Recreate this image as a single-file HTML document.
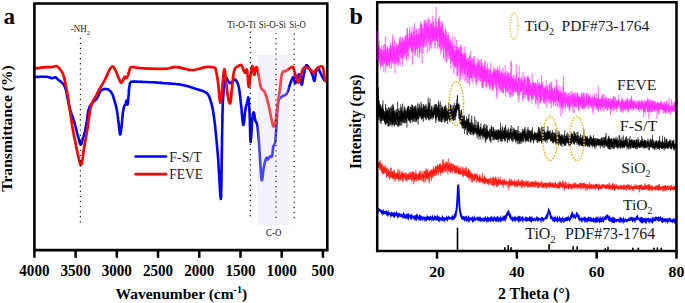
<!DOCTYPE html><html><head><meta charset="utf-8"><style>html,body{margin:0;padding:0;background:#fff;overflow:hidden}svg{display:block}</style></head><body><svg width="685" height="303" viewBox="0 0 685 303">
<rect width="685" height="303" fill="#fff"/>
<path d="M34.5,77.0 L35.9,77.0 37.8,76.9 40.1,76.8 42.5,76.8 44.6,76.7 46.4,76.8 47.7,77.0 48.8,77.2 49.7,77.5 50.5,77.8 51.3,78.1 52.0,78.2 52.7,78.1 53.3,77.9 53.8,77.7 54.3,77.4 54.8,77.3 55.3,77.3 55.8,77.5 56.4,77.9 56.9,78.4 57.5,79.0 58.0,79.5 58.6,80.0 59.2,80.4 59.7,80.9 60.3,81.3 60.9,81.7 61.4,82.2 61.9,82.6 62.3,83.0 62.7,83.4 63.0,83.8 63.4,84.2 63.7,84.6 64.0,85.2 64.3,85.8 64.7,86.5 65.0,87.3 65.3,88.1 65.6,89.0 65.9,90.0 66.2,91.1 66.4,92.4 66.7,93.7 66.9,95.1 67.2,96.5 67.5,98.0 67.8,99.5 68.2,101.2 68.5,102.9 68.9,104.6 69.3,106.1 69.6,107.5 69.9,108.6 70.1,109.5 70.4,110.3 70.6,111.1 70.9,112.0 71.2,113.0 71.6,114.2 72.1,115.5 72.6,116.8 73.1,118.2 73.5,119.6 74.0,121.0 74.4,122.4 74.8,123.9 75.2,125.4 75.6,126.9 75.9,128.4 76.3,129.8 76.7,131.2 77.0,132.6 77.4,134.0 77.8,135.4 78.1,136.7 78.5,138.0 78.9,139.3 79.3,140.8 79.6,142.2 80.0,143.4 80.4,144.2 80.8,144.5 81.2,144.2 81.5,143.4 81.9,142.2 82.3,140.8 82.6,139.3 83.0,138.0 83.4,136.8 83.8,135.5 84.2,134.1 84.6,132.7 85.0,131.3 85.3,129.8 85.6,128.2 85.9,126.6 86.2,124.9 86.5,123.2 86.8,121.5 87.0,120.0 87.2,118.5 87.4,117.1 87.5,115.7 87.7,114.4 87.9,113.2 88.1,112.0 88.3,110.9 88.6,109.9 88.9,109.0 89.2,108.1 89.5,107.2 89.9,106.4 90.3,105.6 90.8,104.9 91.3,104.2 91.8,103.6 92.4,102.9 92.9,102.3 93.5,101.7 94.1,101.3 94.7,100.8 95.3,100.3 95.9,99.7 96.5,99.0 97.1,98.0 97.7,96.9 98.2,95.6 98.8,94.4 99.3,93.3 99.8,92.4 100.2,91.7 100.6,91.2 100.9,90.9 101.3,90.5 101.6,90.3 102.0,90.0 102.4,89.7 102.8,89.5 103.3,89.3 103.7,89.1 104.3,89.0 104.8,89.0 105.4,89.0 106.1,89.0 106.8,89.1 107.5,89.3 108.2,89.5 108.9,89.9 109.5,90.4 110.1,90.9 110.7,91.5 111.2,92.3 111.7,93.1 112.2,94.0 112.7,95.0 113.1,96.2 113.5,97.5 113.9,98.8 114.3,100.1 114.7,101.5 115.1,102.9 115.5,104.3 115.9,105.7 116.2,107.2 116.6,108.7 116.9,110.4 117.2,112.2 117.5,114.0 117.7,116.0 118.0,118.0 118.2,120.0 118.5,122.0 118.8,124.3 119.0,126.9 119.3,129.5 119.6,131.9 119.8,133.6 120.1,134.5 120.4,134.3 120.6,133.4 120.9,131.8 121.1,129.9 121.4,127.9 121.6,126.0 121.8,124.1 122.0,121.9 122.2,119.6 122.4,117.4 122.6,115.3 122.8,113.5 123.0,112.0 123.2,110.8 123.4,109.7 123.6,108.7 123.8,107.8 124.0,107.0 124.2,106.3 124.5,105.8 124.8,105.3 125.0,104.9 125.3,104.5 125.5,104.0 125.7,103.4 125.9,102.6 126.0,101.8 126.2,101.1 126.4,100.7 126.5,100.5 126.6,100.8 126.8,101.5 126.9,102.4 127.0,103.4 127.2,104.1 127.3,104.5 127.4,104.6 127.5,104.5 127.6,104.2 127.7,103.8 127.9,103.0 128.0,102.0 128.2,100.5 128.3,98.5 128.5,96.2 128.7,93.9 128.8,91.8 129.0,90.0 129.1,88.6 129.3,87.4 129.4,86.4 129.5,85.5 129.7,84.7 129.8,84.0 129.9,83.4 130.0,83.0 130.1,82.8 130.3,82.6 130.5,82.4 130.8,82.2 131.1,82.0 131.2,81.9 131.5,81.7 131.9,81.7 132.8,81.6 134.3,81.6 136.6,81.6 139.6,81.7 143.0,81.9 146.5,82.0 149.9,82.2 152.7,82.3 155.1,82.4 157.1,82.6 159.0,82.8 160.8,82.9 162.6,83.1 164.3,83.2 166.0,83.3 167.7,83.4 169.3,83.5 170.8,83.6 172.3,83.8 173.9,83.9 175.4,84.0 176.9,84.2 178.4,84.3 179.9,84.5 181.4,84.8 183.1,85.1 184.9,85.5 186.8,86.1 188.8,86.6 190.8,87.2 192.8,87.8 194.6,88.4 196.3,88.9 198.0,89.4 199.7,89.9 201.2,90.4 202.6,90.9 203.9,91.5 205.0,92.0 205.8,92.5 206.6,93.0 207.2,93.6 207.9,94.4 208.5,95.4 209.2,96.7 209.8,98.3 210.4,100.0 211.0,101.8 211.5,103.8 212.0,105.8 212.5,107.9 212.9,110.1 213.3,112.4 213.6,114.8 214.0,117.3 214.3,119.7 214.6,122.1 214.9,124.4 215.2,126.7 215.4,129.2 215.7,131.9 216.0,135.0 216.3,138.4 216.7,141.9 217.0,145.7 217.4,149.9 217.8,154.4 218.2,159.5 218.6,166.1 219.1,174.5 219.6,183.2 220.0,191.1 220.5,196.8 220.8,199.0 221.1,196.9 221.2,191.3 221.4,183.6 221.5,174.9 221.6,166.4 221.7,159.5 221.8,154.0 221.9,148.8 222.0,143.9 222.0,139.2 222.1,134.5 222.2,129.8 222.3,125.0 222.4,120.1 222.4,115.3 222.6,110.6 222.7,106.1 222.9,101.7 223.2,97.3 223.5,92.7 223.8,88.3 224.2,84.2 224.6,80.9 225.0,78.5 225.4,77.3 225.8,77.0 226.2,77.4 226.6,78.2 227.0,79.1 227.4,79.7 227.8,80.2 228.2,80.8 228.6,81.5 228.9,82.2 229.3,82.8 229.7,83.1 230.1,83.2 230.4,83.1 230.8,82.9 231.1,82.6 231.5,82.3 232.0,82.0 232.5,81.6 233.1,80.9 233.7,80.3 234.3,79.7 234.9,79.5 235.5,79.7 236.1,80.3 236.7,81.3 237.3,82.5 237.9,84.0 238.4,85.8 238.9,87.8 239.3,90.1 239.7,92.8 240.1,95.7 240.4,98.7 240.7,101.9 241.1,105.0 241.5,108.6 241.8,112.8 242.2,117.0 242.6,120.8 242.9,123.7 243.3,125.0 243.6,124.5 244.0,122.4 244.3,119.3 244.6,115.8 245.0,112.5 245.3,110.0 245.7,108.1 246.0,106.4 246.4,104.9 246.8,103.6 247.1,102.4 247.4,101.3 247.6,100.2 247.8,99.1 248.0,98.2 248.1,97.6 248.2,97.5 248.4,98.1 248.6,99.5 248.8,101.5 249.0,104.0 249.2,107.0 249.4,110.3 249.6,113.9 249.8,118.4 249.9,124.2 250.1,130.3 250.2,135.9 250.4,140.1 250.6,142.0 250.8,141.1 251.1,137.9 251.4,133.3 251.7,128.3 251.9,123.6 252.2,120.2 252.5,117.9 252.7,116.0 252.9,114.4 253.2,113.2 253.4,112.5 253.7,112.3 254.0,112.7 254.2,113.8 254.5,115.4 254.7,117.1 255.0,118.8 255.3,120.2 255.6,121.1 256.0,121.8 256.4,122.4 256.8,123.2 257.1,124.5 257.5,126.4 257.8,129.1 258.1,132.2 258.4,135.9 258.8,139.8 259.1,144.1 259.4,148.5 259.7,153.7 260.1,159.9 260.5,166.4 260.9,172.4 261.2,177.2 261.6,180.0 262.0,180.4 262.3,178.9 262.7,176.2 263.0,172.9 263.4,169.7 263.8,167.3 264.2,165.4 264.6,163.5 265.1,161.7 265.5,160.1 265.9,158.8 266.3,157.9 266.6,157.6 266.9,157.8 267.1,158.3 267.4,158.9 267.6,159.4 267.9,159.5 268.2,159.2 268.6,158.7 269.0,158.0 269.4,157.3 269.7,156.7 270.1,156.3 270.4,156.2 270.8,156.4 271.1,156.7 271.4,156.9 271.7,156.8 272.0,156.3 272.2,155.2 272.4,153.7 272.6,151.9 272.8,150.0 273.0,148.3 273.2,146.9 273.5,146.0 273.8,145.4 274.1,145.0 274.5,144.4 274.8,143.6 275.1,142.2 275.4,140.2 275.6,137.9 275.8,135.2 276.0,132.3 276.2,129.3 276.4,126.4 276.6,123.3 276.8,120.0 277.0,116.5 277.2,113.2 277.4,110.1 277.6,107.6 277.8,105.6 278.0,104.0 278.1,102.7 278.3,101.6 278.6,100.6 278.9,99.7 279.3,98.9 279.9,98.2 280.5,97.7 281.0,97.3 281.6,96.9 282.0,96.6 282.3,96.4 282.4,96.2 282.6,96.2 282.7,96.1 282.9,96.0 283.2,95.8 283.7,95.6 284.3,95.4 284.9,95.1 285.6,94.7 286.3,94.2 286.9,93.4 287.4,92.3 288.0,90.9 288.5,89.3 289.0,87.6 289.4,86.1 289.9,84.7 290.3,83.5 290.8,82.3 291.1,81.2 291.5,80.3 291.9,79.4 292.2,78.7 292.5,78.1 292.7,77.6 292.9,77.3 293.2,77.1 293.4,77.1 293.6,77.3 293.8,78.0 294.1,79.1 294.3,80.4 294.5,81.7 294.8,82.7 295.1,83.2 295.4,83.2 295.8,82.7 296.3,82.0 296.7,81.2 297.1,80.3 297.4,79.5 297.7,78.6 297.9,77.6 298.1,76.5 298.4,75.5 298.6,74.7 298.8,74.3 299.0,74.3 299.3,74.5 299.5,75.0 299.8,75.7 300.0,76.5 300.3,77.3 300.6,78.4 300.8,80.0 301.1,81.7 301.3,83.2 301.6,84.3 301.8,84.7 302.0,84.4 302.3,83.4 302.5,82.1 302.7,80.5 303.0,78.9 303.3,77.3 303.6,75.6 304.0,73.7 304.4,71.7 304.8,69.8 305.2,68.2 305.5,66.9 305.8,66.1 306.0,65.6 306.2,65.3 306.5,65.2 306.7,65.3 307.0,65.4 307.3,65.6 307.7,66.0 308.0,66.4 308.4,67.0 308.8,67.7 309.2,68.4 309.7,69.2 310.2,70.1 310.7,71.1 311.2,72.2 311.7,73.2 312.2,74.3 312.6,75.5 313.0,77.0 313.4,78.5 313.7,79.8 314.1,80.7 314.4,81.0 314.7,80.5 314.9,79.3 315.1,77.6 315.4,75.9 315.6,74.2 315.9,72.8 316.2,71.6 316.6,70.5 316.9,69.4 317.3,68.5 317.7,67.8 318.1,67.6 318.5,67.9 318.9,68.6 319.2,69.6 319.6,70.7 320.0,71.9 320.4,72.8 320.8,73.6 321.2,74.4 321.5,75.2 321.9,75.9 322.3,76.7 322.6,77.3 322.9,77.9 323.3,78.5 323.6,79.0 323.9,79.5 324.2,79.9 324.4,80.2 324.6,80.4 324.8,80.5 325.0,80.5 325.1,80.5 325.2,80.5 325.3,80.5" fill="none" stroke="#0000ff" stroke-width="2.6" stroke-linejoin="round" stroke-linecap="round"/>
<path d="M34.5,68.4 L35.7,68.3 37.4,68.1 39.3,67.9 41.4,67.6 43.3,67.4 45.0,67.3 46.4,67.2 47.7,67.2 48.9,67.1 50.1,67.1 51.1,67.1 52.0,67.0 52.8,66.9 53.5,66.7 54.1,66.5 54.6,66.4 55.0,66.3 55.5,66.2 55.9,66.2 56.3,66.2 56.6,66.2 56.8,66.3 57.1,66.5 57.5,66.7 57.9,67.0 58.4,67.4 58.8,67.8 59.3,68.3 59.8,68.8 60.2,69.4 60.6,70.0 61.1,70.6 61.5,71.3 61.9,72.0 62.3,72.7 62.7,73.5 63.0,74.2 63.3,75.0 63.6,75.7 63.9,76.6 64.1,77.5 64.4,78.5 64.7,79.7 64.9,81.0 65.2,82.4 65.5,83.8 65.7,85.3 66.0,86.7 66.3,88.0 66.5,89.3 66.8,90.6 67.1,92.0 67.3,93.4 67.6,95.0 67.9,96.8 68.2,98.9 68.5,101.0 68.8,103.2 69.0,105.2 69.3,107.0 69.5,108.5 69.7,109.7 69.9,110.8 70.1,112.0 70.3,113.3 70.6,115.0 70.9,117.0 71.2,119.2 71.6,121.7 72.0,124.3 72.4,127.0 72.9,129.8 73.5,132.9 74.1,136.4 74.9,140.0 75.6,143.5 76.2,146.7 76.8,149.5 77.3,151.8 77.7,153.7 78.0,155.4 78.4,156.9 78.7,158.2 79.0,159.5 79.3,160.8 79.6,162.1 79.9,163.2 80.2,164.1 80.5,164.8 80.8,165.0 81.1,164.8 81.4,164.1 81.7,163.2 82.0,162.1 82.2,160.8 82.5,159.5 82.7,158.2 82.9,156.9 83.0,155.4 83.2,153.7 83.5,151.8 83.8,149.5 84.3,146.7 84.9,143.2 85.6,139.6 86.2,135.9 86.8,132.6 87.3,129.8 87.6,127.7 87.9,126.1 88.0,124.9 88.2,123.7 88.3,122.5 88.5,121.0 88.7,119.2 89.0,117.3 89.3,115.3 89.6,113.3 89.8,111.5 90.1,110.0 90.3,108.8 90.6,107.8 90.8,107.0 91.0,106.2 91.3,105.5 91.5,104.8 91.8,104.1 92.0,103.4 92.3,102.7 92.6,102.0 92.9,101.4 93.2,100.7 93.6,100.0 93.9,99.4 94.3,98.8 94.8,98.1 95.2,97.3 95.7,96.5 96.2,95.5 96.7,94.5 97.2,93.4 97.8,92.2 98.4,91.0 99.0,89.9 99.7,88.7 100.4,87.5 101.1,86.3 101.8,85.1 102.5,84.0 103.1,83.0 103.6,82.1 104.0,81.3 104.4,80.6 104.8,79.9 105.1,79.3 105.5,78.5 105.9,77.7 106.2,76.9 106.6,76.0 107.0,75.1 107.3,74.3 107.7,73.5 108.1,72.7 108.5,71.9 108.8,71.1 109.2,70.3 109.6,69.6 110.0,69.0 110.4,68.4 110.8,67.9 111.2,67.4 111.6,67.0 112.0,66.7 112.3,66.5 112.6,66.4 112.9,66.5 113.2,66.6 113.4,66.8 113.7,67.1 114.0,67.5 114.3,67.9 114.5,68.4 114.8,68.9 115.1,69.5 115.4,70.3 115.8,71.2 116.3,72.3 116.9,73.7 117.5,75.2 118.1,76.7 118.7,78.1 119.2,79.2 119.6,80.1 119.9,80.9 120.2,81.6 120.4,82.1 120.6,82.5 120.9,82.7 121.2,82.7 121.5,82.6 121.8,82.3 122.1,81.9 122.4,81.4 122.7,80.9 123.0,80.3 123.3,79.5 123.7,78.7 124.0,77.9 124.3,77.3 124.6,76.9 124.9,76.8 125.2,77.0 125.4,77.4 125.7,77.8 125.9,78.0 126.2,78.1 126.5,78.0 126.7,77.7 127.0,77.4 127.3,77.0 127.5,76.4 127.8,75.8 128.1,75.0 128.4,74.0 128.7,72.9 129.0,71.9 129.3,70.8 129.6,70.0 129.8,69.3 129.9,68.6 130.1,68.1 130.3,67.6 130.7,67.2 131.5,67.0 132.5,67.0 133.7,67.1 135.0,67.4 136.7,67.7 138.7,68.0 141.2,68.2 144.4,68.4 148.3,68.6 152.6,68.7 156.9,68.9 160.9,68.9 164.3,68.9 166.9,68.7 168.9,68.3 170.7,67.8 172.3,67.4 174.1,67.1 176.2,67.0 178.7,67.3 181.3,67.9 184.1,68.6 186.9,69.3 189.7,69.8 192.3,70.0 194.8,69.8 197.3,69.3 199.8,68.6 202.1,67.9 204.2,67.4 206.2,67.0 208.0,66.9 209.6,66.9 211.0,67.0 212.3,67.2 213.4,67.4 214.3,67.7 214.9,67.9 215.3,68.1 215.5,68.4 215.6,68.8 215.8,69.4 216.0,70.5 216.3,72.0 216.7,73.7 217.0,75.7 217.4,78.0 217.7,80.5 218.1,83.1 218.5,86.4 218.9,90.6 219.2,95.0 219.6,98.9 220.0,101.7 220.4,102.8 220.8,101.7 221.2,98.9 221.6,95.0 222.0,90.7 222.4,86.5 222.7,83.1 223.0,80.1 223.3,77.0 223.6,74.1 223.8,71.6 224.1,69.9 224.4,69.3 224.7,70.0 225.0,71.8 225.3,74.3 225.6,77.3 225.9,80.3 226.2,83.1 226.6,85.8 226.9,88.8 227.3,91.9 227.7,94.8 228.1,97.4 228.5,99.4 228.8,100.9 229.2,102.2 229.5,103.1 229.8,103.5 230.1,103.4 230.4,102.8 230.7,101.4 230.9,99.3 231.2,96.6 231.4,93.7 231.7,90.7 232.0,87.8 232.3,84.9 232.7,81.7 233.0,78.4 233.4,75.3 233.8,72.5 234.3,70.4 234.8,68.9 235.4,68.0 236.0,67.5 236.6,67.1 237.2,66.8 237.8,66.5 238.4,66.0 239.0,65.6 239.6,65.2 240.2,65.0 240.8,64.9 241.3,65.1 241.8,65.6 242.2,66.5 242.6,67.5 242.9,68.6 243.3,69.6 243.6,70.4 243.9,71.0 244.2,71.6 244.4,72.1 244.7,72.4 244.9,72.6 245.2,72.7 245.5,72.3 245.8,71.4 246.1,70.4 246.4,69.6 246.7,69.4 247.0,70.0 247.3,72.0 247.6,75.2 247.9,78.9 248.2,82.6 248.5,85.5 248.8,87.0 249.1,86.9 249.3,85.8 249.5,83.9 249.8,81.6 250.0,79.3 250.3,77.3 250.6,75.3 250.9,72.9 251.3,70.5 251.6,68.4 252.0,66.8 252.3,66.1 252.6,66.6 253.0,68.1 253.3,70.2 253.7,72.4 254.0,74.1 254.3,74.8 254.6,74.4 254.9,73.2 255.2,71.5 255.4,69.7 255.7,68.2 256.0,67.4 256.3,67.1 256.5,67.0 256.8,67.1 257.0,67.6 257.3,68.5 257.7,69.9 258.1,72.1 258.6,75.0 259.2,78.4 259.7,81.8 260.3,84.9 260.9,87.2 261.5,88.6 262.1,89.5 262.8,90.0 263.4,90.4 264.1,91.0 264.7,92.1 265.3,93.7 265.9,95.5 266.6,97.5 267.2,99.7 267.8,102.1 268.4,104.5 269.0,107.3 269.7,110.4 270.4,113.7 271.0,116.9 271.6,119.8 272.1,122.0 272.5,123.6 272.8,124.9 273.1,125.7 273.3,126.3 273.5,126.5 273.8,126.5 274.1,126.1 274.4,125.4 274.8,124.4 275.1,123.2 275.4,121.7 275.7,120.2 276.0,118.5 276.2,116.6 276.5,114.5 276.7,112.2 277.0,109.9 277.3,107.6 277.6,105.2 278.0,102.8 278.3,100.2 278.7,97.6 279.1,94.9 279.5,92.1 279.9,89.0 280.3,85.6 280.7,82.0 281.1,78.7 281.5,75.8 282.0,73.6 282.6,72.3 283.2,71.6 283.8,71.3 284.5,71.3 285.1,71.3 285.7,71.1 286.2,70.7 286.6,70.4 287.1,70.1 287.5,69.8 288.0,69.4 288.5,69.1 289.2,68.7 290.0,68.1 290.8,67.6 291.6,67.2 292.3,66.9 292.9,66.9 293.3,67.2 293.6,67.8 293.8,68.5 294.0,69.4 294.1,70.3 294.4,71.3 294.7,72.4 295.1,73.7 295.5,75.0 295.8,76.4 296.2,77.6 296.6,78.7 297.0,79.7 297.3,80.6 297.7,81.5 298.1,82.2 298.4,82.5 298.8,82.4 299.2,81.7 299.6,80.5 300.0,79.0 300.3,77.3 300.7,75.7 301.1,74.3 301.5,73.1 301.8,72.0 302.2,70.9 302.5,69.9 302.9,69.1 303.3,68.4 303.7,67.9 304.2,67.7 304.7,67.5 305.2,67.5 305.8,67.5 306.3,67.6 306.9,67.7 307.5,67.8 308.1,68.1 308.7,68.4 309.4,68.7 310.0,69.1 310.6,69.7 311.3,70.4 311.9,71.2 312.6,72.0 313.2,72.5 313.7,72.8 314.1,72.7 314.5,72.3 314.8,71.7 315.1,71.0 315.5,70.4 315.9,69.8 316.4,69.3 317.0,68.7 317.7,68.2 318.4,67.6 319.0,67.2 319.6,66.9 320.2,66.6 320.7,66.4 321.2,66.3 321.7,66.2 322.2,66.4 322.6,66.9 322.9,67.7 323.2,68.8 323.5,70.2 323.7,71.6 323.9,73.0 324.1,74.3 324.3,75.5 324.6,76.8 324.8,78.1 325.0,79.3 325.2,80.3 325.3,81.0" fill="none" stroke="#ff0000" stroke-width="2.7" stroke-linejoin="round" stroke-linecap="round"/>
<rect x="257.7" y="55" width="30.6" height="170.3" fill="#dcd2f0" fill-opacity="0.32"/>
<line x1="80.4" y1="38.3" x2="80.4" y2="222.04" stroke="#111" stroke-width="1.4" stroke-dasharray="0.01 5.09" stroke-linecap="round"/>
<line x1="250.4" y1="32.2" x2="250.4" y2="215.94" stroke="#111" stroke-width="1.4" stroke-dasharray="0.01 5.09" stroke-linecap="round"/>
<line x1="276" y1="33.6" x2="276" y2="217.34" stroke="#111" stroke-width="1.4" stroke-dasharray="0.01 5.09" stroke-linecap="round"/>
<line x1="294.2" y1="33.9" x2="294.2" y2="217.64" stroke="#111" stroke-width="1.4" stroke-dasharray="0.01 5.09" stroke-linecap="round"/>
<path d="M34.4,3.5 H327.3 V250.1 H34.4 Z" fill="none" stroke="#000" stroke-width="2.6"/>
<line x1="34.40" y1="250.1" x2="34.40" y2="257.8" stroke="#000" stroke-width="2.5"/>
<text x="34.40" y="275.6" text-anchor="middle" textLength="30.20" lengthAdjust="spacingAndGlyphs" style="font-family:'Liberation Serif',serif;font-weight:bold;font-size:15.8px">4000</text>
<line x1="75.62" y1="250.1" x2="75.62" y2="257.8" stroke="#000" stroke-width="2.5"/>
<text x="75.62" y="275.6" text-anchor="middle" textLength="30.20" lengthAdjust="spacingAndGlyphs" style="font-family:'Liberation Serif',serif;font-weight:bold;font-size:15.8px">3500</text>
<line x1="116.83" y1="250.1" x2="116.83" y2="257.8" stroke="#000" stroke-width="2.5"/>
<text x="116.83" y="275.6" text-anchor="middle" textLength="30.20" lengthAdjust="spacingAndGlyphs" style="font-family:'Liberation Serif',serif;font-weight:bold;font-size:15.8px">3000</text>
<line x1="158.05" y1="250.1" x2="158.05" y2="257.8" stroke="#000" stroke-width="2.5"/>
<text x="158.05" y="275.6" text-anchor="middle" textLength="30.20" lengthAdjust="spacingAndGlyphs" style="font-family:'Liberation Serif',serif;font-weight:bold;font-size:15.8px">2500</text>
<line x1="199.26" y1="250.1" x2="199.26" y2="257.8" stroke="#000" stroke-width="2.5"/>
<text x="199.26" y="275.6" text-anchor="middle" textLength="30.20" lengthAdjust="spacingAndGlyphs" style="font-family:'Liberation Serif',serif;font-weight:bold;font-size:15.8px">2000</text>
<line x1="240.48" y1="250.1" x2="240.48" y2="257.8" stroke="#000" stroke-width="2.5"/>
<text x="240.48" y="275.6" text-anchor="middle" textLength="30.20" lengthAdjust="spacingAndGlyphs" style="font-family:'Liberation Serif',serif;font-weight:bold;font-size:15.8px">1500</text>
<line x1="281.69" y1="250.1" x2="281.69" y2="257.8" stroke="#000" stroke-width="2.5"/>
<text x="281.69" y="275.6" text-anchor="middle" textLength="30.20" lengthAdjust="spacingAndGlyphs" style="font-family:'Liberation Serif',serif;font-weight:bold;font-size:15.8px">1000</text>
<line x1="322.90" y1="250.1" x2="322.90" y2="257.8" stroke="#000" stroke-width="2.5"/>
<text x="322.90" y="275.6" text-anchor="middle" textLength="22.65" lengthAdjust="spacingAndGlyphs" style="font-family:'Liberation Serif',serif;font-weight:bold;font-size:15.8px">500</text>
<text x="181.3" y="298.5" text-anchor="middle" style="font-family:'Liberation Serif',serif;font-weight:bold;font-size:15.5px">Wavenumber (cm<tspan dy="-6" font-size="10">-1</tspan><tspan dy="6">)</tspan></text>
<text transform="translate(11.6,128.5) rotate(-90)" text-anchor="middle" textLength="126.6" lengthAdjust="spacingAndGlyphs" style="font-family:'Liberation Serif',serif;font-weight:bold;font-size:15.6px">Transmittance (%)</text>
<text x="3.5" y="23.5" style="font-family:'Liberation Serif',serif;font-weight:bold;font-size:23px">a</text>
<text x="70.8" y="32.2" textLength="16" lengthAdjust="spacingAndGlyphs" style="font-family:'Liberation Serif',serif;font-size:10px" fill="#1a1a1a">-NH</text>
<text x="86.9" y="34.6" style="font-family:'Liberation Serif',serif;font-size:6.3px" fill="#1a1a1a">2</text>
<text x="227.3" y="28.1" textLength="28.6" lengthAdjust="spacingAndGlyphs" style="font-family:'Liberation Serif',serif;font-size:10.2px" fill="#1a1a1a">Ti-O-Ti</text>
<text x="258.8" y="28.1" textLength="27.3" lengthAdjust="spacingAndGlyphs" style="font-family:'Liberation Serif',serif;font-size:10.2px" fill="#1a1a1a">Si-O-Si</text>
<text x="289.3" y="28.1" textLength="16.5" lengthAdjust="spacingAndGlyphs" style="font-family:'Liberation Serif',serif;font-size:10.2px" fill="#1a1a1a">Si-O</text>
<text x="266.1" y="236.4" textLength="15.4" lengthAdjust="spacingAndGlyphs" style="font-family:'Liberation Serif',serif;font-size:9.6px" fill="#111">C-O</text>
<line x1="135.6" y1="156.5" x2="166" y2="156.5" stroke="#0000ff" stroke-width="2.7" stroke-linecap="round"/>
<line x1="135.6" y1="174.2" x2="166" y2="174.2" stroke="#ff0000" stroke-width="2.7" stroke-linecap="round"/>
<text x="169.3" y="161.6" textLength="32.4" lengthAdjust="spacingAndGlyphs" style="font-family:'Liberation Serif',serif;font-size:14px" fill="#1a1a1a">F-S/T</text>
<text x="169.3" y="178.9" textLength="33.6" lengthAdjust="spacingAndGlyphs" style="font-family:'Liberation Serif',serif;font-size:14px" fill="#1a1a1a">FEVE</text>
<path transform="translate(377.60,0) scale(0.06,0.1)" d="M0,565l1,19 1,-36 1,-38 1,27 1,-33 1,65 1,80 1,-114 1,-7 1,69 1,-9 1,-15 1,-64 1,56 1,45 1,-127 1,56 1,-90 1,38 1,-34 1,100 1,-64 1,96 1,-7 1,-22 1,-145 1,93 1,61 1,11 1,-103 1,66 1,-31 1,11 1,116 1,-116 1,48 1,58 1,-92 1,24 1,20 1,-3 1,-80 1,81 1,80 1,-181 1,150 1,-46 1,-47 1,165 1,-77 1,-123 1,80 1,32 1,-48 1,54 1,-46 1,46 1,48 1,-132 1,55 1,-42 1,37 1,-82 1,38 1,24 1,69 1,16 1,-155 1,33 1,91 1,-166 1,96 1,23 1,86 1,-36 1,-64 1,-2 1,7 1,112 1,-123 1,8 1,41 1,-36 1,2 1,-58 1,70 1,-27 1,101 1,-32 1,-43 1,44 1,-83 1,107 1,-66 1,37 1,-118 1,103 1,-129 1,-21 1,109 1,-38 1,68 1,132 1,-195 1,13 1,53 1,18 1,-43 1,-1 1,57 1,-11 1,-99 1,61 1,7 1,-69 1,83 1,-71 1,117 1,-50 1,-6 1,-44 1,30 1,-119 1,55 1,95 1,-159 1,190 1,-265 1,259 1,-102 1,103 1,-41 1,-106 1,249 1,-60 1,-96 1,-13 1,-2 1,-43 1,132 1,-105 1,32 1,-48 1,11 1,-42 1,162 1,-91 1,72 1,-61 1,-45 1,23 1,-15 1,36 1,-25 1,5 1,-69 1,36 1,158 1,-149 1,-25 1,89 1,69 1,-184 1,80 1,-28 1,-72 1,160 1,-49 1,6 1,-53 1,77 1,-64 1,25 1,-62 1,-7 1,164 1,-119 1,51 1,-21 1,-26 1,-5 1,73 1,-60 1,10 1,11 1,74 1,-32 1,-20 1,-61 1,-53 1,150 1,1 1,-71 1,43 1,16 1,3 1,5 1,-89 1,127 1,-178 1,136 1,-24 1,24 1,65 1,-26 1,-170 1,-36 1,162 1,-119 1,65 1,55 1,-161 1,-31 1,154 1,-15 1,-19 1,18 1,-58 1,-43 1,87 1,-52 1,-44 1,139 1,-37 1,30 1,-91 1,22 1,-23 1,7 1,70 1,-64 1,74 1,-1 1,109 1,-222 1,148 1,-64 1,4 1,-93 1,64 1,78 1,-54 1,10 1,-24 1,94 1,-77 1,-143 1,98 1,-83 1,-84 1,177 1,121 1,-84 1,-80 1,15 1,135 1,-55 1,-16 1,-7 1,5 1,50 1,-17 1,-22 1,-82 1,101 1,-79 1,116 1,-155 1,66 1,17 1,-87 1,199 1,-17 1,-127 1,81 1,-26 1,-196 1,187 1,-21 1,9 1,-76 1,53 1,5 1,90 1,-57 1,-22 1,100 1,-137 1,11 1,-94 1,315 1,-133 1,-4 1,-16 1,-37 1,6 1,-31 1,3 1,17 1,95 1,-63 1,-41 1,-34 1,-4 1,147 1,-73 1,-29 1,-28 1,-50 1,68 1,62 1,-107 1,34 1,0 1,21 1,-113 1,90 1,-41 1,114 1,-110 1,89 1,62 1,-121 1,-20 1,52 1,-13 1,-66 1,96 1,103 1,-151 1,3 1,-56 1,90 1,-104 1,9 1,158 1,-146 1,132 1,29 1,-85 1,20 1,92 1,-143 1,-27 1,-50 1,92 1,95 1,-35 1,-127 1,6 1,23 1,52 1,-33 1,27 1,6 1,-40 1,16 1,16 1,-19 1,38 1,91 1,-85 1,-36 1,-117 1,138 1,-156 1,35 1,151 1,-10 1,-58 1,-104 1,89 1,-21 1,126 1,69 1,-137 1,-67 1,-97 1,145 1,-8 1,-66 1,84 1,-85 1,151 1,-3 1,1 1,-105 1,66 1,-44 1,-17 1,3 1,-65 1,-10 1,149 1,-66 1,27 1,52 1,-184 1,16 1,112 1,14 1,-52 1,94 1,-56 1,-96 1,19 1,116 1,-23 1,-159 1,218 1,-51 1,50 1,-117 1,6 1,-57 1,247 1,-183 1,118 1,-151 1,54 1,-124 1,87 1,92 1,-152 1,157 1,-50 1,-94 1,36 1,-25 1,55 1,-66 1,13 1,35 1,-49 1,-19 1,84 1,63 1,-164 1,104 1,-45 1,-23 1,124 1,-93 1,136 1,-155 1,79 1,-42 1,-36 1,91 1,-51 1,51 1,-45 1,-70 1,66 1,10 1,61 1,-127 1,59 1,-115 1,161 1,-118 1,-50 1,119 1,79 1,-180 1,30 1,23 1,-27 1,103 1,-82 1,6 1,89 1,-92 1,81 1,-97 1,-16 1,-43 1,252 1,-150 1,39 1,-19 1,12 1,-8 1,127 1,-202 1,-36 1,37 1,-22 1,142 1,5 1,-123 1,-115 1,156 1,120 1,-289 1,229 1,-110 1,145 1,-146 1,54 1,-84 1,36 1,162 1,-39 1,-85 1,-32 1,-71 1,103 1,24 1,-4 1,-6 1,-66 1,73 1,1 1,92 1,39 1,-139 1,-43 1,48 1,-38 1,-10 1,47 1,-68 1,114 1,-50 1,24 1,-30 1,-38 1,-16 1,49 1,-22 1,54 1,-17 1,-179 1,184 1,-99 1,51 1,22 1,-124 1,150 1,4 1,-22 1,-19 1,3 1,-42 1,49 1,-20 1,44 1,-90 1,100 1,2 1,-29 1,-49 1,96 1,-155 1,148 1,-15 1,2 1,31 1,-97 1,27 1,63 1,-15 1,-16 1,-121 1,144 1,44 1,-12 1,-55 1,-126 1,175 1,-76 1,-168 1,204 1,-132 1,13 1,47 1,133 1,-116 1,45 1,104 1,90 1,-221 1,-10 1,-72 1,39 1,79 1,-3 1,-20 1,62 1,-125 1,50 1,55 1,-10 1,34 1,-48 1,-50 1,47 1,-97 1,-46 1,157 1,-45 1,25 1,-142 1,94 1,-17 1,-19 1,-100 1,136 1,88 1,-37 1,-71 1,42 1,54 1,-250 1,187 1,47 1,9 1,73 1,-41 1,-59 1,-1 1,34 1,-95 1,35 1,68 1,74 1,-151 1,7 1,18 1,81 1,-99 1,107 1,-174 1,55 1,-1 1,70 1,18 1,-183 1,-17 1,148 1,-114 1,-20 1,184 1,-40 1,0 1,-70 1,107 1,-91 1,95 1,-203 1,62 1,76 1,-66 1,99 1,-30 1,-86 1,72 1,-31 1,91 1,-112 1,13 1,119 1,74 1,-18 1,-140 1,11 1,94 1,-120 1,-62 1,79 1,53 1,-123 1,-59 1,14 1,152 1,-103 1,35 1,34 1,29 1,-69 1,60 1,-102 1,38 1,-48 1,156 1,-85 1,-52 1,28 1,9 1,67 1,-168 1,40 1,48 1,212 1,-116 1,-78 1,60 1,97 1,-167 1,-10 1,114 1,-52 1,56 1,-130 1,177 1,-16 1,-84 1,8 1,-199 1,195 1,-62 1,46 1,18 1,-76 1,-99 1,150 1,-81 1,29 1,-20 1,19 1,-145 1,258 1,-71 1,62 1,64 1,-144 1,-135 1,66 1,-23 1,51 1,42 1,-153 1,172 1,-137 1,133 1,-31 1,-15 1,17 1,-35 1,-6 1,-79 1,121 1,261 1,-113 1,-49 1,-46 1,-103 1,156 1,-111 1,-2 1,-16 1,27 1,-39 1,25 1,-74 1,52 1,196 1,-174 1,-13 1,56 1,13 1,-136 1,53 1,97 1,-49 1,-11 1,106 1,-166 1,56 1,-45 1,148 1,-256 1,95 1,10 1,88 1,-5 1,59 1,-221 1,172 1,-78 1,-28 1,89 1,-109 1,-87 1,127 1,-84 1,62 1,76 1,-5 1,94 1,-133 1,-100 1,58 1,-13 1,-23 1,123 1,-81 1,-99 1,199 1,-61 1,34 1,-19 1,39 1,-45 1,90 1,-61 1,-3 1,1 1,-140 1,96 1,-7 1,34 1,-117 1,223 1,-115 1,-99 1,-37 1,106 1,14 1,-47 1,60 1,-55 1,126 1,-133 1,48 1,78 1,119 1,-268 1,40 1,-28 1,121 1,-145 1,49 1,34 1,-72 1,1 1,36 1,-122 1,49 1,77 1,41 1,-25 1,-120 1,98 1,94 1,-18 1,-48 1,-61 1,113 1,-91 1,-44 1,-27 1,222 1,-92 1,70 1,-123 1,106 1,-116 1,22 1,209 1,-130 1,-95 1,31 1,30 1,66 1,-127 1,-95 1,110 1,21 1,7 1,91 1,-76 1,37 1,-144 1,148 1,92 1,-100 1,-39 1,-8 1,122 1,-203 1,61 1,42 1,21 1,-88 1,55 1,-44 1,30 1,-19 1,-76 1,84 1,67 1,-138 1,54 1,68 1,-130 1,93 1,-93 1,164 1,89 1,-22 1,-168 1,72 1,-47 1,-1 1,108 1,-215 1,178 1,-83 1,109 1,-91 1,-64 1,71 1,34 1,-52 1,34 1,-76 1,-120 1,227 1,-15 1,-42 1,-5 1,72 1,-112 1,-18 1,39 1,103 1,-193 1,193 1,-137 1,-34 1,177 1,-102 1,-89 1,70 1,97 1,19 1,-120 1,62 1,23 1,-101 1,75 1,-29 1,-37 1,3 1,42 1,-3 1,-44 1,11 1,115 1,-67 1,50 1,24 1,-45 1,125 1,-230 1,122 1,-84 1,162 1,-11 1,-272 1,74 1,122 1,9 1,-3 1,-60 1,39 1,15 1,-54 1,83 1,-337 1,308 1,-123 1,148 1,-88 1,-48 1,94 1,-95 1,0 1,-48 1,114 1,40 1,39 1,-86 1,89 1,-76 1,-8 1,50 1,36 1,-103 1,7 1,7 1,18 1,-72 1,143 1,-105 1,64 1,-95 1,88 1,3 1,-59 1,180 1,-121 1,104 1,-60 1,-119 1,21 1,61 1,-27 1,0 1,-24 1,-112 1,117 1,-146 1,191 1,-80 1,1 1,37 1,37 1,-125 1,-22 1,50 1,-71 1,80 1,188 1,-194 1,126 1,-238 1,214 1,-45 1,20 1,46 1,88 1,-114 1,-4 1,-80 1,153 1,-99 1,80 1,-63 1,131 1,-272 1,124 1,87 1,-89 1,-32 1,39 1,-81 1,111 1,170 1,-94 1,-164 1,18 1,35 1,103 1,-132 1,-35 1,161 1,-1 1,-89 1,-54 1,-30 1,62 1,-110 1,217 1,-99 1,81 1,101 1,-49 1,-168 1,147 1,22 1,-137 1,-15 1,62 1,-107 1,223 1,-279 1,94 1,62 1,4 1,29 1,8 1,-34 1,98 1,-236 1,156 1,-51 1,62 1,7 1,-81 1,21 1,104 1,-31 1,-74 1,197 1,20 1,-271 1,128 1,160 1,-124 1,-39 1,-30 1,-23 1,24 1,-23 1,94 1,-82 1,-2 1,-53 1,83 1,-60 1,52 1,89 1,-48 1,11 1,-10 1,-20 1,-12 1,-12 1,77 1,-131 1,261 1,-179 1,-55 1,20 1,-13 1,61 1,-61 1,133 1,-136 1,-105 1,111 1,-90 1,141 1,79 1,-28 1,-140 1,42 1,182 1,-103 1,-21 1,75 1,101 1,-81 1,-81 1,16 1,20 1,-86 1,-98 1,147 1,-70 1,64 1,12 1,160 1,-225 1,53 1,-2 1,43 1,44 1,-107 1,-22 1,-57 1,51 1,104 1,-33 1,-74 1,46 1,30 1,34 1,-76 1,25 1,-109 1,48 1,195 1,-266 1,131 1,40 1,-41 1,-30 1,54 1,4 1,-4 1,-125 1,122 1,-49 1,23 1,55 1,30 1,18 1,-96 1,100 1,18 1,-2 1,19 1,-107 1,-1 1,71 1,-152 1,110 1,-50 1,12 1,-95 1,60 1,61 1,64 1,8 1,-74 1,-7 1,-44 1,87 1,-45 1,98 1,43 1,-124 1,-100 1,-9 1,13 1,19 1,255 1,-155 1,-121 1,151 1,43 1,-111 1,-21 1,24 1,43 1,26 1,38 1,2 1,-1 1,13 1,-48 1,-150 1,97 1,31 1,-47 1,90 1,-87 1,-38 1,163 1,-53 1,-30 1,50 1,10 1,-49 1,-192 1,123 1,16 1,-36 1,82 1,69 1,-115 1,-44 1,218 1,-169 1,-53 1,101 1,14 1,-77 1,103 1,-87 1,-29 1,76 1,41 1,-96 1,67 1,-28 1,200 1,-241 1,143 1,-97 1,-5 1,59 1,12 1,26 1,-63 1,-63 1,5 1,72 1,5 1,57 1,-66 1,44 1,31 1,-91 1,-203 1,113 1,-17 1,206 1,-165 1,142 1,-43 1,77 1,-48 1,-74 1,-6 1,20 1,6 1,-47 1,34 1,112 1,-224 1,134 1,-78 1,74 1,45 1,-60 1,57 1,-160 1,183 1,-115 1,84 1,-30 1,-186 1,78 1,113 1,90 1,-85 1,-1 1,-112 1,279 1,-61 1,-119 1,-17 1,-93 1,169 1,123 1,-133 1,37 1,-48 1,-102 1,157 1,-173 1,70 1,33 1,41 1,-31 1,-1 1,-77 1,-35 1,92 1,-52 1,-39 1,3 1,53 1,-91 1,34 1,-18 1,122 1,16 1,107 1,-234 1,56 1,107 1,-75 1,-7 1,239 1,-239 1,-54 1,-10 1,111 1,-2 1,-111 1,26 1,102 1,3 1,-81 1,85 1,-3 1,-156 1,99 1,48 1,-99 1,-70 1,125 1,69 1,55 1,-250 1,320 1,-248 1,139 1,19 1,-16 1,-55 1,-87 1,119 1,-88 1,-120 1,356 1,-140 1,74 1,-181 1,158 1,9 1,-2 1,-104 1,-78 1,69 1,-134 1,34 1,119 1,-71 1,55 1,4 1,135 1,-41 1,-88 1,83 1,-131 1,30 1,83 1,-142 1,64 1,-68 1,95 1,100 1,-156 1,64 1,-73 1,-16 1,-5 1,177 1,60 1,-123 1,-78 1,93 1,-67 1,75 1,-33 1,-1 1,22 1,-77 1,12 1,-86 1,84 1,-64 1,84 1,-52 1,69 1,24 1,-122 1,40 1,-8 1,111 1,63 1,-56 1,-78 1,119 1,-194 1,197 1,-140 1,-138 1,354 1,-69 1,-170 1,79 1,-25 1,21 1,-103 1,53 1,75 1,-15 1,64 1,-73 1,148 1,-199 1,64 1,-141 1,44 1,168 1,-147 1,96 1,-38 1,-64 1,25 1,10 1,3 1,80 1,-6 1,-79 1,-21 1,77 1,-24 1,73 1,106 1,-117 1,-56 1,-9 1,-44 1,-2 1,-6 1,39 1,-1 1,76 1,-74 1,14 1,-66 1,185 1,-73 1,83 1,-63 1,45 1,-112 1,63 1,128 1,-252 1,154 1,34 1,-81 1,22 1,34 1,-126 1,71 1,-84 1,13 1,5 1,31 1,19 1,21 1,-123 1,224 1,-54 1,-28 1,-70 1,18 1,42 1,-9 1,-137 1,160 1,143 1,-312 1,186 1,-40 1,-31 1,97 1,-167 1,89 1,85 1,-108 1,-14 1,35 1,-36 1,131 1,-161 1,117 1,-139 1,127 1,-51 1,-162 1,170 1,-70 1,42 1,130 1,-174 1,4 1,165 1,-87 1,94 1,-79 1,-131 1,106 1,85 1,-18 1,-62 1,4 1,-10 1,-30 1,164 1,-125 1,-74 1,43 1,79 1,-5 1,-51 1,-34 1,46 1,-111 1,25 1,137 1,-82 1,56 1,55 1,-37 1,-40 1,137 1,-94 1,-67 1,71 1,-20 1,-82 1,65 1,-19 1,-117 1,117 1,-7 1,-10 1,-78 1,85 1,20 1,10 1,-80 1,115 1,-119 1,64 1,100 1,-129 1,12 1,103 1,-94 1,6 1,34 1,54 1,-211 1,90 1,-11 1,-5 1,15 1,2 1,74 1,-77 1,66 1,18 1,-73 1,56 1,97 1,-84 1,-61 1,37 1,-54 1,76 1,38 1,-107 1,39 1,85 1,-103 1,45 1,-78 1,14 1,20 1,169 1,-162 1,-37 1,28 1,26 1,51 1,-29 1,118 1,-115 1,77 1,-73 1,21 1,-128 1,83 1,4 1,-11 1,-119 1,190 1,-79 1,-3 1,12 1,2 1,40 1,-105 1,22 1,76 1,-9 1,-32 1,-12 1,-16 1,49 1,77 1,-139 1,161 1,-42 1,-81 1,78 1,-140 1,-16 1,27 1,55 1,6 1,-12 1,39 1,-139 1,164 1,-119 1,48 1,15 1,-46 1,-13 1,23 1,62 1,38 1,-1 1,-97 1,13 1,-8 1,85 1,-154 1,204 1,-107 1,-18 1,70 1,43 1,-42 1,44 1,-57 1,68 1,1 1,-83 1,96 1,-79 1,-4 1,-63 1,40 1,66 1,-129 1,122 1,-19 1,-4 1,-153 1,130 1,47 1,-87 1,53 1,-153 1,189 1,-119 1,132 1,-168 1,157 1,-57 1,65 1,-107 1,19 1,177 1,-189 1,8 1,26 1,-45 1,136 1,34 1,-150 1,-63 1,244 1,-69 1,-17 1,21 1,-125 1,44 1,-75 1,-2 1,148 1,-102 1,182 1,-135 1,-44 1,89 1,62 1,-81 1,-104 1,98 1,62 1,-115 1,-17 1,110 1,-54 1,-76 1,45 1,-23 1,65 1,-11 1,64 1,-27 1,-139 1,121 1,30 1,-27 1,36 1,-97 1,-24 1,115 1,-122 1,-67 1,196 1,-107 1,25 1,-66 1,4 1,11 1,49 1,65 1,-183 1,187 1,-119 1,8 1,107 1,-46 1,-89 1,207 1,-165 1,68 1,-3 1,74 1,-114 1,90 1,-107 1,115 1,-116 1,25 1,139 1,-97 1,-12 1,130 1,-115 1,-71 1,95 1,-117 1,141 1,5 1,-108 1,-4 1,50 1,-10 1,-60 1,94 1,-159 1,99 1,2 1,-7 1,50 1,-93 1,111 1,-47 1,-28 1,-44 1,12 1,94 1,-80 1,63 1,61 1,-2 1,33 1,-114 1,-48 1,129 1,-43 1,50 1,-68 1,73 1,-21 1,-8 1,-13 1,-6 1,-10 1,0 1,47 1,-92 1,137 1,-112 1,67 1,-65 1,-10 1,140 1,-143 1,-59 1,35 1,24 1,151 1,-119 1,45 1,-118 1,83 1,20 1,69 1,-152 1,79 1,-18 1,-80 1,61 1,-15 1,-125 1,178 1,-3 1,-60 1,-54 1,171 1,-73 1,46 1,24 1,-117 1,81 1,-64 1,8 1,2 1,5 1,68 1,-60 1,-16 1,-8 1,38 1,-75 1,24 1,28 1,-31 1,27 1,-30 1,159 1,-40 1,-54 1,-30 1,137 1,-114 1,-24 1,24 1,0 1,67 1,-86 1,128 1,-180 1,95 1,-102 1,171 1,-130 1,17 1,110 1,-30 1,-144 1,47 1,-63 1,93 1,-15 1,-14 1,-21 1,19 1,-22 1,78 1,60 1,-209 1,110 1,-18 1,55 1,-87 1,49 1,-54 1,106 1,-36 1,-16 1,32 1,-37 1,-79 1,131 1,-19 1,-26 1,69 1,14 1,-140 1,19 1,142 1,-8 1,-130 1,-27 1,33 1,9 1,-66 1,100 1,-81 1,5 1,128 1,-96 1,37 1,43 1,11 1,-69 1,23 1,-97 1,295 1,-161 1,-106 1,67 1,43 1,-14 1,82 1,-27 1,-115 1,27 1,-72 1,93 1,-6 1,154 1,-157 1,-132 1,86 1,48 1,-83 1,24 1,30 1,43 1,-30 1,-44 1,102 1,-80 1,3 1,-53 1,36 1,87 1,-137 1,93 1,48 1,-66 1,38 1,-82 1,147 1,-13 1,-52 1,-120 1,43 1,122 1,45 1,-85 1,57 1,-111 1,25 1,12 1,25 1,-117 1,149 1,23 1,-148 1,-13 1,103 1,-60 1,-103 1,191 1,-39 1,-38 1,156 1,-118 1,-54 1,52 1,-68 1,16 1,70 1,-57 1,7 1,127 1,-48 1,-3 1,-17 1,-2 1,59 1,-89 1,113 1,-169 1,42 1,-67 1,63 1,52 1,56 1,-127 1,40 1,-21 1,-23 1,-27 1,75 1,-107 1,111 1,-5 1,-41 1,-21 1,-22 1,195 1,-192 1,174 1,-57 1,-58 1,-47 1,132 1,41 1,-159 1,38 1,81 1,-43 1,100 1,-154 1,97 1,-137 1,201 1,-169 1,-89 1,125 1,0 1,123 1,-135 1,20 1,36 1,60 1,-99 1,67 1,-31 1,-49 1,23 1,-3 1,-57 1,128 1,-155 1,153 1,-13 1,-62 1,-40 1,32 1,42 1,16 1,-27 1,43 1,-93 1,48 1,-108 1,140 1,-36 1,-34 1,94 1,-28 1,-209 1,171 1,-89 1,150 1,86 1,-180 1,36 1,-20 1,37 1,17 1,39 1,-136 1,153 1,-149 1,72 1,53 1,-26 1,-99 1,15 1,14 1,25 1,72 1,-146 1,105 1,9 1,-3 1,-5 1,63 1,-61 1,22 1,-17 1,73 1,-220 1,190 1,-92 1,-1 1,-41 1,-53 1,89 1,-18 1,70 1,-117 1,173 1,-68 1,-31 1,-27 1,-5 1,-20 1,35 1,33 1,-11 1,-73 1,68 1,-37 1,63 1,102 1,-74 1,-56 1,-77 1,12 1,-16 1,144 1,-88 1,49 1,-41 1,43 1,78 1,-124 1,21 1,-28 1,101 1,-113 1,-6 1,-15 1,-1 1,111 1,125 1,-211 1,116 1,-42 1,-80 1,49 1,3 1,-27 1,156 1,-228 1,136 1,-3 1,-53 1,43 1,43 1,-42 1,15 1,17 1,-270 1,317 1,47 1,-76 1,2 1,-143 1,76 1,-41 1,14 1,92 1,-105 1,41 1,-207 1,205 1,15 1,-47 1,0 1,154 1,-183 1,10 1,14 1,119 1,54 1,-105 1,-62 1,18 1,88 1,-117 1,140 1,-2 1,-79 1,34 1,6 1,48 1,-153 1,131 1,-91 1,-23 1,51 1,-18 1,-46 1,-35 1,39 1,141 1,30 1,-77 1,32 1,-100 1,26 1,21 1,-80 1,6 1,64 1,-25 1,-43 1,85 1,-38 1,76 1,-60 1,-17 1,25 1,-17 1,-29 1,15 1,68 1,-6 1,38 1,-175 1,77 1,-1 1,34 1,-36 1,-3 1,76 1,-35 1,-79 1,147 1,-20 1,-92 1,83 1,-92 1,109 1,-90 1,-22 1,25 1,-23 1,67 1,-11 1,-8 1,-35 1,-181 1,220 1,-117 1,126 1,52 1,-50 1,-39 1,13 1,3 1,-24 1,-2 1,-20 1,124 1,-70 1,57 1,-71 1,19 1,-14 1,38 1,21 1,-34 1,-53 1,-6 1,142 1,-113 1,0 1,102 1,-21 1,-33 1,-54 1,161 1,-114 1,9 1,-42 1,-72 1,5 1,102 1,-1 1,-37 1,-54 1,-15 1,65 1,-66 1,137 1,15 1,98 1,-113 1,-86 1,-16 1,-149 1,166 1,24 1,67 1,-21 1,-1 1,-21 1,60 1,12 1,-146 1,36 1,-54 1,174 1,-18 1,-32 1,-113 1,80 1,-23 1,18 1,-15 1,68 1,-80 1,73 1,-36 1,-30 1,10 1,-19 1,73 1,-62 1,33 1,-40 1,-63 1,138 1,-113 1,101 1,-15 1,-120 1,41 1,25 1,-17 1,-21 1,111 1,-56 1,36 1,-47 1,43 1,-61 1,42 1,35 1,-30 1,-29 1,-36 1,72 1,11 1,-35 1,-29 1,76 1,111 1,-160 1,37 1,3 1,-169 1,155 1,-48 1,120 1,-94 1,-29 1,32 1,22 1,-41 1,29 1,-75 1,65 1,58 1,69 1,-73 1,-24 1,52 1,-9 1,37 1,-33 1,-69 1,22 1,-4 1,7 1,-6 1,-56 1,-75 1,82 1,-77 1,119 1,-3 1,-96 1,135 1,11 1,-44 1,90 1,12 1,-176 1,128 1,-34 1,-1 1,30 1,-94 1,7 1,-13 1,4 1,38 1,-77 1,23 1,123 1,-67 1,26 1,-129 1,63 1,13 1,34 1,-35 1,86 1,-56 1,5 1,0 1,39 1,-66 1,90 1,-37 1,-10 1,-14 1,28 1,28 1,-4 1,-13 1,10 1,-43 1,64 1,-72 1,-116 1,193 1,-69 1,-132 1,115 1,-38 1,168 1,-90 1,-117 1,120 1,-53 1,131 1,-168 1,-67 1,131 1,-23 1,-4 1,-97 1,145 1,70 1,-201 1,173 1,-98 1,165 1,-108 1,-35 1,73 1,-32 1,-63 1,74 1,-69 1,-71 1,214 1,-133 1,-15 1,54 1,-107 1,12 1,48 1,-1 1,34 1,59 1,-90 1,55 1,6 1,-94 1,73 1,-65 1,112 1,-33 1,-25 1,-75 1,81 1,-49 1,82 1,-46 1,-38 1,97 1,-11 1,-73 1,98 1,-81 1,-1 1,24 1,-48 1,17 1,16 1,94 1,-1 1,-98 1,104 1,-92 1,24 1,28 1,-32 1,118 1,-121 1,-80 1,140 1,-96 1,7 1,-149 1,221 1,-10 1,-1 1,10 1,40 1,-96 1,55 1,-93 1,21 1,79 1,-37 1,-95 1,94 1,-30 1,-35 1,69 1,-46 1,-64 1,25 1,160 1,-182 1,97 1,21 1,2 1,-103 1,50 1,26 1,36 1,-79 1,-28 1,119 1,6 1,-41 1,-53 1,56 1,-16 1,40 1,-115 1,75 1,-15 1,-52 1,73 1,-9 1,-45 1,65 1,-100 1,75 1,27 1,-8 1,44 1,-125 1,-16 1,95 1,12 1,92 1,-82 1,-82 1,92 1,-90 1,-35 1,224 1,-124 1,21 1,-8 1,68 1,-83 1,51 1,-122 1,-20 1,154 1,3 1,-53 1,-4 1,-14 1,-46 1,121 1,-48 1,-8 1,-7 1,37 1,-30 1,14 1,-104 1,91 1,91 1,-146 1,21 1,55 1,4 1,-18 1,-121 1,115 1,-149 1,77 1,75 1,-46 1,60 1,127 1,-128 1,-3 1,-87 1,14 1,-23 1,29 1,-30 1,23 1,25 1,-43 1,-22 1,3 1,120 1,-43 1,52 1,2 1,-75 1,55 1,-114 1,201 1,-59 1,-75 1,-51 1,83 1,-120 1,58 1,82 1,-36 1,-30 1,78 1,-107 1,71 1,-41 1,-19 1,70 1,-77 1,155 1,-133 1,138 1,-165 1,91 1,-96 1,-8 1,81 1,27 1,-104 1,132 1,-144 1,88 1,13 1,12 1,-127 1,182 1,-56 1,-53 1,-31 1,-117 1,99 1,101 1,-46 1,-42 1,32 1,111 1,-100 1,-13 1,102 1,-47 1,-22 1,-34 1,-50 1,21 1,36 1,14 1,31 1,37 1,-44 1,0 1,-65 1,-60 1,87 1,-23 1,16 1,7 1,-38 1,7 1,54 1,11 1,-40 1,61 1,-38 1,-42 1,56 1,97 1,-134 1,97 1,11 1,7 1,-122 1,149 1,-100 1,-19 1,2 1,43 1,-28 1,-12 1,77 1,-105 1,-17 1,96 1,-4 1,20 1,-113 1,113 1,-31 1,67 1,-157 1,77 1,-26 1,-68 1,45 1,150 1,-136 1,-13 1,83 1,6 1,0 1,-92 1,38 1,57 1,-88 1,-4 1,120 1,0 1,-141 1,-75 1,60 1,23 1,46 1,39 1,-40 1,-28 1,44 1,-57 1,47 1,-30 1,172 1,-97 1,-85 1,-8 1,29 1,-62 1,47 1,0 1,84 1,-67 1,-19 1,-28 1,8 1,58 1,-8 1,70 1,-91 1,87 1,-29 1,-25 1,-103 1,37 1,105 1,34 1,-61 1,28 1,-60 1,2 1,-14 1,84 1,-32 1,-30 1,-5 1,46 1,-12 1,-59 1,131 1,-75 1,-12 1,75 1,-23 1,-57 1,32 1,-81 1,22 1,-83 1,178 1,-159 1,132 1,-77 1,-8 1,40 1,24 1,18 1,59 1,-72 1,27 1,-75 1,67 1,-29 1,-31 1,19 1,2 1,13 1,11 1,-46 1,-12 1,76 1,-124 1,55 1,110 1,-215 1,102 1,70 1,-118 1,214 1,-261 1,203 1,6 1,-32 1,-57 1,29 1,-103 1,126 1,-97 1,43 1,64 1,-106 1,38 1,27 1,-76 1,126 1,-41 1,-93 1,74 1,-36 1,6 1,37 1,-40 1,84 1,-83 1,85 1,-52 1,46 1,-70 1,2 1,-32 1,86 1,18 1,59 1,-41 1,-52 1,-22 1,30 1,-21 1,75 1,-26 1,-89 1,8 1,102 1,-52 1,-27 1,71 1,-78 1,5 1,-9 1,-74 1,140 1,-102 1,32 1,-9 1,73 1,-39 1,4 1,-83 1,78 1,-68 1,88 1,3 1,-18 1,101 1,-74 1,3 1,-22 1,-16 1,57 1,7 1,-118 1,116 1,-27 1,22 1,-24 1,-84 1,-48 1,199 1,-77 1,-82 1,87 1,-34 1,-154 1,59 1,34 1,92 1,-15 1,-10 1,26 1,16 1,-132 1,88 1,-25 1,-20 1,34 1,20 1,-18 1,-46 1,47 1,122 1,-149 1,-31 1,96 1,16 1,-7 1,-77 1,104 1,-87 1,-17 1,26 1,20 1,44 1,-4 1,-31 1,47 1,-42 1,40 1,-111 1,-8 1,114 1,-105 1,53 1,10 1,-19 1,2 1,89 1,-189 1,165 1,68 1,-109 1,-2 1,36 1,53 1,-145 1,61 1,-13 1,36 1,-19 1,25 1,-52 1,22 1,-34 1,1 1,25 1,0 1,-49 1,131 1,-81 1,-60 1,119 1,-88 1,60 1,-25 1,13 1,-4 1,-35 1,29 1,183 1,-291 1,110 1,18 1,-71 1,-15 1,168 1,-120 1,117 1,-74 1,-21 1,19 1,7 1,26 1,-35 1,-13 1,1 1,56 1,-25 1,-86 1,17 1,46 1,-45 1,12 1,-27 1,33 1,32 1,27 1,-46 1,98 1,-102 1,155 1,-104 1,-23 1,-47 1,-110 1,126 1,16 1,82 1,-155 1,155 1,-102 1,46 1,-260 1,233 1,-22 1,48 1,-28 1,-57 1,98 1,-12 1,-4 1,19 1,4 1,-52 1,-62 1,-1 1,127 1,-29 1,-29 1,-24 1,21 1,1 1,-17 1,-17 1,133 1,-90 1,-38 1,-33 1,27 1,68 1,1 1,-45 1,13 1,-17 1,-37 1,112 1,-43 1,98 1,-150 1,29 1,47 1,-52 1,-52 1,20 1,49 1,11 1,-20 1,51 1,-1 1,-30 1,-14 1,-13 1,37 1,17 1,-39 1,18 1,-35 1,-50 1,19 1,81 1,-14 1,52 1,-70 1,37 1,21 1,-15 1,-73 1,12 1,22 1,-51 1,67 1,25 1,-68 1,112 1,-103 1,4 1,-2 1,-21 1,51 1,-17 1,74 1,-48 1,-3 1,-34 1,-54 1,60 1,-34 1,81 1,-44 1,77 1,-42 1,5 1,-28 1,-1 1,21 1,12 1,-74 1,55 1,96 1,-122 1,-8 1,-19 1,-34 1,119 1,-51 1,11 1,69 1,30 1,-152 1,87 1,-19 1,-10 1,4 1,-23 1,73 1,-19 1,-37 1,41 1,-16 1,-19 1,-6 1,64 1,-56 1,-26 1,-34 1,23 1,-32 1,52 1,7 1,-103 1,92 1,28 1,-21 1,-50 1,99 1,-87 1,-23 1,6 1,48 1,44 1,8 1,-34 1,-70 1,24 1,-11 1,32 1,-70 1,83 1,24 1,-35 1,27 1,-62 1,-22 1,36 1,79 1,-6 1,-65 1,73 1,-67 1,140 1,-104 1,-41 1,55 1,-69 1,-7 1,-22 1,74 1,-13 1,-1 1,-14 1,80 1,-81 1,-13 1,86 1,8 1,-47 1,-90 1,49 1,53 1,-26 1,127 1,-186 1,88 1,-56 1,84 1,-60 1,48 1,-73 1,-32 1,13 1,21 1,-17 1,95 1,6 1,-35 1,-66 1,39 1,-24 1,92 1,-49 1,8 1,-38 1,-69 1,53 1,-15 1,78 1,-26 1,-38 1,18 1,83 1,-107 1,1 1,30 1,-20 1,12 1,41 1,51 1,-150 1,75 1,3 1,-5 1,-12 1,1 1,57 1,-62 1,14 1,6 1,5 1,-12 1,49 1,-42 1,8 1,-10 1,-40 1,8 1,-49 1,92 1,-38 1,-15 1,55 1,12 1,-96 1,145 1,-69 1,-6 1,49 1,-41 1,-28 1,117 1,-137 1,41 1,39 1,-79 1,40 1,20 1,85 1,-138 1,36 1,29 1,-24 1,-53 1,67 1,-13 1,15 1,28 1,-5 1,-25 1,-4 1,-58 1,40 1,15 1,-26 1,25 1,-42 1,97 1,26 1,-105 1,33 1,-26 1,61 1,-34 1,-14 1,-13 1,15 1,-46 1,69 1,-57 1,51 1,-17 1,40 1,-45 1,42 1,-79 1,62 1,-34 1,18 1,-3 1,33 1,-120 1,95 1,-74 1,110 1,-129 1,39 1,-27 1,135 1,-119 1,57 1,-26 1,-51 1,59 1,41 1,-35 1,46 1,-53 1,15 1,-15 1,29 1,63 1,-62 1,-7 1,-32 1,-6 1,90 1,-104 1,8 1,33 1,-13 1,96 1,-174 1,110 1,14 1,-73 1,19 1,43 1,48 1,-102 1,-26 1,102 1,22 1,-74 1,-75 1,146 1,-66 1,53 1,-46 1,-14 1,-3 1,77 1,-2 1,-141 1,48 1,107 1,-85 1,-39 1,54 1,-4 1,-3 1,-12 1,7 1,-6 1,32 1,-46 1,21 1,6 1,57 1,-37 1,-19 1,26 1,9 1,13 1,-23 1,50 1,-17 1,-54 1,-15 1,51 1,-14 1,-24 1,-54 1,-14 1,85 1,17 1,1 1,-126 1,135 1,-61 1,50 1,-13 1,-47 1,8 1,-57 1,45 1,-34 1,86 1,-14 1,33 1,-22 1,-38 1,38 1,-28 1,38 1,-11 1,-50 1,38 1,2 1,-14 1,47 1,31 1,-80 1,1 1,-73 1,82 1,-12 1,-66 1,94 1,11 1,-50 1,14 1,-23 1,66 1,-87 1,46 1,87 1,-73 1,16 1,-23 1,-39 1,43 1,17 1,-54 1,52 1,34 1,-7 1,-100 1,23 1,-24 1,102 1,-18 1,4 1,-60 1,-11 1,47 1,1 1,-36 1,38 1,19 1,-16 1,-48 1,-40 1,70 1,16 1,-16 1,-6 1,-10 1,53 1,-29 1,7 1,-41 1,13 1,29 1,-43 1,-10 1,35 1,57 1,-31 1,41 1,-59 1,-7 1,-40 1,30 1,75 1,-41 1,15 1,-1 1,-26 1,-8 1,17 1,16 1,-8 1,2 1,-13 1,-34 1,10 1,-16 1,72 1,-115 1,70 1,96 1,-101 1,-29 1,41 1,48 1,-58 1,34 1,-19 1,-18 1,130 1,-113 1,-22 1,-15 1,48 1,1 1,14 1,-23 1,-58 1,72 1,-31 1,1 1,-43 1,33 1,-6 1,26 1,-52 1,55 1,3 1,-46 1,18 1,-8 1,64 1,-125 1,80 1,-48 1,45 1,46 1,-53 1,28 1,-36 1,101 1,-37 1,8 1,-89 1,8 1,79 1,-46 1,-11 1,30 1,-57 1,73 1,-27 1,32 1,-57 1,43 1,-44 1,60 1,6 1,-8 1,-14 1,4 1,-120 1,128 1,-40 1,13 1,-13 1,-40 1,31 1,43 1,27 1,-73 1,-10 1,84 1,-83 1,105 1,-72 1,-33 1,66 1,26 1,-112 1,107 1,-65 1,62 1,-66 1,-42 1,74 1,15 1,41 1,-13 1,-36 1,-34 1,-9 1,8 1,-19 1,19 1,-161 1,178 1,-8 1,92 1,-64 1,-44 1,37 1,-63 1,22 1,-44 1,116 1,-29 1,-63 1,40 1,35 1,-16 1,-4 1,-43 1,8 1,25 1,29 1,-61 1,-10 1,79 1,-72 1,70 1,-29 1,22 1,30 1,-37 1,4 1,-60 1,8 1,47 1,31 1,-5 1,33 1,-70 1,-4 1,28 1,-34 1,-3 1,-35 1,71 1,-71 1,55 1,-67 1,87 1,-74 1,66 1,-85 1,40 1,56 1,-69 1,31 1,-19 1,-63 1,90 1,5 1,-54 1,59 1,-48 1,-7 1,35 1,-24 1,103 1,-133 1,79 1,9 1,-102 1,8 1,80 1,-36 1,29 1,26 1,-51 1,-24 1,-57 1,100 1,-38 1,42 1,-2 1,-56 1,107 1,-22 1,-8 1,-70 1,27 1,-5 1,5 1,-25 1,54 1,-7 1,5 1,-30 1,101 1,-77 1,-100 1,71 1,20 1,35 1,-43 1,2 1,-14 1,45 1,-38 1,-5 1,-5 1,45 1,-37 1,-39 1,78 1,-45 1,36 1,1 1,28 1,-6 1,-55 1,14 1,-38 1,101 1,-42 1,32 1,-58 1,-58 1,121 1,-48 1,1 1,-3 1,20 1,-3 1,-72 1,90 1,-54 1,2 1,74 1,-27 1,-43 1,-51 1,68 1,13 1,-21 1,-39 1,15 1,-15 1,49 1,21 1,7 1,-59 1,32 1,11 1,-36 1,12 1,77 1,-65 1,23 1,-44 1,16 1,-59 1,57 1,41 1,30 1,-30 1,-17 1,-21 1,-22 1,15 1,25 1,-46 1,57 1,-64 1,-26 1,25 1,-21 1,10 1,83 1,-44 1,14 1,31 1,3 1,-58 1,61 1,-32 1,-12 1,14 1,-62 1,22 1,22 1,24 1,-32 1,8 1,36 1,15 1,-22 1,17 1,-55 1,3 1,21 1,-21 1,-7 1,72 1,-61 1,-54 1,77 1,99 1,-113 1,38 1,-55 1,-2 1,-6 1,18 1,65 1,-98 1,92 1,-87 1,25 1,35 1,12 1,-30 1,-63 1,66 1,-46 1,119 1,-92 1,13 1,-43 1,22 1,-27 1,75 1,-41 1,27 1,-41 1,6 1,59 1,-74 1,-27 1,72 1,-51 1,23 1,45 1,-57 1,56 1,-51 1,71 1,-6 1,-58 1,8 1,-20 1,34 1,31 1,-85 1,77 1,-112 1,54 1,-30 1,127 1,-67 1,7 1,-30 1,56 1,-103 1,70 1,71 1,-85 1,13 1,22 1,-48 1,27 1,30 1,-25 1,6 1,-23 1,21 1,-8 1,46 1,-24 1,-32 1,-71 1,103 1,1 1,-54 1,-35 1,28 1,67 1,-65 1,20 1,22 1,33 1,-41 1,-2 1,-15 1,71 1,-18 1,-38 1,-42 1,20 1,44 1,-42 1,52 1,-17 1,-2 1,12 1,-5 1,-44 1,17 1,86 1,-114 1,23 1,50 1,-39 1,-21 1,-17 1,60 1,16 1,12 1,-43 1,32 1,-67 1,39 1,-28 1,28 1,18 1,11 1,-66 1,72 1,-56 1,-17 1,27 1,-41 1,47 1,9 1,-16 1,24 1,-27 1,10 1,-46 1,47 1,-28 1,13 1,11 1,9 1,-59 1,-42 1,86 1,24 1,-3 1,17 1,13 1,-26 1,-16 1,-32 1,2 1,16 1,23 1,-1 1,-7 1,-5 1,25 1,-13 1,2 1,1 1,-27 1,-16 1,49 1,-3 1,-20 1,-6 1,86 1,-97 1,17 1,16 1,-45 1,40 1,54 1,-28 1,-9 1,-2 1,-15 1,27 1,-35 1,-9 1,17 1,26 1,-19 1,11 1,-85 1,102 1,36 1,-31 1,-53 1,-17 1,36 1,-40 1,54 1,-39 1,47 1,13 1,-108 1,74 1,-31 1,-23 1,8 1,30 1,40 1,-81 1,81 1,31 1,-45 1,14 1,-33 1,-37 1,54 1,-5 1,11 1,58 1,-58 1,-9 1,36 1,-92 1,6 1,25 1,-9 1,43 1,-32 1,65 1,-7 1,-24 1,-36 1,31 1,6 1,-59 1,45 1,11 1,-15 1,43 1,-12 1,-64 1,30 1,-30 1,45 1,-46 1,56 1,-16 1,18 1,-35 1,-41 1,101 1,-61 1,49 1,-30 1,8 1,36 1,-46 1,33 1,-91 1,74 1,-35 1,4 1,4 1,11 1,41 1,-110 1,61 1,-25 1,59 1,-50 1,28 1,-27 1,33 1,11 1,-44 1,16 1,-48 1,54 1,18 1,-60 1,68 1,-100 1,7 1,15 1,28 1,16 1,-3 1,0 1,25 1,-37 1,-25 1,1 1,104 1,-139 1,68 1,51 1,-30 1,-41 1,26 1,27 1,10 1,-65 1,51 1,-15 1,26 1,9 1,-54 1,-34 1,57 1,43 1,-34 1,-14 1,68 1,-107 1,60 1,-45 1,19 1,1 1,44 1,-76 1,13 1,-33 1,65 1,-30 1,28 1,-47 1,23 1,43 1,-38 1,25 1,-3 1,-27 1,-37 1,78 1,-25 1,26 1,-93 1,11 1,-15 1,39 1,59 1,-14 1,-19 1,5 1,20 1,-33 1,22 1,-8 1,-72 1,56 1,54 1,-54 1,7 1,-14 1,4 1,50 1,-43 1,-24 1,-64 1,78 1,-42 1,4 1,103 1,-25 1,-81 1,85 1,-12 1,-38 1,47 1,-73 1,13 1,-7 1,10 1,62 1,-68 1,5 1,6 1,36 1,-17 1,37 1,-48 1,-18 1,24 1,17 1,-30 1,37 1,48 1,-74 1,19 1,40 1,-61 1,-6 1,-8 1,46 1,4 1,-21 1,6 1,38 1,-12 1,-70 1,43 1,3 1,19 1,-36 1,-6 1,6 1,-40 1,53 1,-17 1,32 1,-45 1,18 1,-17 1,-2 1,54 1,-36 1,28 1,-48 1,37 1,-54 1,37 1,-1 1,33 1,-12 1,-11 1,31 1,-20 1,24 1,-6 1,-26 1,-6 1,18 1,-22 1,24 1,22 1,-7 1,-38 1,-27 1,37 1,-2 1,37 1,-45 1,6 1,28 1,-37 1,10 1,57 1,-7 1,-26 1,-11 1,-37 1,46 1,-15 1,5 1,-22 1,15 1,-5 1,15 1,34 1,-33 1,-61 1,21 1,-18 1,24 1,40 1,-4 1,-30 1,26 1,-31 1,-20 1,1 1,16 1,69 1,-83 1,77 1,3 1,-45 1,4 1,-17 1,17 1,21 1,-20 1,30 1,6 1,-25 1,-1 1,-11 1,12 1,-44 1,46 1,-6 1,-32 1,90 1,-94 1,4 1,34 1,-66 1,34 1,-22 1,17 1,25 1,13 1,24 1,-9 1,11 1,-17 1,-32 1,47 1,-47 1,-4 1,64 1,-22 1,-17 1,16 1,4 1,-67 1,38 1,-33 1,39 1,-43 1,80 1,-25 1,-40 1,24 1,-35 1,37 1,15 1,-8 1,-66 1,37 1,36 1,-6 1,25 1,-72 1,54 1,-35 1,25 1,6 1,9 1,-38 1,23 1,-40 1,-8 1,59 1,-18 1,-47 1,23 1,26 1,46 1,-15 1,12 1,-96 1,50 1,17 1,-3 1,1 1,-19 1,59 1,-8 1,-47 1,-26 1,143 1,-130 1,51 1,22 1,-85 1,37 1,-19 1,25 1,-5 1,48 1,-26 1,-32 1,34 1,-42 1,-2 1,77 1,-114 1,33 1,16 1,-33 1,-31 1,94 1,-54 1,7 1,5 1,-18 1,-3 1,37 1,66 1,-49 1,0 1,-66 1,43 1,-34 1,58 1,-29 1,7 1,-3 1,-15 1,-27 1,61 1,-57 1,6 1,26 1,-12 1,28 1,22 1,-22 1,2 1,-9 1,25 1,-79 1,65 1,-38 1,-9 1,36 1,-11 1,28 1,15 1,-100 1,66 1,60 1,-32 1,17 1,-40 1,-84 1,48 1,54 1,8 1,-50 1,14 1,15 1,-59 1,41 1,58 1,17 1,-67 1,56 1,-68 1,-9 1,-41 1,93 1,-39 1,139 1,-118 1,-4 1,-58 1,96 1,-54 1,6 1,-60 1,91 1,27 1,-71 1,20 1,9 1,17 1,-25 1,47 1,-57 1,-11 1,-10 1,-46 1,50 1,53 1,-21 1,-32 1,34 1,-69 1,51 1,23 1,5 1,-42 1,49 1,28 1,-67 1,34 1,-67 1,-11 1,74 1,-16 1,4 1,-22 1,8 1,32 1,26 1,-55 1,-42 1,85 1,-20 1,3 1,-15 1,62 1,-65 1,13 1,-68 1,36 1,-3 1,19 1,11 1,-31 1,71 1,-109 1,46 1,20 1,-43 1,53 1,2 1,-27 1,64 1,-53 1,6 1,-36 1,-20 1,30 1,9 1,-4 1,35 1,-91 1,36 1,-20 1,92 1,-55 1,1 1,-16 1,57 1,-38 1,19 1,-65 1,92 1,-22 1,4 1,20 1,-41 1,1 1,25 1,-8 1,-19 1,8 1,-16 1,35 1,7 1,-27 1,54 1,-98 1,37 1,56 1,-61 1,-34 1,86 1,-24 1,-50 1,57 1,-80 1,19 1,34 1,-9 1,-18 1,21 1,-18 1,31 1,-3 1,22 1,-34 1,-25 1,0 1,31 1,51 1,-20 1,-42 1,45 1,-60 1,62 1,-40 1,33 1,-4 1,-26 1,18 1,-40 1,28 1,33 1,86 1,-97 1,-17 1,-31 1,59 1,-78 1,25 1,33 1,-45 1,79 1,-13 1,-47 1,0 1,-22 1,-2 1,53 1,5 1,-8 1,-2 1,-24 1,26 1,-52 1,42 1,42 1,-4 1,-51 1,4 1,83 1,-23 1,-93 1,30 1,19 1,28 1,-58 1,42 1,-27 1,76 1,-55 1,-16 1,-6 1,40 1,-11 1,-50 1,37 1,-44 1,17 1,-16 1,0 1,18 1,-9 1,43 1,8 1,-29 1,-25 1,54 1,-80 1,3 1,75 1,-2 1,9 1,-34 1,-29 1,21 1,31 1,-38 1,2 1,-20 1,7 1,57 1,-11 1,-46 1,2 1,15 1,32 1,-49 1,28 1,-55 1,25 1,47 1,14 1,-58 1,11 1,44 1,-34 1,-4 1,30 1,-9 1,26 1,-9 1,-39 1,13 1,2 1,-36 1,10 1,55 1,-72 1,73 1,-20 1,-12 1,19 1,9 1,10 1,-45 1,5 1,-1 1,60 1,-26 1,-53 1,17 1,-10 1,20 1,5 1,59 1,-116 1,80 1,-16 1,-32 1,11 1,-5 1,15 1,27 1,-71 1,80 1,-47 1,52 1,-30 1,23 1,-19 1,15 1,-29 1,-25 1,42 1,1 1,39 1,-114 1,50 1,35 1,-64 1,28 1,66 1,-20 1,-64 1,65 1,-7 1,-11 1,-11 1,-4 1,-31 1,10 1,35 1,-17 1,48 1,-61 1,-57 1,57 1,17 1,3 1,-9 1,-24 1,64 1,-60 1,38 1,-35 1,-18 1,73 1,-109 1,46 1,36 1,-22 1,31 1,-24 1,-9 1,72 1,-66 1,2 1,-26 1,10 1,38 1,-2 1,-16 1,-19 1,39 1,-66 1,37 1,3 1,-17 1,28 1,-23 1,-24 1,93 1,-30 1,13 1,-31 1,25 1,-5 1,12 1,32 1,-72 1,14 1,-9 1,-95 1,58 1,39 1,17 1,-33 1,47 1,4 1,-47 1,51 1,9 1,-35 1,-40 1,67 1,-44 1,-6 1,13 1,-17 1,44 1,-8 1,12 1,-18 1,-37 1,17 1,29 1,-36 1,92 1,-87 1,-9 1,47 1,-11 1,-21 1,-5 1,18 1,11 1,-2 1,-29 1,20 1,11 1,-2 1,-105 1,60 1,3 1,15 1,11 1,21 1,-9 1,-20 1,5 1,47 1,-65 1,25 1,34 1,-33 1,-65 1,66 1,-21 1,8 1,32 1,-16 1,-20 1,31 1,-12 1,-9 1,5 1,-1 1,-16 1,-3 1,13 1,-27 1,-8 1,70 1,-42 1,6 1,-3 1,4 1,0 1,1 1,-23 1,47 1,-44 1,47 1,-80 1,23 1,56 1,-31 1,-14 1,28 1,-38 1,30 1,-62 1,48 1,-6 1,33 1,9 1,-47 1,67 1,-60 1,-39 1,-9 1,106 1,-44 1,-15 1,-3 1,-9 1,66 1,-39 1,51 1,-54 1,-58 1,87 1,-33 1,3 1,49 1,-49 1,67 1,-60 1,-20 1,34 1,-30 1,49 1,-7 1,-24" fill="none" stroke="#ff2cff" stroke-width="0.42" vector-effect="non-scaling-stroke"/>
<path transform="translate(377.60,0) scale(0.06,0.1)" d="M0,1112l1,-29 1,11 1,95 1,-63 1,-2 1,6 1,1 1,-133 1,124 1,-51 1,53 1,-172 1,250 1,-257 1,-73 1,185 1,73 1,38 1,-118 1,47 1,54 1,-27 1,-7 1,53 1,-7 1,-125 1,66 1,11 1,1 1,22 1,-132 1,118 1,-55 1,73 1,-51 1,114 1,-74 1,-42 1,26 1,50 1,-62 1,-61 1,186 1,-106 1,4 1,-4 1,61 1,-125 1,124 1,-45 1,-38 1,-9 1,-43 1,138 1,-14 1,-76 1,12 1,35 1,99 1,-99 1,5 1,6 1,59 1,-143 1,138 1,-89 1,56 1,-99 1,106 1,0 1,-86 1,98 1,-83 1,59 1,-18 1,-62 1,11 1,72 1,-49 1,-2 1,-12 1,67 1,-130 1,138 1,26 1,-43 1,-21 1,-142 1,190 1,-37 1,27 1,-34 1,16 1,-81 1,110 1,-9 1,-57 1,26 1,-58 1,86 1,-77 1,75 1,14 1,-83 1,32 1,2 1,63 1,-22 1,-42 1,45 1,17 1,-15 1,-29 1,54 1,-103 1,110 1,-50 1,-19 1,36 1,-24 1,74 1,-52 1,-56 1,21 1,26 1,-35 1,38 1,3 1,-61 1,60 1,14 1,-75 1,-85 1,212 1,-158 1,-20 1,127 1,26 1,-14 1,-78 1,71 1,37 1,-1 1,-96 1,25 1,-1 1,15 1,-77 1,78 1,-17 1,-58 1,35 1,87 1,-151 1,130 1,14 1,-76 1,86 1,-34 1,-78 1,26 1,24 1,-70 1,94 1,22 1,-109 1,-16 1,75 1,-20 1,-7 1,40 1,80 1,-119 1,49 1,-31 1,17 1,-65 1,42 1,21 1,88 1,-67 1,-106 1,-23 1,66 1,36 1,17 1,73 1,-44 1,-60 1,40 1,-49 1,6 1,-55 1,13 1,37 1,-8 1,-35 1,36 1,71 1,-38 1,-22 1,-74 1,98 1,87 1,-37 1,-146 1,171 1,-81 1,24 1,-7 1,-114 1,139 1,26 1,-51 1,6 1,-36 1,45 1,10 1,-30 1,7 1,33 1,3 1,-43 1,-45 1,39 1,40 1,-1 1,-3 1,-9 1,-142 1,91 1,45 1,44 1,-126 1,55 1,-82 1,28 1,79 1,-47 1,118 1,-78 1,-4 1,8 1,28 1,-14 1,45 1,-141 1,132 1,-18 1,-179 1,163 1,-95 1,0 1,101 1,-25 1,56 1,-92 1,-79 1,68 1,107 1,-204 1,144 1,-66 1,54 1,7 1,-76 1,-34 1,80 1,-45 1,115 1,-34 1,5 1,23 1,-82 1,64 1,10 1,-31 1,32 1,53 1,-68 1,59 1,-150 1,41 1,8 1,28 1,33 1,-97 1,71 1,-53 1,42 1,-23 1,10 1,63 1,0 1,-52 1,61 1,-34 1,-9 1,-25 1,20 1,-62 1,55 1,64 1,-38 1,41 1,-85 1,-74 1,108 1,-50 1,-44 1,87 1,-63 1,-3 1,16 1,0 1,16 1,92 1,-16 1,-28 1,6 1,-90 1,15 1,34 1,-25 1,41 1,7 1,8 1,-16 1,35 1,-28 1,-78 1,151 1,-66 1,-182 1,128 1,25 1,36 1,-7 1,-114 1,25 1,5 1,7 1,68 1,-23 1,71 1,-44 1,77 1,-67 1,43 1,8 1,-100 1,-58 1,19 1,118 1,17 1,-68 1,-20 1,37 1,-43 1,100 1,-49 1,-48 1,-51 1,54 1,7 1,14 1,-68 1,90 1,-33 1,23 1,-8 1,-8 1,67 1,-108 1,-47 1,-7 1,-12 1,186 1,-74 1,-5 1,-42 1,45 1,-16 1,47 1,-105 1,109 1,-52 1,-123 1,115 1,25 1,-78 1,17 1,52 1,-6 1,-23 1,-68 1,110 1,-49 1,59 1,57 1,-17 1,-92 1,66 1,-35 1,-62 1,95 1,-35 1,4 1,44 1,-56 1,-30 1,96 1,-45 1,-38 1,-13 1,15 1,-114 1,89 1,-5 1,62 1,-44 1,-20 1,41 1,21 1,-84 1,89 1,14 1,-49 1,-14 1,31 1,24 1,-51 1,41 1,2 1,-7 1,52 1,-29 1,14 1,-88 1,9 1,98 1,-28 1,-39 1,-104 1,94 1,17 1,-57 1,41 1,19 1,55 1,-115 1,-33 1,74 1,-15 1,56 1,-76 1,48 1,16 1,-109 1,56 1,-30 1,32 1,75 1,23 1,-38 1,-64 1,40 1,-3 1,-18 1,28 1,3 1,-5 1,-9 1,42 1,-78 1,32 1,-11 1,30 1,-72 1,115 1,-48 1,-70 1,37 1,2 1,56 1,8 1,-61 1,5 1,122 1,-185 1,95 1,-15 1,6 1,2 1,-15 1,-12 1,-78 1,82 1,-24 1,-47 1,70 1,20 1,-92 1,91 1,-12 1,-1 1,-16 1,-67 1,-17 1,56 1,48 1,-102 1,123 1,-39 1,-88 1,79 1,69 1,-64 1,-5 1,-34 1,102 1,-140 1,129 1,-89 1,91 1,-13 1,-50 1,46 1,-24 1,-65 1,67 1,36 1,-99 1,62 1,62 1,-85 1,7 1,44 1,-44 1,6 1,6 1,5 1,56 1,-89 1,15 1,52 1,-64 1,-60 1,127 1,-68 1,104 1,-80 1,-76 1,118 1,3 1,-67 1,5 1,38 1,-54 1,62 1,-62 1,-49 1,125 1,-108 1,-10 1,86 1,-78 1,76 1,-47 1,-69 1,79 1,-3 1,61 1,19 1,-41 1,6 1,-39 1,100 1,-112 1,69 1,-3 1,-127 1,129 1,9 1,-137 1,143 1,-91 1,-2 1,73 1,-78 1,84 1,-23 1,-65 1,5 1,38 1,6 1,70 1,-68 1,-16 1,40 1,21 1,-126 1,64 1,2 1,82 1,-130 1,49 1,28 1,22 1,-46 1,16 1,-38 1,1 1,-25 1,61 1,-83 1,116 1,-42 1,30 1,-2 1,-15 1,-93 1,159 1,-40 1,-13 1,-27 1,75 1,-117 1,13 1,50 1,12 1,11 1,-113 1,9 1,99 1,-129 1,53 1,32 1,7 1,-10 1,-59 1,135 1,-112 1,17 1,23 1,35 1,-38 1,39 1,-20 1,50 1,-58 1,79 1,-80 1,49 1,-38 1,-8 1,-33 1,57 1,18 1,-31 1,-52 1,-2 1,-17 1,6 1,12 1,87 1,-156 1,83 1,42 1,26 1,-44 1,50 1,-38 1,-55 1,21 1,-25 1,150 1,-130 1,-41 1,60 1,-10 1,37 1,-32 1,-24 1,69 1,-38 1,-3 1,27 1,9 1,-135 1,103 1,46 1,-53 1,-11 1,-14 1,-25 1,59 1,-62 1,9 1,15 1,44 1,-97 1,109 1,-8 1,-3 1,-18 1,-47 1,39 1,34 1,-65 1,73 1,-7 1,-30 1,-12 1,36 1,14 1,8 1,-24 1,-6 1,13 1,-12 1,9 1,-30 1,-104 1,127 1,45 1,-85 1,-39 1,84 1,-15 1,-54 1,72 1,-4 1,54 1,-38 1,-78 1,-39 1,-10 1,121 1,21 1,-33 1,14 1,-8 1,-28 1,58 1,-14 1,-55 1,-2 1,1 1,76 1,-64 1,-42 1,61 1,30 1,-22 1,-73 1,7 1,87 1,-8 1,-43 1,-49 1,-8 1,154 1,-78 1,15 1,-29 1,-87 1,81 1,45 1,-116 1,32 1,35 1,-18 1,43 1,-22 1,61 1,-108 1,43 1,42 1,-97 1,6 1,6 1,50 1,-22 1,70 1,-21 1,19 1,-75 1,56 1,-29 1,22 1,-23 1,35 1,2 1,16 1,-47 1,-20 1,79 1,-102 1,-26 1,105 1,-20 1,26 1,-91 1,-38 1,80 1,84 1,-144 1,136 1,-85 1,6 1,20 1,8 1,18 1,-14 1,-62 1,25 1,34 1,20 1,4 1,-21 1,-48 1,6 1,13 1,29 1,6 1,-20 1,-33 1,82 1,-9 1,-50 1,55 1,-92 1,-6 1,66 1,-46 1,69 1,6 1,-52 1,-65 1,24 1,-105 1,8 1,123 1,11 1,48 1,-46 1,16 1,-33 1,74 1,-38 1,52 1,-113 1,117 1,-170 1,46 1,74 1,-29 1,-91 1,179 1,-100 1,-55 1,49 1,12 1,23 1,26 1,-26 1,-6 1,-25 1,7 1,-17 1,35 1,-7 1,-136 1,138 1,25 1,1 1,32 1,-7 1,6 1,-61 1,73 1,-70 1,61 1,-16 1,-37 1,3 1,-33 1,18 1,35 1,-14 1,-41 1,31 1,-42 1,75 1,-2 1,18 1,-88 1,-33 1,92 1,5 1,21 1,-93 1,60 1,-21 1,6 1,60 1,9 1,-133 1,15 1,8 1,53 1,24 1,-33 1,37 1,-49 1,20 1,11 1,-30 1,23 1,28 1,-7 1,-27 1,9 1,-46 1,24 1,-5 1,63 1,-39 1,40 1,-27 1,-45 1,48 1,-10 1,-23 1,25 1,-66 1,70 1,-11 1,-71 1,55 1,13 1,-94 1,76 1,-49 1,34 1,-2 1,-35 1,41 1,37 1,-11 1,-3 1,-56 1,11 1,34 1,8 1,-8 1,-40 1,-39 1,77 1,49 1,10 1,-9 1,-128 1,138 1,-31 1,-21 1,37 1,-37 1,100 1,-115 1,7 1,-34 1,-45 1,162 1,-165 1,48 1,75 1,-83 1,41 1,53 1,-20 1,32 1,-83 1,43 1,-74 1,73 1,3 1,27 1,-123 1,96 1,-70 1,-7 1,48 1,12 1,20 1,-15 1,-23 1,-11 1,-24 1,21 1,35 1,38 1,-6 1,-17 1,-44 1,-12 1,70 1,-8 1,52 1,1 1,-92 1,-110 1,166 1,1 1,8 1,-42 1,60 1,-171 1,119 1,-62 1,95 1,-37 1,-52 1,128 1,-29 1,-66 1,-79 1,92 1,41 1,-37 1,62 1,-100 1,32 1,4 1,36 1,-72 1,111 1,-102 1,59 1,24 1,-23 1,-50 1,-31 1,-77 1,104 1,26 1,4 1,-19 1,38 1,2 1,-38 1,-12 1,98 1,-75 1,17 1,-17 1,-70 1,-26 1,76 1,-39 1,17 1,119 1,-88 1,84 1,11 1,-74 1,7 1,-69 1,66 1,47 1,-46 1,20 1,15 1,-78 1,38 1,-73 1,58 1,-73 1,109 1,-3 1,0 1,-24 1,-63 1,46 1,65 1,-58 1,82 1,-65 1,18 1,-102 1,54 1,-30 1,53 1,-41 1,60 1,-35 1,8 1,0 1,7 1,39 1,-61 1,28 1,17 1,-25 1,-29 1,28 1,11 1,-51 1,96 1,-79 1,46 1,-17 1,-3 1,-84 1,164 1,-112 1,12 1,14 1,28 1,-21 1,-80 1,141 1,-127 1,18 1,19 1,-4 1,-25 1,136 1,-68 1,-26 1,54 1,-50 1,-84 1,99 1,-25 1,71 1,-95 1,22 1,8 1,53 1,-36 1,63 1,-138 1,93 1,5 1,-28 1,-19 1,70 1,8 1,-65 1,-10 1,-43 1,52 1,-20 1,50 1,-8 1,-37 1,6 1,-20 1,103 1,-33 1,-57 1,28 1,62 1,14 1,17 1,-52 1,-4 1,-19 1,-48 1,4 1,73 1,-24 1,-15 1,1 1,-52 1,9 1,-26 1,47 1,-112 1,136 1,2 1,-37 1,-4 1,-19 1,-6 1,93 1,-9 1,-57 1,60 1,-58 1,73 1,-113 1,27 1,37 1,22 1,-24 1,59 1,-25 1,-74 1,56 1,-61 1,39 1,57 1,25 1,-72 1,29 1,-11 1,-124 1,104 1,31 1,-16 1,-24 1,50 1,9 1,-151 1,46 1,47 1,-52 1,88 1,7 1,-7 1,19 1,-6 1,-43 1,0 1,13 1,7 1,-58 1,3 1,14 1,-31 1,38 1,19 1,-22 1,-19 1,-55 1,102 1,-5 1,43 1,-20 1,23 1,-34 1,-3 1,-52 1,45 1,15 1,10 1,14 1,-108 1,26 1,81 1,-41 1,34 1,-46 1,-18 1,39 1,50 1,-24 1,-4 1,-128 1,31 1,40 1,53 1,-5 1,3 1,-61 1,94 1,-100 1,86 1,-94 1,22 1,21 1,-1 1,16 1,-129 1,128 1,-14 1,-8 1,23 1,-76 1,90 1,-4 1,29 1,-73 1,29 1,-21 1,-30 1,60 1,5 1,-10 1,-100 1,146 1,-22 1,-98 1,20 1,-26 1,37 1,11 1,42 1,-42 1,-2 1,34 1,-92 1,-14 1,110 1,-85 1,4 1,-24 1,47 1,-6 1,-66 1,93 1,-75 1,76 1,-72 1,27 1,-30 1,49 1,-34 1,-21 1,-52 1,43 1,23 1,13 1,-88 1,-9 1,-4 1,-20 1,47 1,-34 1,15 1,12 1,105 1,-55 1,67 1,-45 1,-34 1,66 1,-37 1,12 1,17 1,-32 1,44 1,2 1,-53 1,30 1,2 1,-9 1,10 1,-42 1,55 1,91 1,-51 1,-19 1,-22 1,22 1,18 1,-46 1,-39 1,32 1,75 1,-25 1,-1 1,32 1,-38 1,62 1,-39 1,-12 1,20 1,39 1,8 1,-101 1,117 1,-42 1,13 1,48 1,-44 1,-50 1,82 1,-5 1,-48 1,1 1,15 1,33 1,3 1,10 1,-53 1,-6 1,35 1,38 1,-38 1,-11 1,-23 1,34 1,43 1,-15 1,-141 1,77 1,-54 1,73 1,60 1,-2 1,-40 1,12 1,3 1,-28 1,85 1,-117 1,71 1,-56 1,57 1,-53 1,-39 1,123 1,-32 1,-30 1,-51 1,12 1,83 1,-19 1,-6 1,-66 1,131 1,-54 1,4 1,-37 1,-17 1,10 1,6 1,-6 1,89 1,-31 1,-41 1,-1 1,69 1,-10 1,-59 1,57 1,-67 1,-49 1,84 1,-17 1,9 1,-32 1,-36 1,63 1,117 1,-89 1,28 1,-28 1,13 1,-56 1,-6 1,59 1,-14 1,-29 1,53 1,-48 1,14 1,-21 1,85 1,-69 1,54 1,-46 1,17 1,-19 1,5 1,-34 1,45 1,-56 1,75 1,-32 1,5 1,11 1,7 1,-27 1,17 1,-30 1,39 1,-98 1,18 1,92 1,-43 1,53 1,-77 1,51 1,-9 1,-11 1,104 1,-100 1,-53 1,161 1,-106 1,32 1,-68 1,97 1,-42 1,34 1,-22 1,35 1,-50 1,19 1,-87 1,64 1,22 1,22 1,-7 1,-19 1,-37 1,-58 1,90 1,-35 1,90 1,-138 1,77 1,60 1,-8 1,-32 1,-57 1,-86 1,130 1,30 1,-47 1,-2 1,59 1,-43 1,-3 1,18 1,-59 1,62 1,16 1,-3 1,30 1,4 1,8 1,-33 1,-41 1,-41 1,86 1,-6 1,-24 1,-20 1,-29 1,37 1,37 1,-64 1,100 1,-104 1,-14 1,64 1,22 1,-4 1,19 1,-70 1,25 1,70 1,-37 1,-36 1,-85 1,67 1,-8 1,5 1,3 1,53 1,-61 1,42 1,-138 1,172 1,-62 1,35 1,1 1,-13 1,-5 1,-35 1,48 1,7 1,-80 1,44 1,63 1,4 1,-31 1,-26 1,-20 1,18 1,6 1,21 1,-39 1,82 1,-49 1,-7 1,43 1,-67 1,13 1,76 1,-120 1,105 1,-11 1,-52 1,72 1,-54 1,26 1,-24 1,18 1,-24 1,50 1,-24 1,-69 1,22 1,37 1,6 1,12 1,-26 1,-24 1,-9 1,-9 1,-93 1,136 1,-14 1,45 1,-44 1,49 1,-84 1,3 1,51 1,-24 1,19 1,14 1,0 1,-20 1,21 1,-27 1,-39 1,51 1,20 1,-23 1,17 1,-24 1,-90 1,106 1,-5 1,11 1,26 1,-55 1,-5 1,46 1,-48 1,44 1,-26 1,55 1,-21 1,-11 1,-37 1,22 1,8 1,-2 1,-7 1,79 1,-56 1,-7 1,-65 1,55 1,-3 1,-22 1,69 1,-78 1,-55 1,123 1,-36 1,41 1,-62 1,2 1,23 1,-8 1,-11 1,34 1,-77 1,80 1,-18 1,-92 1,92 1,-38 1,-24 1,23 1,-4 1,130 1,-34 1,-69 1,3 1,37 1,-28 1,55 1,-47 1,17 1,21 1,12 1,-23 1,-43 1,56 1,-68 1,77 1,-50 1,4 1,46 1,-8 1,-57 1,-15 1,-15 1,22 1,54 1,8 1,-82 1,40 1,-31 1,60 1,-31 1,23 1,64 1,-106 1,54 1,-108 1,83 1,-3 1,-26 1,39 1,10 1,21 1,-25 1,-1 1,-41 1,49 1,-10 1,-13 1,22 1,-30 1,42 1,-39 1,2 1,8 1,13 1,-15 1,-8 1,24 1,-1 1,-47 1,38 1,-43 1,28 1,30 1,-35 1,46 1,17 1,4 1,-48 1,33 1,36 1,-71 1,21 1,-72 1,72 1,-62 1,78 1,-54 1,28 1,-84 1,99 1,-58 1,38 1,21 1,-8 1,25 1,-43 1,23 1,16 1,-88 1,88 1,-14 1,-16 1,-96 1,127 1,7 1,-85 1,63 1,17 1,-43 1,37 1,-8 1,-6 1,30 1,-29 1,24 1,-56 1,40 1,20 1,35 1,-130 1,21 1,15 1,21 1,89 1,-109 1,49 1,-49 1,72 1,-32 1,-116 1,34 1,104 1,0 1,-43 1,-14 1,-29 1,-1 1,-28 1,-5 1,140 1,-69 1,13 1,31 1,-75 1,34 1,-39 1,35 1,8 1,54 1,-136 1,47 1,41 1,-20 1,44 1,-71 1,4 1,79 1,-14 1,-20 1,29 1,9 1,-54 1,31 1,6 1,-15 1,16 1,-13 1,-44 1,1 1,28 1,8 1,-10 1,-3 1,-8 1,6 1,23 1,-9 1,7 1,-47 1,29 1,-21 1,54 1,-30 1,-4 1,51 1,-40 1,-29 1,-24 1,61 1,5 1,27 1,19 1,3 1,-75 1,24 1,1 1,-27 1,-17 1,-18 1,11 1,35 1,76 1,-71 1,55 1,-28 1,-2 1,-28 1,-6 1,-44 1,54 1,-1 1,8 1,71 1,-45 1,-109 1,39 1,17 1,15 1,-54 1,44 1,-80 1,93 1,-18 1,36 1,-95 1,59 1,24 1,10 1,-2 1,-17 1,21 1,-22 1,24 1,-47 1,19 1,8 1,-35 1,36 1,10 1,-13 1,21 1,-57 1,71 1,23 1,-47 1,-37 1,45 1,-43 1,-48 1,97 1,-8 1,-91 1,116 1,10 1,-48 1,-50 1,57 1,2 1,-11 1,-22 1,55 1,-27 1,14 1,-10 1,5 1,34 1,-56 1,64 1,-25 1,-25 1,-30 1,40 1,-32 1,-21 1,46 1,-25 1,-41 1,46 1,6 1,20 1,-41 1,18 1,25 1,-2 1,-55 1,32 1,-22 1,22 1,43 1,-41 1,-6 1,51 1,-21 1,26 1,-40 1,48 1,-8 1,-68 1,27 1,-6 1,34 1,-30 1,-32 1,12 1,-26 1,94 1,-90 1,57 1,-12 1,47 1,-87 1,43 1,-57 1,90 1,-63 1,42 1,-5 1,-21 1,42 1,-21 1,-43 1,39 1,-8 1,42 1,-45 1,50 1,-5 1,-92 1,63 1,7 1,3 1,50 1,-46 1,-72 1,88 1,-10 1,-38 1,32 1,-84 1,68 1,-2 1,7 1,18 1,-46 1,-7 1,-16 1,83 1,-67 1,49 1,-41 1,-36 1,82 1,-13 1,-11 1,-39 1,-2 1,60 1,-50 1,-20 1,15 1,12 1,25 1,2 1,-21 1,-19 1,-16 1,46 1,62 1,-102 1,-33 1,111 1,-163 1,110 1,22 1,-8 1,26 1,-3 1,-34 1,6 1,32 1,28 1,-81 1,-15 1,82 1,-58 1,-4 1,45 1,-38 1,66 1,17 1,-127 1,42 1,30 1,-37 1,49 1,-11 1,24 1,-50 1,-30 1,-50 1,100 1,24 1,-62 1,43 1,-38 1,25 1,-4 1,65 1,-78 1,-30 1,-33 1,58 1,-14 1,3 1,27 1,15 1,24 1,-43 1,42 1,-11 1,-50 1,-17 1,19 1,52 1,-8 1,-38 1,-11 1,-12 1,50 1,29 1,-89 1,31 1,43 1,-16 1,-24 1,63 1,-117 1,123 1,-2 1,-81 1,-1 1,74 1,-38 1,-17 1,79 1,-54 1,-92 1,63 1,-13 1,25 1,45 1,-52 1,70 1,-143 1,104 1,-120 1,129 1,-10 1,13 1,-28 1,1 1,-26 1,46 1,-31 1,16 1,-44 1,40 1,6 1,-38 1,35 1,-11 1,3 1,34 1,-22 1,9 1,-77 1,32 1,41 1,-7 1,-9 1,32 1,-42 1,28 1,-42 1,104 1,-94 1,2 1,13 1,57 1,-43 1,-68 1,22 1,26 1,45 1,-27 1,15 1,-38 1,-28 1,65 1,-25 1,-77 1,19 1,104 1,-14 1,-33 1,5 1,29 1,11 1,-19 1,-27 1,-19 1,65 1,-47 1,21 1,10 1,-59 1,51 1,-15 1,47 1,7 1,-79 1,18 1,28 1,-55 1,47 1,-8 1,23 1,-16 1,-78 1,90 1,-1 1,-4 1,7 1,-41 1,14 1,33 1,-10 1,-48 1,46 1,-94 1,79 1,-61 1,-15 1,30 1,38 1,2 1,29 1,-48 1,-61 1,-24 1,69 1,17 1,30 1,-31 1,-22 1,72 1,22 1,-18 1,-68 1,-3 1,75 1,-16 1,-1 1,15 1,-25 1,-35 1,17 1,20 1,51 1,-25 1,-85 1,55 1,4 1,-28 1,4 1,48 1,3 1,-124 1,24 1,7 1,-9 1,22 1,1 1,39 1,-16 1,-25 1,27 1,25 1,-37 1,17 1,13 1,52 1,-75 1,-56 1,39 1,26 1,-23 1,68 1,-40 1,-26 1,21 1,-56 1,41 1,51 1,-73 1,55 1,-43 1,-26 1,88 1,4 1,-76 1,24 1,52 1,-42 1,32 1,-80 1,59 1,-47 1,40 1,59 1,14 1,-76 1,-4 1,19 1,-58 1,74 1,-21 1,16 1,-2 1,-54 1,85 1,8 1,-68 1,52 1,-29 1,-63 1,-4 1,85 1,-39 1,35 1,19 1,-16 1,-20 1,43 1,-45 1,-1 1,45 1,-12 1,49 1,-123 1,4 1,42 1,-65 1,87 1,12 1,8 1,4 1,-50 1,-12 1,15 1,-4 1,-14 1,73 1,-84 1,-49 1,-26 1,66 1,-2 1,63 1,-45 1,-8 1,69 1,-50 1,-8 1,16 1,32 1,-7 1,-13 1,70 1,-66 1,-66 1,49 1,-28 1,101 1,-81 1,26 1,-17 1,37 1,-14 1,-3 1,-46 1,4 1,7 1,37 1,55 1,-62 1,-31 1,8 1,-7 1,26 1,-39 1,29 1,35 1,-69 1,70 1,-15 1,37 1,-99 1,46 1,-36 1,10 1,71 1,0 1,-55 1,30 1,52 1,-73 1,40 1,-56 1,-8 1,10 1,-8 1,23 1,-23 1,49 1,18 1,-75 1,40 1,-31 1,43 1,-30 1,-35 1,56 1,-91 1,85 1,-21 1,-3 1,40 1,20 1,-10 1,-21 1,-44 1,91 1,-69 1,26 1,-70 1,62 1,2 1,-80 1,104 1,-23 1,-40 1,34 1,-16 1,-23 1,13 1,75 1,-112 1,19 1,54 1,-54 1,-16 1,24 1,34 1,-26 1,-24 1,16 1,30 1,-20 1,-8 1,37 1,-25 1,-57 1,-5 1,44 1,-44 1,40 1,73 1,-66 1,-65 1,38 1,88 1,2 1,29 1,-43 1,-25 1,22 1,-24 1,-39 1,19 1,9 1,38 1,21 1,-57 1,29 1,-36 1,45 1,-44 1,21 1,11 1,42 1,-24 1,-2 1,4 1,-48 1,16 1,-31 1,48 1,20 1,-4 1,-37 1,46 1,6 1,-104 1,70 1,-18 1,45 1,-113 1,34 1,-4 1,54 1,22 1,-2 1,-15 1,-1 1,40 1,-21 1,-65 1,19 1,-78 1,129 1,-41 1,33 1,-17 1,6 1,-64 1,-21 1,68 1,1 1,6 1,4 1,46 1,-55 1,-46 1,31 1,-32 1,66 1,-26 1,15 1,-1 1,1 1,-73 1,10 1,51 1,-24 1,17 1,14 1,-66 1,64 1,2 1,4 1,-8 1,6 1,-40 1,2 1,72 1,9 1,-61 1,44 1,-26 1,22 1,-84 1,59 1,51 1,-54 1,-7 1,70 1,-52 1,-48 1,24 1,-43 1,13 1,59 1,-27 1,-60 1,71 1,-9 1,-5 1,49 1,-23 1,-14 1,23 1,-13 1,-36 1,31 1,20 1,-38 1,16 1,-61 1,48 1,32 1,11 1,-46 1,-79 1,133 1,-34 1,25 1,-61 1,31 1,0 1,15 1,-26 1,9 1,-14 1,33 1,17 1,-10 1,-43 1,39 1,1 1,-40 1,86 1,-33 1,-16 1,37 1,-85 1,58 1,-34 1,-14 1,28 1,30 1,-28 1,12 1,-1 1,3 1,-54 1,-14 1,22 1,41 1,-67 1,74 1,-29 1,6 1,-47 1,38 1,23 1,-34 1,4 1,-22 1,23 1,16 1,19 1,-53 1,46 1,11 1,-47 1,44 1,-48 1,63 1,-32 1,-27 1,4 1,-12 1,46 1,-42 1,-7 1,47 1,-56 1,37 1,-7 1,43 1,-1 1,-21 1,17 1,-47 1,34 1,-35 1,17 1,13 1,-20 1,68 1,-83 1,46 1,-44 1,73 1,-53 1,-28 1,17 1,76 1,-52 1,-50 1,-4 1,50 1,9 1,-47 1,10 1,66 1,-40 1,-73 1,75 1,1 1,-10 1,-46 1,31 1,55 1,-32 1,-27 1,-71 1,126 1,-72 1,42 1,44 1,-141 1,117 1,34 1,-75 1,38 1,-15 1,-33 1,-5 1,-36 1,113 1,-18 1,-30 1,-34 1,75 1,-75 1,-15 1,35 1,-66 1,126 1,-56 1,16 1,-59 1,81 1,-15 1,35 1,-1 1,-28 1,-62 1,16 1,47 1,-7 1,-11 1,28 1,-3 1,-12 1,30 1,1 1,-32 1,22 1,-34 1,22 1,49 1,-30 1,-14 1,-12 1,-114 1,105 1,11 1,44 1,-68 1,3 1,60 1,-34 1,-15 1,-1 1,-3 1,-13 1,31 1,24 1,-45 1,10 1,-75 1,105 1,-49 1,45 1,-130 1,134 1,-11 1,-29 1,5 1,-9 1,44 1,-43 1,-83 1,119 1,-7 1,-13 1,-53 1,12 1,78 1,-24 1,-18 1,38 1,-1 1,-135 1,111 1,-62 1,-2 1,57 1,-24 1,35 1,0 1,-82 1,17 1,77 1,-63 1,57 1,0 1,0 1,-33 1,-29 1,63 1,-77 1,26 1,44 1,-26 1,60 1,-56 1,19 1,24 1,-64 1,38 1,6 1,-16 1,30 1,-5 1,-34 1,-46 1,17 1,35 1,-14 1,17 1,-6 1,32 1,-27 1,-46 1,3 1,42 1,-31 1,35 1,-26 1,56 1,-77 1,32 1,66 1,-40 1,-82 1,45 1,13 1,-47 1,36 1,14 1,4 1,-23 1,45 1,-49 1,-34 1,-46 1,128 1,-63 1,35 1,-13 1,-35 1,43 1,-52 1,77 1,-47 1,62 1,-10 1,-35 1,-8 1,10 1,-41 1,22 1,39 1,-26 1,16 1,-48 1,16 1,55 1,-54 1,-17 1,47 1,-29 1,50 1,-68 1,61 1,-17 1,-45 1,68 1,-32 1,-19 1,27 1,34 1,-46 1,-45 1,16 1,54 1,-44 1,43 1,2 1,-11 1,-12 1,64 1,-17 1,-18 1,25 1,-27 1,-6 1,-7 1,-20 1,34 1,27 1,5 1,-17 1,14 1,-35 1,27 1,-11 1,-8 1,-48 1,35 1,-7 1,15 1,5 1,-22 1,-30 1,22 1,26 1,-18 1,-41 1,13 1,86 1,-115 1,84 1,-3 1,41 1,-71 1,78 1,-60 1,-22 1,-6 1,60 1,-10 1,-7 1,3 1,20 1,-39 1,14 1,-56 1,48 1,18 1,22 1,19 1,-35 1,-1 1,15 1,-14 1,-29 1,32 1,-8 1,28 1,-101 1,58 1,28 1,-44 1,18 1,14 1,-22 1,-21 1,25 1,-34 1,44 1,9 1,-67 1,62 1,-29 1,28 1,22 1,-7 1,1 1,-71 1,85 1,-25 1,-4 1,26 1,-35 1,6 1,26 1,6 1,-43 1,58 1,-142 1,58 1,77 1,-14 1,16 1,20 1,-106 1,55 1,2 1,-11 1,20 1,-41 1,44 1,-13 1,4 1,7 1,-24 1,-7 1,52 1,-100 1,18 1,81 1,-87 1,69 1,-15 1,-20 1,22 1,-36 1,28 1,29 1,11 1,-9 1,-52 1,-14 1,11 1,-8 1,-55 1,67 1,-16 1,78 1,-28 1,-62 1,78 1,-22 1,54 1,-103 1,1 1,2 1,51 1,-7 1,-5 1,7 1,22 1,-17 1,-26 1,-65 1,101 1,10 1,-72 1,26 1,53 1,-52 1,42 1,2 1,-16 1,-70 1,39 1,21 1,18 1,31 1,-3 1,-14 1,-14 1,-56 1,61 1,0 1,-16 1,51 1,-100 1,43 1,18 1,17 1,7 1,-1 1,-75 1,11 1,-16 1,47 1,-50 1,17 1,39 1,-44 1,-28 1,107 1,-43 1,-46 1,29 1,-22 1,32 1,-10 1,3 1,-11 1,90 1,-53 1,-24 1,45 1,-58 1,32 1,-68 1,3 1,78 1,-25 1,23 1,3 1,-47 1,2 1,-15 1,55 1,-18 1,-27 1,6 1,55 1,-8 1,-45 1,-32 1,70 1,-5 1,14 1,-42 1,49 1,-21 1,5 1,-39 1,53 1,-46 1,25 1,11 1,-10 1,43 1,-50 1,-63 1,74 1,-52 1,44 1,16 1,-24 1,23 1,-123 1,154 1,-41 1,-31 1,44 1,-23 1,42 1,-11 1,-45 1,0 1,13 1,14 1,9 1,-71 1,78 1,22 1,-42 1,-35 1,27 1,37 1,-86 1,62 1,9 1,-18 1,-10 1,-24 1,44 1,-14 1,-7 1,-64 1,76 1,-27 1,43 1,-45 1,-25 1,18 1,35 1,-16 1,17 1,12 1,-44 1,-27 1,54 1,8 1,-36 1,52 1,-45 1,23 1,-12 1,-77 1,14 1,89 1,1 1,-40 1,40 1,-32 1,10 1,-26 1,45 1,-3 1,-39 1,-7 1,55 1,22 1,-48 1,2 1,30 1,-16 1,-59 1,4 1,-24 1,89 1,-20 1,31 1,-58 1,79 1,-45 1,6 1,-37 1,-4 1,-11 1,81 1,-71 1,-25 1,27 1,22 1,28 1,-35 1,25 1,6 1,8 1,11 1,-65 1,34 1,25 1,-34 1,8 1,-13 1,54 1,-39 1,-30 1,24 1,-34 1,63 1,-36 1,-5 1,-32 1,-44 1,105 1,-64 1,-14 1,46 1,2 1,-55 1,54 1,13 1,5 1,-19 1,47 1,-108 1,63 1,27 1,-34 1,19 1,-69 1,52 1,-31 1,-22 1,66 1,-70 1,79 1,-17 1,-11 1,-27 1,44 1,-28 1,-1 1,4 1,-26 1,62 1,-12 1,-20 1,-9 1,21 1,7 1,37 1,-29 1,6 1,-50 1,14 1,-4 1,-66 1,30 1,43 1,29 1,25 1,-71 1,19 1,20 1,-46 1,30 1,8 1,-10 1,60 1,-128 1,41 1,54 1,-8 1,-14 1,-3 1,14 1,-67 1,79 1,10 1,-43 1,-14 1,-34 1,9 1,82 1,-48 1,-25 1,20 1,42 1,-42 1,13 1,-16 1,35 1,-48 1,-2 1,31 1,2 1,5 1,28 1,-23 1,-12 1,-21 1,2 1,11 1,32 1,-39 1,8 1,52 1,-6 1,23 1,-125 1,90 1,-52 1,48 1,-42 1,33 1,11 1,-1 1,-20 1,-8 1,49 1,-41 1,31 1,-9 1,7 1,-27 1,-73 1,68 1,16 1,-50 1,70 1,31 1,-48 1,35 1,-11 1,-46 1,41 1,-4 1,-17 1,29 1,-41 1,6 1,11 1,21 1,0 1,-16 1,-40 1,-16 1,83 1,5 1,-46 1,64 1,-18 1,-2 1,-47 1,7 1,-14 1,5 1,12 1,11 1,-44 1,60 1,-59 1,17 1,59 1,-7 1,-55 1,52 1,-57 1,-45 1,103 1,8 1,-40 1,27 1,3 1,-45 1,-16 1,25 1,44 1,12 1,-31 1,-1 1,-9 1,-18 1,54 1,-75 1,49 1,-40 1,-11 1,48 1,-18 1,-21 1,40 1,36 1,-58 1,48 1,-49 1,28 1,-81 1,78 1,27 1,-92 1,59 1,-23 1,27 1,-10 1,-2 1,49 1,-32 1,-2 1,-9 1,19 1,-61 1,49 1,0 1,-10 1,-17 1,-33 1,41 1,50 1,-27 1,-16 1,3 1,-6 1,47 1,-165 1,126 1,23 1,-52 1,47 1,-12 1,-16 1,-2 1,-23 1,25 1,-12 1,25 1,0 1,-8 1,17 1,-45 1,36 1,-14 1,34 1,-85 1,96 1,0 1,2 1,-23 1,-39 1,16 1,53 1,-90 1,36 1,-29 1,-22 1,28 1,53 1,-61 1,-16 1,102 1,-49 1,15 1,-49 1,53 1,-38 1,31 1,-51 1,4 1,63 1,-43 1,-29 1,39 1,28 1,-36 1,46 1,-7 1,-62 1,58 1,-20 1,39 1,-54 1,39 1,-13 1,-69 1,14 1,84 1,-77 1,63 1,-4 1,-5 1,-26 1,64 1,-49 1,9 1,6 1,22 1,-63 1,-11 1,37 1,12 1,-21 1,-24 1,51 1,17 1,-35 1,22 1,-30 1,-27 1,45 1,-12 1,5 1,-26 1,-7 1,37 1,2 1,36 1,-60 1,27 1,-23 1,-21 1,31 1,51 1,-33 1,-37 1,-1 1,-34 1,88 1,-72 1,26 1,-37 1,-6 1,-15 1,40 1,25 1,-29 1,58 1,-19 1,17 1,-35 1,-52 1,42 1,27 1,-14 1,-42 1,67 1,-13 1,4 1,13 1,-17 1,-54 1,35 1,-4 1,51 1,-57 1,13 1,20 1,13 1,-26 1,37 1,-50 1,59 1,-46 1,-29 1,7 1,83 1,-42 1,-18 1,29 1,-18 1,5 1,-3 1,13 1,-54 1,59 1,-59 1,18 1,46 1,-74 1,51 1,-1 1,-16 1,2 1,19 1,18 1,-98 1,85 1,-52 1,69 1,-65 1,10 1,-3 1,7 1,66 1,-54 1,35 1,-5 1,-51 1,6 1,-21 1,37 1,49 1,-26 1,-35 1,-13 1,17 1,26 1,14 1,-22 1,58 1,-48 1,-51 1,70 1,-60 1,55 1,-15 1,-31 1,-1 1,27 1,8 1,-23 1,-35 1,47 1,34 1,-26 1,0 1,6 1,-13 1,19 1,-29 1,54 1,-61 1,-12 1,23 1,-13 1,6 1,-10 1,29 1,-3 1,-10 1,25 1,-53 1,55 1,-3 1,-42 1,-21 1,70 1,-41 1,24 1,-50 1,22 1,44 1,-10 1,-33 1,3 1,6 1,9 1,3 1,-45 1,48 1,-20 1,0 1,-17 1,11 1,-10 1,66 1,-29 1,5 1,-47 1,28 1,23 1,-45 1,39 1,-18 1,27 1,-41 1,27 1,1 1,26 1,-67 1,36 1,-23 1,-2 1,10 1,-22 1,59 1,-2 1,-40 1,23 1,5 1,11 1,1 1,-37 1,-4 1,48 1,-9 1,-23 1,11 1,-19 1,64 1,5 1,-38 1,-17 1,21 1,-42 1,1 1,26 1,6 1,-56 1,69 1,-25 1,27 1,-71 1,56 1,17 1,-50 1,-4 1,51 1,-66 1,43 1,21 1,-5 1,-45 1,-23 1,38 1,-45 1,18 1,19 1,26 1,11 1,-1 1,-32 1,41 1,13 1,-31 1,-18 1,-11 1,6 1,39 1,-38 1,21 1,-14 1,30 1,-81 1,76 1,-15 1,-25 1,-13 1,37 1,39 1,7 1,-37 1,-21 1,9 1,0 1,6 1,-27 1,35 1,-20 1,18 1,-69 1,9 1,31 1,12 1,-1 1,-16 1,49 1,-73 1,73 1,-33 1,59 1,-13 1,-56 1,0 1,32 1,-24 1,-10 1,-11 1,-8 1,0 1,28 1,-50 1,96 1,-69 1,8 1,42 1,-60 1,35 1,23 1,-81 1,75 1,-14 1,20 1,-22 1,-92 1,88 1,24 1,-10 1,21 1,4 1,-14 1,-10 1,11 1,-36 1,9 1,50 1,-28 1,5 1,-37 1,23 1,20 1,-13 1,-14 1,11 1,12 1,-23 1,-28 1,40 1,7 1,2 1,-13 1,44 1,-41 1,22 1,2 1,-75 1,101 1,-33 1,3 1,-65 1,76 1,-22 1,10 1,-22 1,3 1,-76 1,86 1,-58 1,86 1,-58 1,20 1,58 1,-55 1,-4 1,-69 1,84 1,42 1,-81 1,70 1,-77 1,48 1,17 1,-20 1,-8 1,-57 1,11 1,62 1,-57 1,44 1,-45 1,26 1,78 1,-73 1,20 1,4 1,12 1,-13 1,-61 1,44 1,13 1,-30 1,21 1,-16 1,67 1,-90 1,-9 1,4 1,13 1,22 1,-27 1,18 1,-41 1,60 1,24 1,7 1,-35 1,29 1,-14 1,20 1,-76 1,77 1,-84 1,94 1,-25 1,16 1,-20 1,-42 1,12 1,33 1,-27 1,57 1,-35 1,-5 1,19 1,-43 1,11 1,-38 1,78 1,-43 1,15 1,-3 1,7 1,5 1,6 1,-35 1,18 1,-60 1,17 1,44 1,45 1,-57 1,-21 1,29 1,-1 1,-20 1,31 1,5 1,-12 1,-9 1,-52 1,50 1,59 1,-30 1,4 1,-15 1,-61 1,80 1,-39 1,-18 1,68 1,-39 1,-27 1,15 1,-14 1,33 1,-39 1,-13 1,8 1,41 1,24 1,-14 1,-51 1,28 1,-4 1,-36 1,21 1,12 1,-30 1,26 1,22 1,-74 1,44 1,11 1,-5 1,44 1,-44 1,17 1,41 1,-60 1,49 1,-34 1,4 1,-30 1,43 1,-48 1,24 1,0 1,-41 1,55 1,-54 1,90 1,-19 1,-7 1,33 1,-42 1,-21 1,59 1,-49 1,-5 1,30 1,-29 1,30 1,31 1,-38 1,-18 1,-2 1,49 1,-19 1,-20 1,-39 1,79 1,-67 1,9 1,32 1,-25 1,-23 1,34 1,26 1,-17 1,-42 1,-4 1,-49 1,53 1,13 1,16 1,1 1,15 1,20 1,-19 1,-32 1,7 1,18 1,-86 1,60 1,40 1,24 1,-55 1,33 1,-16 1,1 1,-2 1,8 1,-16 1,31 1,20 1,-77 1,30 1,26 1,-73 1,32 1,5 1,43 1,-17 1,-8 1,6 1,3 1,-56 1,84 1,-4 1,-41 1,23 1,-43 1,36 1,-46 1,40 1,-37 1,-6 1,51 1,-31 1,1 1,5 1,-60 1,60 1,37 1,-26 1,33 1,-40 1,35 1,-54 1,6 1,7 1,25 1,19 1,-34 1,-29 1,14 1,21 1,38 1,-32 1,-36 1,49 1,-62 1,-49 1,112 1,-2 1,-39 1,12 1,-19 1,39 1,-8 1,-17 1,5 1,-15 1,39 1,-69 1,85 1,-36 1,41 1,-16 1,-32 1,37 1,-49 1,-12 1,11 1,34 1,-24 1,36 1,-22 1,-22 1,-18 1,63 1,-11 1,-18 1,-28 1,18 1,17 1,8 1,-53 1,28 1,-40 1,68 1,-35 1,-25 1,55 1,-83 1,74 1,18 1,-17 1,-30 1,34 1,0 1,-8 1,-2 1,8 1,-19 1,44 1,-23 1,-85 1,67 1,-34 1,58 1,-21 1,-3 1,-10 1,71 1,-55 1,-22 1,14 1,47 1,-9 1,-32 1,-17 1,24 1,16 1,13 1,-32 1,-24 1,-3 1,-27 1,68 1,20 1,-5 1,-9 1,38 1,-55 1,17 1,-6 1,-3 1,-9 1,29 1,6 1,-12 1,-39 1,7 1,0 1,38 1,-18 1,-16 1,33 1,-81 1,22 1,49 1,-8 1,1 1,19 1,0 1,-54 1,-16 1,59 1,-14 1,18 1,31 1,-7 1,-8 1,-115 1,107 1,-17 1,-48 1,71 1,-17 1,-40 1,24 1,35 1,-19 1,-46 1,76 1,-87 1,-2 1,45 1,34 1,-65 1,42 1,-48 1,26 1,25 1,-15 1,-28 1,34 1,-12 1,-37 1,32 1,0 1,-39 1,37 1,14 1,31 1,-66 1,-16 1,64 1,-44 1,41 1,6 1,1 1,-41 1,32 1,-34 1,50 1,-29 1,-11 1,7 1,46 1,-40 1,-30 1,30 1,11 1,-56 1,60 1,22 1,-41 1,25 1,-56 1,11 1,43 1,-46 1,67 1,-75 1,30 1,7 1,32 1,-29 1,32 1,-8 1,-35 1,-32 1,46 1,8 1,-21 1,-17 1,-9 1,-11 1,71 1,-46 1,37 1,-39 1,31 1,-53 1,60 1,-25 1,-4 1,34 1,-19 1,24 1,-12 1,-51 1,78 1,-46 1,38 1,-29 1,-11 1,15 1,-27 1,25 1,36 1,-55 1,16 1,-19 1,39 1,-77 1,58 1,-2 1,-4 1,-10 1,-30 1,26 1,35 1,-28 1,3 1,52 1,-29 1,-12 1,-12 1,-41 1,58 1,8 1,-42 1,26 1,-6 1,29 1,20 1,-56 1,17 1,-9 1,6 1,-2 1,20 1,-67 1,-25 1,76 1,-11 1,8 1,-23 1,-18 1,23 1,41 1,-42 1,-6 1,2 1,52 1,-20 1,-25 1,-41 1,55 1,22 1,-38 1,27 1,-3 1,7 1,-41 1,9 1,16 1,31 1,-1 1,-9 1,-8 1,25 1,-57 1,-2 1,35 1,-15 1,10 1,-14 1,-6 1,7 1,-10 1,30 1,3 1,-33 1,-10 1,-3 1,59 1,-71 1,60 1,-8 1,-31 1,-19 1,51 1,-8 1,7 1,-17 1,3 1,-9 1,27 1,12 1,-34 1,-40 1,57 1,-52 1,35 1,-21 1,24 1,-83 1,93 1,26 1,-33 1,-13 1,1 1,-6 1,-24 1,21 1,22 1,-11 1,25 1,-3 1,-8 1,-60 1,69 1,-29 1,-10 1,2 1,47 1,-32 1,-9 1,35 1,24 1,-6 1,-28 1,14 1,-7 1,-15 1,-32 1,39 1,9 1,-23 1,-24 1,43 1,-13 1,-20 1,52 1,-12 1,-10 1,-10 1,-47 1,25 1,-22 1,15 1,41 1,22 1,-51 1,59 1,-31 1,-15 1,-37 1,78 1,-44 1,-35 1,54 1,27 1,-37 1,-17 1,13 1,7 1,-29 1,8 1,32 1,-8 1,29 1,-74 1,60 1,-64 1,31 1,11 1,17 1,-39 1,21 1,27 1,-21 1,8 1,11 1,-14 1,13 1,1 1,8 1,-22 1,2 1,14 1,-39 1,-14 1,16 1,52 1,-33 1,-10 1,-6 1,-25 1,25 1,9 1,-18 1,11 1,-8 1,-18 1,48 1,11 1,-17 1,-66 1,52 1,2 1,3 1,5 1,2 1,10 1,-37 1,22 1,-41 1,55 1,4 1,-28 1,18 1,-4 1,-11 1,-7 1,48 1,21 1,-35 1,35 1,-46 1,-19 1,0 1,30 1,-23 1,-3 1,27 1,-47 1,62 1,-25 1,-7 1,-18 1,2 1,-38 1,73 1,-21 1,23 1,-37 1,6 1,0 1,4 1,-37 1,-21 1,83 1,-5 1,-18 1,-8 1,5 1,-2 1,0 1,-33 1,44 1,-62 1,19 1,35 1,-18 1,12 1,30 1,3 1,-18 1,-19 1,20 1,-54 1,15 1,56 1,1 1,-35 1,-3 1,20 1,13 1,-20 1,6 1,17 1,7 1,-11 1,-117 1,134 1,-7 1,-19 1,-10 1,4 1,-25 1,28 1,-23 1,-37 1,13 1,78 1,-45 1,29 1,-8 1,-5 1,-12 1,38 1,-40 1,27 1,1 1,-38 1,-17 1,55 1,9 1,-61 1,53 1,-66 1,39 1,10 1,3 1,26 1,-38 1,-7 1,63 1,-54 1,13 1,-6 1,-3 1,-13 1,16 1,-18 1,36 1,-25 1,30 1,-7 1,-7 1,-38 1,49 1,0 1,-20 1,-2 1,17 1,-16 1,-18 1,-18 1,43 1,-56 1,92 1,-57 1,-6 1,-8 1,35 1,-38 1,43 1,-54 1,17 1,23 1,6 1,-6 1,-15 1,-34 1,2 1,66 1,-42 1,49 1,-21 1,-8 1,14 1,-15 1,34 1,-45 1,6 1,36 1,-21 1,-3 1,32 1,-7 1,-67 1,34 1,19 1,23 1,-59 1,36 1,-37 1,-9 1,31 1,-14 1,-34 1,5 1,30 1,11 1,18 1,-9 1,10 1,25 1,-68 1,61 1,-25 1,1 1,-16 1,-2 1,1 1,-21 1,4 1,3 1,69 1,-102 1,41 1,-79 1,101 1,-16 1,1 1,27 1,-27 1,-7 1,-36 1,78 1,-36 1,24 1,-23 1,7 1,11 1,9 1,-12 1,2 1,-15 1,13 1,-40 1,30 1,26 1,-5 1,-45 1,-1 1,41 1,-51 1,64 1,0 1,-27 1,23 1,15 1,-45 1,-10 1,3 1,-1 1,-7 1,14 1,44 1,-61 1,59 1,-43 1,16 1,-6 1,0 1,11 1,-57 1,65 1,-116 1,97 1,2 1,18 1,15 1,-57 1,-11 1,49 1,10 1,-23 1,-2 1,-14 1,-15 1,36 1,20 1,-28 1,-6 1,-30 1,50 1,-18 1,-19 1,10 1,37 1,-10 1,-18 1,19 1,10 1,25 1,-77 1,-1 1,53 1,-40 1,45 1,-62 1,-53 1,69 1,21 1,14 1,7 1,-28 1,30 1,-24 1,-52 1,36 1,-10 1,45 1,-31 1,6 1,17 1,-18 1,41 1,-62 1,37 1,-30 1,17 1,-5 1,-13 1,-52 1,84 1,-10 1,15 1,-44 1,11 1,-6 1,-41 1,5 1,20 1,-10 1,70 1,-9 1,-24 1,-19 1,51 1,-90 1,80 1,-19 1,8 1,-26 1,60 1,-40 1,23 1,-12 1,-12 1,-2 1,5 1,29 1,-15 1,-54 1,53 1,-12 1,13 1,-27 1,48 1,-22 1,-21 1,-9 1,16 1,8 1,-28 1,-15 1,13 1,38 1,-23 1,42 1,-40 1,11 1,2 1,-33 1,33 1,-16 1,31 1,-63 1,40 1,-19 1,-21 1,49 1,-35 1,12 1,13 1,-35 1,54 1,-72 1,46 1,-11 1,23 1,-18 1,-3 1,-21 1,39 1,30 1,-39 1,19 1,22 1,-77 1,37 1,-11 1,12 1,2 1,23 1,-43 1,61 1,-92 1,27 1,61 1,0 1,-5 1,-19 1,-22 1,14 1,4 1,39 1,-43 1,-7 1,21 1,-10 1,0 1,-28 1,52 1,-3 1,-24 1,5 1,4 1,-14 1,-14 1,-22 1,55 1,-16 1,-42 1,36 1,7 1,-10 1,28 1,-13 1,-26 1,18 1,-42 1,65 1,-68 1,67 1,-6 1,37 1,-32 1,-3 1,-47 1,54 1,3 1,-21 1,-25 1,52 1,-34 1,-52 1,67 1,8 1,11 1,-30 1,2 1,6 1,-12 1,57 1,-53 1,-1 1,1 1,-14 1,44 1,-11 1,-26 1,34 1,-28 1,5 1,4 1,20 1,-7 1,-29 1,-11 1,39 1,-6 1,-3 1,-40 1,65 1,-9 1,-32 1,17 1,17 1,-23 1,22 1,-23 1,-24 1,-14 1,-1 1,24 1,50" fill="none" stroke="#000" stroke-width="0.45" vector-effect="non-scaling-stroke"/>
<path transform="translate(377.60,0) scale(0.07,0.1)" d="M0,1651l1,12 1,-17 1,24 1,-36 1,-2 1,30 1,0 1,-47 1,60 1,0 1,-3 1,-40 1,47 1,-17 1,10 1,-22 1,-8 1,-6 1,3 1,36 1,-39 1,5 1,22 1,-13 1,-41 1,33 1,8 1,47 1,-22 1,-38 1,-2 1,16 1,16 1,-22 1,29 1,-43 1,41 1,21 1,-89 1,62 1,7 1,5 1,-7 1,-4 1,9 1,-3 1,0 1,35 1,-12 1,-2 1,-36 1,4 1,37 1,-49 1,49 1,-55 1,82 1,-20 1,-41 1,3 1,-37 1,47 1,30 1,-13 1,-20 1,55 1,-35 1,-2 1,-16 1,21 1,48 1,-50 1,-49 1,45 1,41 1,-17 1,-39 1,21 1,-42 1,50 1,-35 1,9 1,0 1,-3 1,57 1,-4 1,-41 1,10 1,38 1,-46 1,-3 1,-9 1,58 1,-32 1,-3 1,-10 1,-11 1,45 1,-40 1,7 1,-27 1,14 1,15 1,1 1,-24 1,22 1,12 1,-58 1,77 1,-20 1,-25 1,26 1,18 1,-10 1,2 1,-1 1,16 1,-47 1,19 1,24 1,-8 1,-25 1,19 1,-10 1,18 1,-39 1,1 1,5 1,31 1,63 1,-35 1,6 1,-28 1,38 1,-29 1,-6 1,24 1,-54 1,-22 1,24 1,62 1,-12 1,-16 1,-10 1,2 1,14 1,-29 1,39 1,-41 1,55 1,-39 1,-14 1,16 1,-15 1,19 1,-39 1,31 1,14 1,8 1,-18 1,38 1,-69 1,36 1,-6 1,12 1,-6 1,40 1,-33 1,-22 1,82 1,-58 1,-5 1,25 1,-35 1,9 1,27 1,-49 1,18 1,33 1,21 1,-45 1,0 1,29 1,-62 1,20 1,-3 1,-30 1,-20 1,60 1,32 1,-5 1,14 1,-96 1,63 1,36 1,-53 1,-11 1,41 1,-8 1,15 1,-15 1,30 1,-13 1,-10 1,-16 1,27 1,-33 1,39 1,5 1,-5 1,-53 1,42 1,-2 1,12 1,-58 1,23 1,13 1,36 1,-48 1,36 1,-18 1,44 1,-39 1,-47 1,32 1,14 1,24 1,-14 1,-23 1,-24 1,32 1,-4 1,36 1,-10 1,-57 1,-22 1,47 1,17 1,-31 1,12 1,42 1,-11 1,-60 1,50 1,-4 1,-9 1,19 1,1 1,47 1,-56 1,-23 1,6 1,30 1,30 1,-33 1,-1 1,-7 1,-17 1,13 1,-32 1,48 1,-6 1,-7 1,-26 1,15 1,-7 1,21 1,-14 1,16 1,14 1,8 1,-56 1,17 1,-18 1,57 1,-51 1,54 1,-45 1,37 1,-38 1,8 1,8 1,0 1,-6 1,20 1,13 1,-8 1,-33 1,-34 1,49 1,-73 1,87 1,-1 1,-46 1,45 1,-31 1,48 1,-50 1,-2 1,5 1,22 1,-32 1,82 1,-65 1,53 1,-51 1,0 1,-10 1,-1 1,30 1,18 1,-26 1,-25 1,27 1,-25 1,-46 1,69 1,-46 1,28 1,17 1,-11 1,3 1,45 1,-15 1,14 1,-32 1,0 1,39 1,-60 1,24 1,-5 1,4 1,8 1,-12 1,17 1,-41 1,34 1,-38 1,52 1,-2 1,-30 1,-7 1,12 1,14 1,-51 1,13 1,48 1,-28 1,-27 1,-23 1,44 1,-33 1,47 1,-5 1,48 1,-77 1,47 1,-46 1,4 1,21 1,-16 1,66 1,-46 1,-17 1,76 1,-78 1,11 1,4 1,-14 1,34 1,15 1,-62 1,20 1,3 1,-25 1,2 1,23 1,-13 1,30 1,13 1,-16 1,3 1,-30 1,8 1,24 1,5 1,-17 1,16 1,-20 1,-22 1,36 1,-18 1,-32 1,64 1,-12 1,9 1,-30 1,49 1,-25 1,12 1,-40 1,8 1,40 1,-33 1,2 1,36 1,-8 1,-23 1,42 1,-85 1,36 1,-12 1,50 1,3 1,-51 1,15 1,20 1,-10 1,-7 1,18 1,24 1,-45 1,-30 1,24 1,2 1,-8 1,26 1,1 1,5 1,-11 1,-5 1,-32 1,17 1,-13 1,29 1,-11 1,2 1,14 1,-20 1,34 1,-1 1,-49 1,56 1,-41 1,-9 1,10 1,-24 1,40 1,21 1,-67 1,48 1,4 1,2 1,-1 1,-5 1,-22 1,34 1,-14 1,11 1,-12 1,-14 1,6 1,16 1,10 1,-72 1,15 1,-9 1,28 1,-4 1,22 1,-13 1,41 1,-48 1,-3 1,-3 1,13 1,12 1,-16 1,-11 1,-11 1,38 1,-18 1,-11 1,18 1,15 1,42 1,-10 1,-62 1,11 1,-38 1,0 1,3 1,68 1,-26 1,-33 1,20 1,4 1,-4 1,53 1,-84 1,36 1,18 1,6 1,-66 1,58 1,-36 1,17 1,-25 1,59 1,58 1,-52 1,-33 1,-36 1,65 1,8 1,-57 1,51 1,-68 1,13 1,35 1,-38 1,53 1,17 1,-34 1,11 1,28 1,-27 1,19 1,4 1,-62 1,81 1,-25 1,-26 1,17 1,-13 1,-2 1,-31 1,15 1,2 1,35 1,-15 1,-1 1,-13 1,34 1,-93 1,39 1,46 1,-34 1,26 1,24 1,-20 1,-56 1,31 1,-23 1,40 1,14 1,-32 1,19 1,-18 1,53 1,-44 1,2 1,8 1,13 1,-9 1,-19 1,3 1,11 1,2 1,-24 1,-5 1,8 1,18 1,-23 1,-16 1,19 1,-4 1,27 1,-28 1,3 1,57 1,-36 1,-34 1,53 1,-39 1,-12 1,37 1,-52 1,34 1,16 1,4 1,-32 1,1 1,10 1,33 1,-75 1,65 1,-13 1,27 1,-63 1,57 1,-50 1,29 1,-18 1,-51 1,60 1,11 1,12 1,-38 1,-13 1,47 1,-27 1,35 1,10 1,-42 1,2 1,-14 1,-33 1,51 1,18 1,8 1,-27 1,47 1,-60 1,13 1,-13 1,2 1,4 1,-10 1,7 1,17 1,-4 1,-29 1,39 1,-34 1,32 1,-9 1,-51 1,23 1,50 1,-41 1,0 1,5 1,14 1,12 1,-22 1,50 1,-57 1,2 1,7 1,9 1,33 1,22 1,-68 1,4 1,21 1,-20 1,25 1,-49 1,49 1,-77 1,68 1,4 1,46 1,-86 1,40 1,-1 1,-41 1,31 1,-28 1,-9 1,-9 1,33 1,-21 1,-26 1,60 1,-51 1,61 1,-12 1,-27 1,-20 1,17 1,-11 1,25 1,0 1,72 1,-117 1,38 1,30 1,12 1,8 1,-60 1,46 1,-95 1,68 1,27 1,-3 1,-55 1,14 1,-34 1,36 1,-16 1,42 1,-27 1,35 1,-18 1,-6 1,54 1,-16 1,-65 1,70 1,-16 1,14 1,-23 1,-58 1,36 1,-53 1,26 1,18 1,51 1,-32 1,4 1,14 1,-43 1,52 1,-24 1,-31 1,10 1,8 1,22 1,21 1,-45 1,2 1,52 1,37 1,-37 1,-43 1,-14 1,27 1,-11 1,-29 1,56 1,31 1,-89 1,1 1,7 1,-20 1,54 1,-59 1,55 1,-8 1,9 1,-59 1,42 1,3 1,16 1,-14 1,-25 1,45 1,6 1,-2 1,-55 1,33 1,-39 1,20 1,24 1,-59 1,111 1,-41 1,-53 1,5 1,12 1,-2 1,-29 1,28 1,-37 1,24 1,63 1,-50 1,-9 1,52 1,-34 1,8 1,-32 1,44 1,-39 1,32 1,-7 1,29 1,-20 1,-27 1,-29 1,20 1,-11 1,59 1,-53 1,-49 1,70 1,11 1,-46 1,43 1,-55 1,42 1,-12 1,13 1,2 1,-29 1,39 1,-36 1,17 1,34 1,-63 1,26 1,41 1,-10 1,-52 1,1 1,31 1,-32 1,19 1,-39 1,53 1,-60 1,46 1,15 1,-37 1,-25 1,8 1,-18 1,99 1,-100 1,17 1,43 1,-8 1,26 1,7 1,-23 1,-14 1,-14 1,10 1,29 1,-9 1,0 1,-62 1,24 1,2 1,3 1,-14 1,46 1,10 1,20 1,-64 1,11 1,5 1,-3 1,-23 1,44 1,-77 1,42 1,-39 1,68 1,-55 1,6 1,30 1,-28 1,34 1,-17 1,63 1,-87 1,11 1,37 1,-13 1,9 1,-21 1,33 1,-16 1,25 1,-72 1,43 1,-14 1,17 1,-37 1,47 1,-58 1,59 1,-9 1,-64 1,59 1,-64 1,67 1,-59 1,41 1,-5 1,-38 1,-6 1,63 1,-27 1,42 1,-31 1,76 1,-71 1,43 1,-39 1,-7 1,12 1,-36 1,3 1,62 1,-50 1,-27 1,45 1,-37 1,25 1,28 1,4 1,14 1,-18 1,-14 1,-4 1,-7 1,-9 1,62 1,-64 1,48 1,-49 1,35 1,-110 1,81 1,-21 1,59 1,-2 1,-58 1,15 1,27 1,-17 1,-6 1,24 1,-63 1,79 1,-31 1,-91 1,53 1,23 1,63 1,-62 1,-40 1,77 1,-26 1,-11 1,29 1,-39 1,7 1,30 1,-15 1,14 1,-36 1,55 1,-84 1,1 1,51 1,-22 1,14 1,-5 1,-5 1,-25 1,37 1,27 1,-58 1,74 1,-9 1,-65 1,45 1,-52 1,26 1,-26 1,15 1,-35 1,45 1,-24 1,5 1,-30 1,55 1,50 1,-61 1,6 1,-27 1,18 1,-10 1,-19 1,18 1,10 1,22 1,-17 1,17 1,27 1,-10 1,-36 1,-36 1,42 1,8 1,24 1,-23 1,72 1,-84 1,27 1,-43 1,-2 1,19 1,14 1,13 1,-103 1,115 1,10 1,-4 1,-13 1,-26 1,19 1,19 1,-60 1,44 1,-4 1,-17 1,52 1,-67 1,-7 1,25 1,-15 1,52 1,-80 1,10 1,43 1,12 1,-51 1,66 1,-85 1,79 1,-51 1,11 1,61 1,-50 1,-15 1,24 1,44 1,-48 1,-23 1,27 1,-39 1,15 1,4 1,32 1,-30 1,26 1,19 1,11 1,-86 1,43 1,-29 1,48 1,-10 1,-7 1,-13 1,-11 1,-19 1,70 1,-30 1,6 1,8 1,13 1,29 1,-54 1,22 1,-60 1,33 1,-8 1,2 1,47 1,-27 1,-1 1,1 1,-8 1,0 1,-11 1,4 1,3 1,6 1,-44 1,51 1,-2 1,12 1,-40 1,5 1,46 1,-40 1,32 1,-30 1,-13 1,-7 1,22 1,4 1,-19 1,69 1,-36 1,-23 1,62 1,-18 1,-40 1,-7 1,22 1,24 1,-55 1,66 1,-39 1,32 1,-25 1,16 1,4 1,17 1,-51 1,67 1,-81 1,41 1,10 1,-17 1,23 1,-64 1,40 1,27 1,-25 1,-28 1,33 1,1 1,-30 1,59 1,-47 1,-12 1,29 1,-19 1,12 1,11 1,-16 1,26 1,-8 1,24 1,-56 1,27 1,5 1,1 1,-60 1,27 1,35 1,7 1,-14 1,5 1,26 1,-39 1,-10 1,57 1,-22 1,-20 1,-13 1,58 1,-46 1,-14 1,53 1,-69 1,34 1,19 1,-22 1,-6 1,25 1,-41 1,25 1,23 1,-44 1,61 1,-39 1,4 1,-10 1,26 1,-25 1,17 1,26 1,0 1,-68 1,71 1,-45 1,20 1,-5 1,5 1,-22 1,30 1,11 1,-39 1,14 1,21 1,6 1,-18 1,-1 1,6 1,-20 1,16 1,-14 1,-2 1,-48 1,14 1,53 1,9 1,-7 1,-8 1,-10 1,22 1,-23 1,9 1,37 1,-69 1,19 1,9 1,-40 1,18 1,54 1,-13 1,-15 1,35 1,-55 1,70 1,-48 1,-12 1,41 1,-14 1,-7 1,-7 1,-40 1,-7 1,50 1,23 1,-41 1,21 1,-39 1,2 1,34 1,19 1,1 1,11 1,-47 1,15 1,23 1,-42 1,17 1,7 1,0 1,21 1,-10 1,-20 1,-44 1,74 1,5 1,-12 1,-3 1,2 1,19 1,-40 1,10 1,-21 1,18 1,-13 1,0 1,-27 1,44 1,26 1,-92 1,99 1,-30 1,-15 1,23 1,-12 1,4 1,35 1,-29 1,5 1,-14 1,2 1,-16 1,18 1,-15 1,44 1,-31 1,23 1,13 1,-6 1,-39 1,54 1,-81 1,76 1,-90 1,37 1,20 1,-15 1,-31 1,14 1,40 1,-44 1,53 1,12 1,5 1,-25 1,-6 1,-8 1,71 1,-34 1,-13 1,-6 1,17 1,-67 1,63 1,-32 1,-39 1,77 1,-42 1,28 1,-26 1,7 1,46 1,-29 1,2 1,-43 1,55 1,-34 1,25 1,-33 1,31 1,4 1,-44 1,40 1,-27 1,48 1,-19 1,-7 1,67 1,-49 1,-26 1,28 1,-13 1,24 1,-52 1,66 1,-54 1,3 1,-7 1,9 1,49 1,-37 1,-27 1,20 1,9 1,16 1,-28 1,12 1,60 1,-66 1,5 1,-28 1,47 1,-30 1,50 1,-13 1,-9 1,-28 1,4 1,0 1,10 1,-9 1,-4 1,14 1,-2 1,-8 1,29 1,3 1,-35 1,59 1,-38 1,19 1,14 1,-71 1,42 1,9 1,6 1,-8 1,5 1,-54 1,12 1,33 1,-55 1,32 1,8 1,12 1,11 1,-13 1,-23 1,-3 1,30 1,4 1,-4 1,-5 1,-1 1,-31 1,29 1,17 1,-40 1,33 1,6 1,35 1,-51 1,-3 1,-20 1,2 1,-11 1,-3 1,53 1,-15 1,7 1,-40 1,-9 1,6 1,72 1,-10 1,-52 1,30 1,2 1,-24 1,7 1,34 1,-4 1,4 1,-12 1,-4 1,8 1,-14 1,40 1,-31 1,7 1,-13 1,-12 1,13 1,-5 1,-10 1,34 1,25 1,-36 1,-7 1,-13 1,-15 1,43 1,0 1,-29 1,19 1,-19 1,47 1,-27 1,7 1,27 1,-82 1,55 1,-2 1,-12 1,7 1,26 1,-40 1,1 1,49 1,-14 1,-11 1,7 1,-15 1,-7 1,3 1,10 1,-16 1,-23 1,30 1,9 1,-8 1,17 1,-8 1,14 1,-17 1,-6 1,16 1,6 1,-27 1,-8 1,45 1,-38 1,19 1,-17 1,14 1,24 1,6 1,-60 1,-3 1,-39 1,81 1,20 1,-26 1,-11 1,23 1,-36 1,33 1,14 1,-2 1,-11 1,-24 1,4 1,-12 1,56 1,-12 1,-26 1,0 1,6 1,-18 1,24 1,0 1,-1 1,-8 1,-51 1,47 1,-25 1,-5 1,79 1,-55 1,7 1,-2 1,-11 1,50 1,-70 1,47 1,-21 1,37 1,-8 1,-15 1,-32 1,46 1,4 1,-6 1,-19 1,19 1,-28 1,20 1,3 1,-12 1,-15 1,16 1,-13 1,-6 1,45 1,-24 1,-7 1,0 1,19 1,-15 1,-7 1,19 1,-2 1,-21 1,-3 1,48 1,-32 1,30 1,-12 1,-13 1,-3 1,37 1,-45 1,5 1,-8 1,13 1,-15 1,21 1,-27 1,35 1,-3 1,-3 1,-16 1,38 1,14 1,-42 1,-13 1,29 1,-17 1,7 1,10 1,-39 1,41 1,-35 1,-4 1,17 1,37 1,-41 1,22 1,-28 1,31 1,-6 1,17 1,-19 1,-4 1,-37 1,44 1,9 1,-11 1,0 1,7 1,6 1,-34 1,16 1,10 1,-3 1,-24 1,-20 1,45 1,8 1,19 1,-24 1,-26 1,26 1,-11 1,-11 1,-14 1,-8 1,22 1,6 1,9 1,0 1,4 1,33 1,-39 1,29 1,-43 1,2 1,4 1,-25 1,68 1,-28 1,9 1,20 1,-25 1,24 1,-79 1,72 1,-19 1,-17 1,32 1,-20 1,-15 1,-24 1,73 1,-86 1,53 1,30 1,-19 1,-25 1,7 1,-6 1,17 1,-7 1,-23 1,-4 1,51 1,-47 1,3 1,68 1,-62 1,-9 1,6 1,34 1,-29 1,12 1,-43 1,33 1,13 1,1 1,27 1,-18 1,-67 1,25 1,14 1,12 1,7 1,11 1,-45 1,-11 1,60 1,-36 1,-26 1,27 1,10 1,-15 1,1 1,43 1,-41 1,27 1,-1 1,-12 1,54 1,-73 1,77 1,-69 1,13 1,12 1,15 1,-8 1,-20 1,0 1,30 1,7 1,-40 1,34 1,-13 1,-6 1,-26 1,-3 1,33 1,-63 1,45 1,18 1,-41 1,64 1,1 1,-53 1,19 1,-1 1,-8 1,1 1,19 1,23 1,-30 1,0 1,1 1,-16 1,26 1,-22 1,-10 1,32 1,-49 1,27 1,2 1,5 1,-27 1,11 1,16 1,15 1,-14 1,-2 1,-12 1,16 1,-54 1,67 1,6 1,-19 1,-18 1,44 1,-39 1,39 1,-31 1,-9 1,10 1,-9 1,10 1,13 1,-14 1,-4 1,8 1,8 1,-7 1,10 1,1 1,-6 1,9 1,-14 1,22 1,-14 1,8 1,-19 1,-24 1,19 1,9 1,6 1,-7 1,28 1,-52 1,-9 1,30 1,-9 1,13 1,12 1,39 1,-76 1,5 1,19 1,-27 1,14 1,38 1,-25 1,1 1,21 1,-53 1,35 1,-4 1,6 1,-23 1,10 1,7 1,15 1,-27 1,25 1,-51 1,48 1,6 1,-31 1,11 1,6 1,5 1,17 1,-18 1,-8 1,1 1,8 1,10 1,-10 1,-15 1,4 1,-8 1,-2 1,8 1,-2 1,25 1,-36 1,23 1,-23 1,37 1,-9 1,17 1,-13 1,-29 1,20 1,-12 1,2 1,-9 1,13 1,7 1,2 1,42 1,-48 1,4 1,-3 1,-3 1,-1 1,7 1,-5 1,17 1,-5 1,-24 1,16 1,6 1,-11 1,1 1,3 1,12 1,-7 1,-13 1,9 1,23 1,-40 1,29 1,-16 1,72 1,-56 1,-10 1,-3 1,-26 1,19 1,45 1,-29 1,-12 1,5 1,1 1,-18 1,19 1,7 1,-35 1,22 1,-45 1,19 1,46 1,7 1,11 1,-56 1,21 1,-4 1,25 1,-13 1,-5 1,10 1,-19 1,25 1,-23 1,26 1,-16 1,0 1,-24 1,-7 1,0 1,36 1,-47 1,63 1,-30 1,-18 1,30 1,-28 1,22 1,-5 1,26 1,-5 1,1 1,-25 1,30 1,-23 1,3 1,6 1,-3 1,-28 1,35 1,-40 1,37 1,-10 1,3 1,-21 1,37 1,-20 1,18 1,-28 1,0 1,14 1,17 1,-41 1,13 1,1 1,4 1,-3 1,27 1,-6 1,-12 1,14 1,3 1,-29 1,-1 1,25 1,25 1,-79 1,31 1,24 1,-28 1,30 1,-11 1,-26 1,14 1,14 1,-22 1,26 1,-5 1,-10 1,12 1,-13 1,10 1,-21 1,42 1,-29 1,25 1,17 1,-10 1,-28 1,3 1,-3 1,6 1,-20 1,-17 1,37 1,-5 1,27 1,4 1,-55 1,8 1,29 1,7 1,-18 1,-1 1,-33 1,72 1,-52 1,22 1,-4 1,-21 1,30 1,11 1,-26 1,3 1,9 1,6 1,-2 1,-31 1,-1 1,7 1,-37 1,24 1,19 1,-8 1,-3 1,30 1,-9 1,8 1,-17 1,-4 1,-8 1,19 1,-35 1,16 1,25 1,5 1,-16 1,-19 1,30 1,-22 1,10 1,-14 1,48 1,-6 1,-40 1,-6 1,20 1,11 1,11 1,-22 1,-21 1,27 1,-1 1,-32 1,23 1,0 1,-12 1,21 1,14 1,0 1,-33 1,5 1,22 1,-18 1,0 1,44 1,-82 1,33 1,-3 1,14 1,30 1,-32 1,-2 1,7 1,-8 1,12 1,37 1,-55 1,8 1,3 1,-35 1,46 1,-11 1,-33 1,29 1,8 1,-18 1,34 1,-29 1,-15 1,39 1,-16 1,5 1,-30 1,4 1,6 1,15 1,0 1,26 1,3 1,-24 1,-4 1,34 1,-31 1,16 1,-26 1,7 1,-3 1,-7 1,18 1,-20 1,12 1,9 1,29 1,-68 1,33 1,10 1,-17 1,21 1,-6 1,-1 1,-15 1,4 1,-1 1,-13 1,20 1,-21 1,3 1,-8 1,42 1,-28 1,-5 1,28 1,-20 1,12 1,-8 1,9 1,-3 1,-40 1,62 1,-8 1,-42 1,40 1,-19 1,6 1,20 1,-5 1,0 1,17 1,-15 1,-29 1,-11 1,35 1,-43 1,23 1,0 1,-5 1,34 1,-17 1,-9 1,19 1,-22 1,27 1,14 1,-37 1,0 1,22 1,-52 1,12 1,4 1,-10 1,27 1,5 1,-6 1,0 1,16 1,3 1,3 1,-23 1,2 1,25 1,-18 1,15 1,-30 1,7 1,-9 1,10 1,7 1,-14 1,40 1,-57 1,39 1,-33 1,23 1,-17 1,14 1,0 1,-15 1,-7 1,9 1,12 1,13 1,14 1,-56 1,36 1,-15 1,8 1,5 1,8 1,-6 1,-7 1,26 1,-21 1,-5 1,19 1,-38 1,4 1,39 1,-27 1,-26 1,43 1,6 1,-32 1,-9 1,21 1,6 1,-15 1,-6 1,24 1,0 1,-35 1,8 1,13 1,-5 1,14 1,5 1,22 1,-24 1,9 1,-41 1,14 1,29 1,-41 1,46 1,-13 1,-7 1,-4 1,-17 1,1 1,9 1,2 1,27 1,-37 1,7 1,-18 1,31 1,-3 1,18 1,14 1,-23 1,-23 1,18 1,1 1,-6 1,-16 1,23 1,-25 1,18 1,-3 1,-38 1,53 1,24 1,-40 1,-4 1,25 1,-37 1,22 1,4 1,-13 1,8 1,-13 1,4 1,21 1,-25 1,5 1,-2 1,19 1,-14 1,-8 1,20 1,-38 1,1 1,36 1,25 1,-38 1,14 1,-28 1,24 1,2 1,6 1,-22 1,44 1,-47 1,40 1,-42 1,30 1,9 1,14 1,-37 1,-25 1,40 1,-25 1,-5 1,7 1,-5 1,27 1,-9 1,8 1,3 1,-20 1,18 1,8 1,10 1,-27 1,-7 1,-11 1,9 1,7 1,4 1,-26 1,15 1,3 1,-6 1,0 1,15 1,-21 1,23 1,-25 1,21 1,-21 1,37 1,-7 1,9 1,-34 1,-8 1,0 1,17 1,21 1,-6 1,0 1,-31 1,38 1,-6 1,-20 1,-33 1,29 1,10 1,28 1,-22 1,-5 1,27 1,-1 1,-18 1,4 1,10 1,-32 1,18 1,-13 1,-9 1,24 1,9 1,13 1,-18 1,6 1,-21 1,-21 1,14 1,16 1,-15 1,40 1,-11 1,-23 1,31 1,-17 1,16 1,-29 1,15 1,-16 1,4 1,18 1,12 1,-28 1,2 1,-18 1,10 1,12 1,-28 1,13 1,-11 1,21 1,11 1,-9 1,-9 1,-12 1,-10 1,26 1,24 1,-28 1,3 1,-6 1,-11 1,35 1,-5 1,-35 1,4 1,41 1,-36 1,14 1,-16 1,22 1,-18 1,3 1,-8 1,48 1,11 1,-38 1,7 1,-1 1,-9 1,-2 1,-4 1,18 1,-32 1,7 1,24 1,-33 1,48 1,-30 1,7 1,18 1,-22 1,3 1,-11 1,17 1,3 1,-25 1,25 1,5 1,-8 1,-19 1,26 1,7 1,-29 1,-21 1,17 1,12 1,20 1,-1 1,-9 1,-20 1,22 1,-12 1,-16 1,-12 1,44 1,-42 1,46 1,15 1,-35 1,-13 1,3 1,-1 1,17 1,10 1,-28 1,7 1,-5 1,28 1,-2 1,-29 1,8 1,8 1,-31 1,20 1,11 1,-25 1,26 1,-3 1,-9 1,25 1,-31 1,21 1,-10 1,21 1,-30 1,22 1,0 1,9 1,7 1,-49 1,23 1,-16 1,32 1,6 1,-26 1,9 1,17 1,-18 1,-5 1,-24 1,15 1,27 1,-39 1,28 1,-1 1,-4 1,13 1,-24 1,33 1,-28 1,22 1,-25 1,14 1,-10 1,32 1,-43 1,7 1,32 1,-10 1,-13 1,-3 1,-16 1,16 1,9 1,14 1,-5 1,8 1,-16 1,-17 1,6 1,29 1,-22 1,20 1,-47 1,18 1,-5 1,16 1,-16 1,-8 1,19 1,-34 1,26 1,16 1,-24 1,17 1,-13 1,8 1,9 1,4 1,-1 1,-18 1,35 1,-18 1,-15 1,30 1,-26 1,36 1,-17 1,-15 1,-6 1,-5 1,1 1,8 1,25 1,-18 1,-4 1,8 1,-12 1,-14 1,-4 1,45 1,-26 1,29 1,5 1,-25 1,8 1,-18 1,4 1,3 1,-1 1,23 1,-25 1,16 1,-12 1,8 1,18 1,-52 1,42 1,-28 1,13 1,-8 1,-2 1,-14 1,-20 1,75 1,-20 1,-17 1,-26 1,40 1,14 1,-18 1,-33 1,18 1,13 1,-6 1,19 1,-33 1,6 1,-29 1,56 1,-7 1,-17 1,-22 1,42 1,-36 1,3 1,-11 1,8 1,8 1,-2 1,34 1,-6 1,-10 1,-10 1,8 1,-20 1,27 1,-21 1,7 1,13 1,-19 1,-8 1,38 1,-43 1,7 1,2 1,7 1,9 1,-49 1,43 1,30 1,-3 1,-5 1,-15 1,5 1,-13 1,-17 1,32 1,11 1,-12 1,-5 1,14 1,-9 1,13 1,-24 1,-22 1,36 1,6 1,-26 1,16 1,8 1,-54 1,81 1,-26 1,-15 1,-15 1,-7 1,77 1,-57 1,16 1,-21 1,5 1,15 1,-25 1,14 1,-2 1,11 1,6 1,-17 1,25 1,-29 1,1 1,8 1,-6 1,17 1,-57 1,17 1,-7 1,57 1,-10 1,-23 1,17 1,-34 1,23 1,28 1,-13 1,23 1,-41 1,26 1,-16 1,3 1,-1 1,8 1,9 1,-20 1,5 1,-7 1,6 1,-17 1,28 1,-5 1,-6 1,-5 1,-10 1,-4 1,-3 1,5 1,27 1,-8 1,-29 1,8 1,36 1,5 1,-13 1,20 1,-44 1,18 1,-17 1,45 1,-28 1,0 1,-1 1,-16 1,10 1,-35 1,29 1,-9 1,28 1,9 1,-17 1,-20 1,-1 1,29 1,-16 1,0 1,-13 1,21 1,-1 1,10 1,-27 1,14 1,-21 1,25 1,-3 1,-6 1,20 1,-34 1,44 1,-18 1,3 1,-5 1,-15 1,2 1,24 1,-15 1,5 1,-10 1,18 1,-3 1,-30 1,50 1,-14 1,-3 1,-8 1,-5 1,14 1,26 1,-41 1,-15 1,16 1,2 1,13 1,-33 1,12 1,2 1,20 1,2 1,-14 1,13 1,-15 1,0 1,-36 1,21 1,-3 1,24 1,-6 1,-18 1,17 1,-2 1,8 1,-15 1,-2 1,29 1,-22 1,19 1,-29 1,10 1,-1 1,-10 1,26 1,-32 1,24 1,-36 1,43 1,-10 1,17 1,13 1,-40 1,10 1,-20 1,13 1,8 1,0 1,11 1,-4 1,7 1,-25 1,12 1,-18 1,14 1,-39 1,40 1,2 1,-8 1,1 1,-19 1,15 1,1 1,13 1,3 1,-13 1,4 1,8 1,-19 1,29 1,15 1,-25 1,-13 1,11 1,14 1,1 1,-39 1,25 1,-15 1,4 1,11 1,4 1,-12 1,-9 1,10 1,-13 1,42 1,-49 1,32 1,-8 1,-1 1,-16 1,9 1,2 1,-3 1,4 1,6 1,-9 1,13 1,5 1,-19 1,19 1,-10 1,-9 1,15 1,9 1,-21 1,-22 1,39 1,3 1,-31 1,14 1,9 1,-42 1,47 1,-1 1,1 1,10 1,-37 1,29 1,20 1,-67 1,28 1,16 1,-21 1,-17 1,32 1,-2 1,-13 1,14 1,10 1,1 1,-9 1,-24 1,14 1,-29 1,18 1,18 1,5 1,-8 1,0 1,-28 1,10 1,1 1,9 1,0 1,40 1,-17 1,-30 1,6 1,1 1,0 1,1 1,-22 1,47 1,-8 1,0 1,-8 1,5 1,-12 1,-23 1,30 1,-1 1,-20 1,-13 1,49 1,-31 1,12 1,-8 1,35 1,-46 1,37 1,-52 1,50 1,-21 1,-25 1,34 1,-2 1,-23 1,29 1,-6 1,8 1,-28 1,10 1,-3 1,16 1,-10 1,-7 1,35 1,-28 1,24 1,-4 1,-23 1,-16 1,30 1,7 1,7 1,-11 1,0 1,-15 1,-1 1,57 1,-30 1,-36 1,24 1,2 1,-33 1,22 1,13 1,16 1,-1 1,-29 1,1 1,-2 1,10 1,9 1,-28 1,13 1,-6 1,-3 1,4 1,34 1,-1 1,-4 1,-45 1,28 1,31 1,-29 1,-16 1,19 1,-13 1,-2 1,10 1,3 1,-9 1,2 1,-15 1,14 1,11 1,-9 1,-3 1,-19 1,38 1,-34 1,27 1,-15 1,17 1,3 1,-19 1,-40 1,15 1,15 1,1 1,18 1,24 1,-19 1,-12 1,22 1,-22 1,15 1,-7 1,-33 1,42 1,11 1,-30 1,16 1,-4 1,-11 1,-2 1,20 1,-23 1,1 1,20 1,1 1,9 1,-31 1,-10 1,35 1,-38 1,16 1,3 1,28 1,-25 1,-17 1,17 1,19 1,-45 1,7 1,34 1,-13 1,-16 1,11 1,4 1,-17 1,8 1,29 1,-16 1,11 1,-16 1,-8 1,13 1,-18 1,19 1,-10 1,0 1,1 1,-10 1,33 1,-41 1,25 1,-22 1,31 1,-16 1,6 1,4 1,-1 1,-3 1,3 1,0 1,-12 1,2 1,1 1,-6 1,2 1,27 1,-40 1,45 1,-32 1,17 1,-9 1,-3 1,11 1,16 1,-26 1,1 1,-7 1,37 1,-12 1,-1 1,-15 1,-28 1,34 1,-32 1,16 1,23 1,-22 1,-2 1,-20 1,40 1,-4 1,-13 1,12 1,-28 1,10 1,16 1,10 1,-13 1,-17 1,10 1,23 1,-24 1,12 1,2 1,-13 1,8 1,-26 1,17 1,9 1,8 1,10 1,-25 1,13 1,-8 1,-10 1,1 1,10 1,1 1,-11 1,49 1,-39 1,10 1,-13 1,43 1,-71 1,27 1,7 1,14 1,-17 1,-13 1,36 1,-13 1,-13 1,0 1,0 1,6 1,-26 1,26 1,-11 1,16 1,-3 1,-19 1,34 1,-9 1,-23 1,-2 1,5 1,15 1,12 1,-30 1,2 1,18 1,-8 1,0 1,-1 1,-3 1,29 1,-10 1,-19 1,22 1,9 1,-19 1,-3 1,-11 1,9 1,1 1,15 1,-31 1,-10 1,16 1,12 1,-33 1,25 1,-8 1,-4 1,17 1,14 1,-35 1,22 1,-5 1,11 1,-9 1,-9 1,22 1,-7 1,-20 1,-13 1,17 1,13 1,8 1,-19 1,3 1,-20 1,19 1,8 1,-10 1,7 1,-12 1,1 1,16 1,-25 1,22 1,16 1,-25 1,1 1,-4 1,-7 1,10 1,-9 1,14 1,-4 1,-8 1,16 1,13 1,-3 1,-15 1,4 1,-14 1,11 1,12 1,2 1,8 1,-40 1,43 1,-17 1,16 1,-21 1,17 1,-17 1,-14 1,19 1,-12 1,7 1,7 1,4 1,-2 1,4 1,-34 1,37 1,-27 1,13 1,-7 1,-10 1,27 1,-26 1,7 1,27 1,-50 1,7 1,36 1,-18 1,16 1,-11 1,-6 1,16 1,-19 1,2 1,11 1,-18 1,-5 1,-3 1,35 1,14 1,-10 1,-25 1,2 1,-7 1,14 1,14 1,-15 1,0 1,-43 1,48 1,-21 1,13 1,9 1,-3 1,8 1,11 1,-52 1,10 1,44 1,-16 1,-17 1,7 1,3 1,15 1,-19 1,4 1,-18 1,38 1,-13 1,-13 1,-12 1,18 1,13 1,19 1,-5 1,-32 1,0 1,-8 1,20 1,-17 1,19 1,-4 1,2 1,-20 1,30 1,-19 1,-14 1,16 1,3 1,-1 1,12 1,4 1,14 1,-32 1,18 1,-52 1,61 1,-26 1,18 1,-21 1,11 1,1 1,-17 1,0 1,-31 1,47 1,-10 1,-1 1,20 1,-12 1,-1 1,-29 1,28 1,-6 1,17 1,-20 1,-10 1,13 1,29 1,-37 1,29 1,-20 1,-25 1,36 1,24 1,-26 1,-21 1,12 1,-9 1,51 1,-32 1,-40 1,44 1,-5 1,-20 1,5 1,8 1,25 1,-31 1,-3 1,23 1,-22 1,-5 1,12 1,13 1,-9 1,-7 1,25 1,-1 1,-41 1,6 1,3 1,10 1,5 1,-3 1,2 1,5 1,-23 1,-13 1,34 1,13 1,-14 1,-8 1,13 1,-12 1,-14 1,13 1,16 1,-6 1,5 1,-16 1,14 1,12 1,-24 1,-2 1,23 1,-15 1,-17 1,10 1,24 1,-13 1,20 1,-17 1,-5 1,11 1,-23 1,23 1,-15 1,-3 1,9 1,-12 1,-8 1,3 1,19 1,-3 1,-3 1,9 1,-22 1,6 1,28 1,-35 1,30 1,-21 1,11 1,-4 1,-6 1,5 1,11 1,-22 1,-4 1,25 1,-17 1,3 1,0 1,-3 1,-19 1,23 1,-5 1,-12 1,11 1,11 1,20 1,-31 1,25 1,-24 1,13 1,-10 1,14 1,-9 1,-7 1,-15 1,34 1,-34 1,12 1,32 1,-20 1,-2 1,0 1,2 1,-8 1,9 1,-6 1,-3 1,11 1,2 1,-3 1,8 1,12 1,-2 1,-22 1,-16 1,30 1,-14 1,9 1,-15 1,17 1,-27 1,17 1,-20 1,45 1,-30 1,-25 1,45 1,-4 1,6 1,-34 1,20 1,13 1,-20 1,8 1,-8 1,-2 1,23 1,-29 1,11 1,7 1,-7 1,11 1,-38 1,42 1,-31 1,13 1,-2 1,11 1,-9 1,-3 1,15 1,18 1,-35 1,-1 1,1 1,-8 1,0 1,10 1,15 1,-16 1,-4 1,9 1,-9 1,47 1,-16 1,-20 1,-23 1,15 1,-4 1,0 1,-17 1,22 1,-1 1,-1 1,-8 1,22 1,-17 1,-18 1,16 1,24 1,6 1,-31 1,13 1,9 1,5 1,-18 1,10 1,-10 1,-18 1,36 1,-13 1,6 1,-8 1,-9 1,5 1,11 1,-21 1,37 1,10 1,-60 1,42 1,-18 1,14 1,-6 1,-4 1,14 1,-11 1,19 1,-16 1,-23 1,17 1,2 1,-7 1,-9 1,42 1,-27 1,1 1,-21 1,29 1,-9 1,16 1,8 1,-31 1,-1 1,25 1,-1 1,-10 1,5 1,-14 1,4 1,1 1,-28 1,37 1,1 1,-23 1,5 1,12 1,5 1,-9 1,-6 1,11 1,-4 1,-14 1,9 1,-1 1,13 1,-25 1,6 1,6 1,5 1,31 1,-33 1,16 1,-4 1,7 1,6 1,-16 1,-20 1,8 1,25 1,8 1,-11 1,14 1,-22 1,-20 1,12 1,3 1,8 1,-1 1,-22 1,27 1,-23 1,11 1,5 1,0 1,-2 1,-14 1,5 1,14 1,-18 1,-9 1,-18 1,33 1,-12 1,12 1,-14 1,8 1,1 1,18 1,-24 1,-4 1,17 1,9 1,-23 1,19 1,-7 1,7 1,-31 1,26 1,-5 1,6 1,-12 1,8 1,-27 1,28 1,18 1,-15 1,-2 1,4 1,14 1,-28 1,-10 1,5 1,6 1,10 1,9 1,-20 1,-4 1,25 1,3 1,-25 1,20 1,-12 1,-4 1,5 1,-10 1,-11 1,4 1,9 1,13 1,2 1,6 1,-22 1,10 1,-19 1,7 1,26 1,-15 1,26 1,-16 1,-15 1,-3 1,-18 1,45 1,-4 1,34 1,-20 1,-23 1,-18 1,-10 1,19 1,4 1,-19 1,29 1,4 1,-26 1,9 1,-15 1,32 1,-25 1,-3 1,-11 1,12 1,-9 1,37 1,-6 1,-25 1,5 1,11 1,2 1,-15 1,32 1,-10 1,19 1,-64 1,16 1,30 1,-6 1,-7 1,-11 1,22 1,-14 1,25 1,-3 1,-3 1,-37 1,29 1,20 1,1 1,-8 1,-2 1,-25 1,30 1,5 1,-19 1,1 1,-9 1,5 1,-7 1,11 1,-9 1,-18 1,12 1,14 1,-3 1,17 1,-7 1,5 1,-18 1,15 1,-24 1,0 1,21 1,-8 1,-14 1,23 1,7 1,-9 1,7 1,-5 1,0 1,-23 1,-14 1,20 1,-39 1,36 1,-7 1,16 1,-11 1,10 1,-12 1,8 1,24 1,-34 1,-10 1,42 1,-8 1,-11 1,-5 1,10 1,-9 1,18 1,-17 1,-5 1,16 1,-18 1,18 1,-23 1,9 1,9 1,-12 1,23 1,-14 1,4 1,-29 1,33 1,-6 1,-28 1,30 1,1 1,-14 1,-5 1,-4 1,19 1,0 1,-3 1,30 1,-27 1,2 1,-23 1,25 1,8 1,-24 1,40 1,-35 1,9 1,-7 1,0 1,-33 1,49 1,-40 1,46 1,-32 1,8 1,41 1,-47 1,10 1,-14 1,15 1,8 1,15 1,-56 1,34 1,9 1,4 1,-22 1,11 1,24 1,-20 1,23 1,-44 1,7 1,10 1,-14 1,22 1,-24 1,20 1,-25 1,9 1,15 1,4 1,-20 1,-8 1,28 1,-21 1,19 1,12 1,-9 1,-29 1,37 1,-2 1,-22 1,2 1,25 1,-15 1,1 1,9 1,-7 1,30 1,-19 1,-16 1,0 1,-6 1,20 1,-32 1,28 1,-20 1,-16 1,37 1,-7 1,-2 1,-8 1,4 1,-8 1,26 1,0 1,-18 1,0 1,4 1,8 1,-9 1,-9 1,3 1,7 1,-5 1,-4 1,22 1,-11 1,7 1,-24 1,23 1,-11 1,-4 1,-5 1,0 1,3 1,7 1,-2 1,27 1,-20 1,-3 1,-4 1,-10 1,0 1,16 1,-25 1,41 1,0 1,-41 1,36 1,-1 1,0 1,-6 1,13 1,-33 1,5 1,14 1,-7 1,-20 1,30 1,3 1,-17 1,8 1,8 1,-41 1,21 1,-4 1,9 1,-14 1,-1 1,20 1,21 1,-40 1,38 1,-9 1,1 1,4 1,-23 1,20 1,-35 1,10 1,15 1,6 1,-29 1,-7 1,31 1,-2 1,6 1,-10 1,-17 1,33 1,-5 1,-8 1,26 1,-25 1,17 1,-22 1,-37 1,23 1,-21 1,34 1,18 1,-38 1,32 1,-13 1,16 1,-7 1,-18 1,21 1,-9 1,13 1,14 1,-29 1,25 1,-23 1,9 1,-5 1,-12 1,11 1,-8 1,14 1,-22 1,1 1,25 1,-5 1,1 1,0 1,6 1,-7 1,5 1,-22 1,17 1,-16 1,-7 1,13 1,12 1,-8 1,23 1,-15 1,-3 1,-4 1,-19 1,18 1,0 1,23 1,-34 1,9 1,-8 1,12 1,-25 1,26 1,-3 1,2 1,32 1,-35 1,7 1,-7 1,15 1,15 1,-7 1,-18 1,-21 1,22 1,-27 1,10 1,4 1,-7 1,15 1,-5 1,-5 1,15 1,-15 1,27 1,-9 1,-14 1,12 1,-15 1,1 1,21 1,-34 1,27 1,19 1,-55 1,62 1,-58 1,-4 1,2 1,12 1,8 1,-17 1,22 1,14 1,-22 1,12 1,7 1,15 1,-24 1,10 1,-2 1,-6 1,-6 1,10 1,4 1,-27 1,13 1,9 1,0 1,0 1,18 1,-8 1,-31 1,38 1,-30 1,-2 1,25 1,-18 1,-19 1,31 1,-2 1,1 1,-26 1,30 1,-19 1,20 1,-29 1,4 1,-13 1,16 1,24 1,-11 1,-11 1,26 1,-15 1,7 1,-5 1,-6 1,3 1,4 1,9 1,-7 1,4 1,-27 1,-10 1,29 1,-2 1,4 1,-19 1,15 1,-16 1,15 1,-2 1,-1 1,6 1,-10 1,6 1,10 1,10 1,-14 1,5 1,-3 1,15 1,5 1,-36 1,18 1,-6 1,17 1,-53 1,24 1,-15 1,42 1,-15 1,5 1,-3 1,-2 1,2 1,-11 1,-22 1,32 1,-5 1,-7 1,-1 1,26 1,-27 1,-4 1,22 1,11 1,-37 1,4 1,0 1,19 1,2 1,11 1,-19 1,-3 1,-4 1,23 1,-23 1,-3 1,8 1,2 1,6 1,-14 1,32 1,2 1,-40 1,17 1,-16 1,10 1,-13 1,13 1,7 1,-1 1,-20 1,-9 1,2 1,41 1,-19 1,4 1,18 1,-32 1,18 1,-14 1,11 1,-27 1,20 1,4 1,2 1,-20 1,16 1,15 1,-13 1,12 1,-2 1,-6 1,-8 1,6 1,-13 1,21 1,-5 1,12 1,14 1,-19 1,-3 1,-5" fill="none" stroke="#ff1a12" stroke-width="0.5" vector-effect="non-scaling-stroke"/>
<path transform="translate(377.60,0) scale(0.12,0.1)" d="M0,2099l1,3 1,-9 1,-5 1,0 1,15 1,-3 1,1 1,-13 1,8 1,-6 1,4 1,4 1,0 1,14 1,-17 1,5 1,0 1,6 1,4 1,-8 1,-5 1,8 1,6 1,-9 1,14 1,-12 1,3 1,2 1,15 1,-6 1,-2 1,-8 1,0 1,3 1,14 1,-1 1,-6 1,-5 1,-6 1,9 1,6 1,1 1,0 1,-6 1,7 1,-3 1,7 1,-4 1,4 1,-2 1,-5 1,11 1,-13 1,11 1,-7 1,1 1,5 1,-5 1,-2 1,1 1,-1 1,7 1,2 1,-2 1,-8 1,10 1,5 1,-11 1,1 1,11 1,-6 1,8 1,-8 1,-6 1,8 1,0 1,3 1,-7 1,3 1,15 1,-15 1,13 1,-16 1,8 1,1 1,3 1,-4 1,-4 1,5 1,-9 1,-6 1,6 1,18 1,-4 1,6 1,-8 1,-11 1,3 1,8 1,-6 1,-1 1,0 1,2 1,-7 1,14 1,-7 1,12 1,2 1,-9 1,6 1,1 1,-5 1,-2 1,8 1,-3 1,-5 1,-1 1,3 1,5 1,-1 1,-7 1,2 1,2 1,-3 1,2 1,-5 1,1 1,7 1,0 1,-3 1,14 1,-13 1,5 1,-2 1,-4 1,6 1,3 1,-6 1,3 1,13 1,-21 1,4 1,5 1,-3 1,-5 1,2 1,2 1,0 1,2 1,8 1,-7 1,-3 1,6 1,0 1,-10 1,3 1,-3 1,8 1,4 1,-6 1,8 1,-10 1,2 1,1 1,2 1,8 1,-15 1,9 1,-2 1,6 1,-14 1,1 1,16 1,-2 1,-1 1,-6 1,6 1,-5 1,-6 1,5 1,0 1,-4 1,2 1,0 1,7 1,2 1,1 1,0 1,-11 1,9 1,1 1,-2 1,-7 1,-11 1,17 1,-5 1,10 1,-13 1,11 1,-5 1,-5 1,5 1,2 1,5 1,0 1,3 1,-3 1,-6 1,0 1,4 1,-3 1,-7 1,-2 1,16 1,-4 1,10 1,-13 1,9 1,-5 1,2 1,-2 1,6 1,-3 1,-5 1,2 1,-1 1,2 1,1 1,-3 1,-1 1,3 1,-9 1,12 1,0 1,-18 1,10 1,6 1,-11 1,14 1,3 1,-2 1,2 1,-5 1,5 1,-1 1,-4 1,2 1,-10 1,2 1,13 1,0 1,-9 1,-4 1,-2 1,16 1,-4 1,9 1,-3 1,4 1,-6 1,-8 1,2 1,8 1,-14 1,11 1,-5 1,9 1,-9 1,-1 1,9 1,-22 1,23 1,-4 1,-5 1,7 1,-6 1,6 1,-2 1,3 1,-9 1,2 1,13 1,-8 1,-2 1,-4 1,3 1,4 1,-8 1,6 1,0 1,-9 1,10 1,7 1,-9 1,1 1,3 1,-4 1,-6 1,9 1,-2 1,-1 1,11 1,-7 1,-4 1,0 1,12 1,-4 1,-13 1,13 1,-6 1,0 1,9 1,-2 1,-8 1,4 1,4 1,-4 1,3 1,-6 1,11 1,1 1,-11 1,-4 1,5 1,7 1,-3 1,-1 1,1 1,-8 1,7 1,0 1,-3 1,8 1,-8 1,1 1,6 1,0 1,-3 1,1 1,1 1,0 1,-6 1,9 1,6 1,-8 1,-3 1,7 1,-3 1,-6 1,3 1,-2 1,8 1,-12 1,13 1,-10 1,5 1,-3 1,4 1,4 1,-3 1,-9 1,5 1,2 1,9 1,-12 1,1 1,-2 1,4 1,3 1,-8 1,12 1,0 1,-3 1,0 1,9 1,-18 1,3 1,13 1,-16 1,7 1,-2 1,-4 1,0 1,4 1,3 1,1 1,0 1,-2 1,0 1,3 1,-7 1,-3 1,11 1,-14 1,13 1,3 1,-12 1,-5 1,7 1,6 1,-7 1,10 1,-2 1,-8 1,9 1,-11 1,5 1,4 1,5 1,-3 1,4 1,-14 1,22 1,-20 1,6 1,6 1,-5 1,4 1,-12 1,1 1,3 1,-1 1,4 1,-2 1,-4 1,6 1,-8 1,4 1,5 1,-6 1,4 1,4 1,4 1,-2 1,-1 1,-2 1,-8 1,1 1,0 1,2 1,2 1,-4 1,3 1,7 1,-7 1,-7 1,7 1,1 1,-1 1,12 1,-6 1,4 1,-11 1,7 1,-3 1,-1 1,-4 1,5 1,-10 1,14 1,8 1,-6 1,-17 1,11 1,-4 1,0 1,2 1,7 1,-2 1,-8 1,7 1,-2 1,9 1,-16 1,6 1,-4 1,4 1,-9 1,5 1,4 1,-2 1,-2 1,4 1,-2 1,-2 1,4 1,1 1,1 1,-9 1,6 1,7 1,-12 1,7 1,-2 1,7 1,0 1,-4 1,-3 1,-5 1,4 1,-1 1,4 1,7 1,2 1,-8 1,0 1,-2 1,2 1,-2 1,9 1,-11 1,4 1,-4 1,7 1,4 1,-5 1,-2 1,-1 1,3 1,-5 1,10 1,0 1,-3 1,-1 1,-5 1,10 1,-15 1,3 1,13 1,-11 1,-2 1,-4 1,12 1,1 1,-4 1,-9 1,7 1,-3 1,8 1,2 1,-4 1,0 1,5 1,0 1,-12 1,7 1,-7 1,1 1,9 1,-10 1,4 1,6 1,-3 1,-9 1,6 1,0 1,-3 1,13 1,-9 1,0 1,5 1,-4 1,-7 1,6 1,2 1,-1 1,4 1,-1 1,-2 1,-3 1,1 1,8 1,-15 1,12 1,-3 1,-5 1,3 1,3 1,-9 1,7 1,1 1,-6 1,4 1,6 1,-5 1,-5 1,-3 1,-1 1,12 1,-5 1,0 1,0 1,-3 1,11 1,-5 1,4 1,-12 1,8 1,0 1,-8 1,1 1,0 1,8 1,-4 1,-4 1,6 1,-6 1,4 1,-1 1,-4 1,8 1,-4 1,-11 1,9 1,7 1,-16 1,13 1,-3 1,-6 1,4 1,-5 1,-2 1,8 1,-1 1,-9 1,5 1,2 1,-7 1,10 1,-8 1,4 1,1 1,-8 1,5 1,-2 1,1 1,-5 1,5 1,-2 1,2 1,-3 1,-12 1,2 1,2 1,1 1,-10 1,1 1,-1 1,-5 1,1 1,-12 1,2 1,-10 1,0 1,-12 1,-4 1,-3 1,-17 1,-6 1,-10 1,-17 1,-17 1,-17 1,-25 1,-16 1,-26 1,-22 1,-32 1,-20 1,-25 1,-6 1,-8 1,13 1,15 1,27 1,13 1,34 1,26 1,27 1,16 1,21 1,23 1,7 1,14 1,17 1,-3 1,18 1,7 1,6 1,-2 1,6 1,7 1,4 1,9 1,-1 1,10 1,-3 1,5 1,-3 1,2 1,6 1,3 1,-5 1,9 1,-5 1,9 1,-11 1,5 1,5 1,-2 1,-1 1,5 1,2 1,-5 1,6 1,-5 1,-1 1,9 1,-7 1,1 1,5 1,-6 1,0 1,3 1,2 1,4 1,-5 1,-1 1,-2 1,4 1,-1 1,7 1,-11 1,0 1,0 1,6 1,3 1,5 1,-13 1,8 1,-3 1,9 1,-5 1,5 1,-6 1,4 1,-3 1,-4 1,7 1,-5 1,-8 1,9 1,-4 1,7 1,4 1,-5 1,1 1,-7 1,2 1,1 1,10 1,-9 1,3 1,-9 1,6 1,2 1,-1 1,0 1,3 1,0 1,-7 1,0 1,7 1,1 1,-8 1,8 1,-8 1,5 1,6 1,-12 1,6 1,0 1,-4 1,8 1,-7 1,1 1,-2 1,7 1,0 1,3 1,-6 1,-2 1,9 1,-8 1,5 1,4 1,-4 1,-10 1,3 1,1 1,7 1,-7 1,6 1,-2 1,0 1,-1 1,-3 1,9 1,-5 1,6 1,-10 1,-3 1,12 1,-10 1,5 1,-2 1,1 1,-1 1,-3 1,0 1,6 1,-4 1,10 1,-7 1,5 1,-7 1,5 1,-5 1,-2 1,3 1,0 1,11 1,-15 1,2 1,6 1,-4 1,2 1,2 1,-3 1,-3 1,-2 1,5 1,2 1,-1 1,4 1,-6 1,2 1,-4 1,-4 1,10 1,-5 1,5 1,-5 1,-4 1,3 1,2 1,-1 1,1 1,4 1,-3 1,2 1,-2 1,-2 1,-1 1,-5 1,11 1,2 1,-8 1,0 1,0 1,5 1,-1 1,-1 1,0 1,-6 1,6 1,0 1,2 1,-4 1,1 1,2 1,10 1,-13 1,11 1,-12 1,4 1,-4 1,9 1,-5 1,1 1,3 1,1 1,-8 1,4 1,-3 1,6 1,-12 1,16 1,-9 1,-7 1,9 1,-4 1,3 1,0 1,4 1,-11 1,8 1,3 1,-9 1,8 1,0 1,-5 1,-6 1,9 1,-3 1,8 1,-7 1,4 1,-2 1,0 1,-6 1,2 1,3 1,0 1,0 1,3 1,-3 1,3 1,-3 1,2 1,-4 1,-4 1,9 1,0 1,0 1,-6 1,7 1,-4 1,1 1,-4 1,1 1,0 1,4 1,-5 1,3 1,-2 1,-3 1,5 1,1 1,-1 1,-11 1,15 1,-4 1,-4 1,11 1,-7 1,3 1,-2 1,-10 1,14 1,-9 1,8 1,-4 1,-3 1,-6 1,7 1,-2 1,4 1,-4 1,7 1,-5 1,0 1,10 1,-5 1,-6 1,4 1,-7 1,3 1,2 1,-2 1,-1 1,6 1,-4 1,-1 1,1 1,-1 1,6 1,-2 1,-7 1,11 1,-1 1,-5 1,-3 1,4 1,-3 1,5 1,-3 1,5 1,-11 1,4 1,4 1,-3 1,0 1,-3 1,12 1,-8 1,3 1,-6 1,1 1,2 1,6 1,-1 1,3 1,-2 1,0 1,-7 1,-2 1,8 1,-8 1,5 1,-5 1,-1 1,4 1,-4 1,2 1,4 1,-4 1,5 1,-6 1,3 1,-5 1,8 1,-12 1,8 1,1 1,-12 1,4 1,0 1,5 1,-1 1,0 1,3 1,6 1,-12 1,4 1,-1 1,4 1,-13 1,2 1,1 1,0 1,5 1,-4 1,-6 1,4 1,-3 1,2 1,2 1,-3 1,7 1,3 1,-8 1,-9 1,11 1,1 1,-10 1,1 1,1 1,-5 1,2 1,-5 1,-6 1,-2 1,-2 1,-4 1,5 1,-7 1,-5 1,0 1,-6 1,0 1,-1 1,-8 1,-6 1,-4 1,10 1,-6 1,-3 1,2 1,-2 1,12 1,-1 1,0 1,-1 1,17 1,-4 1,-5 1,9 1,5 1,4 1,-2 1,10 1,1 1,0 1,-1 1,-2 1,6 1,2 1,-2 1,7 1,3 1,-4 1,1 1,3 1,7 1,0 1,-11 1,5 1,12 1,-10 1,8 1,-4 1,3 1,-6 1,2 1,2 1,-1 1,0 1,6 1,-6 1,6 1,-7 1,1 1,4 1,0 1,2 1,-4 1,0 1,-1 1,-4 1,4 1,6 1,-4 1,1 1,4 1,-8 1,5 1,-3 1,6 1,-9 1,4 1,-1 1,1 1,-1 1,9 1,-7 1,0 1,-5 1,1 1,2 1,-2 1,7 1,-4 1,0 1,2 1,-3 1,-1 1,2 1,3 1,-1 1,-3 1,9 1,-4 1,1 1,3 1,-9 1,7 1,-2 1,0 1,-7 1,3 1,3 1,0 1,5 1,-7 1,3 1,-2 1,-4 1,4 1,1 1,6 1,-1 1,-7 1,-1 1,3 1,-2 1,11 1,-6 1,-3 1,-2 1,-2 1,4 1,-9 1,8 1,0 1,7 1,-12 1,10 1,-5 1,4 1,-5 1,4 1,1 1,7 1,-12 1,2 1,0 1,-2 1,2 1,1 1,-2 1,-5 1,8 1,-7 1,5 1,4 1,-8 1,4 1,1 1,0 1,-2 1,2 1,2 1,-6 1,3 1,3 1,-4 1,-2 1,7 1,-1 1,1 1,-3 1,-2 1,7 1,-1 1,-1 1,-5 1,2 1,-3 1,-1 1,4 1,1 1,1 1,-2 1,7 1,-10 1,8 1,-6 1,4 1,-6 1,11 1,-3 1,-11 1,11 1,-4 1,2 1,-3 1,0 1,-5 1,3 1,2 1,-6 1,3 1,3 1,2 1,-3 1,6 1,-7 1,4 1,3 1,-8 1,7 1,-4 1,-3 1,9 1,0 1,-7 1,5 1,0 1,-4 1,8 1,-8 1,-2 1,2 1,0 1,-1 1,0 1,-4 1,7 1,-7 1,9 1,-1 1,-4 1,0 1,-1 1,2 1,6 1,-5 1,-2 1,7 1,-7 1,0 1,9 1,-6 1,2 1,-2 1,0 1,0 1,1 1,5 1,-12 1,-4 1,7 1,-4 1,6 1,-5 1,4 1,4 1,-6 1,-1 1,6 1,-6 1,3 1,-1 1,-4 1,8 1,-7 1,7 1,-2 1,-5 1,2 1,5 1,-5 1,9 1,-11 1,8 1,-10 1,4 1,5 1,-10 1,7 1,-5 1,-1 1,2 1,1 1,0 1,0 1,-1 1,-7 1,14 1,3 1,-6 1,-3 1,-2 1,4 1,0 1,-4 1,2 1,3 1,-1 1,-2 1,1 1,-3 1,2 1,0 1,-3 1,2 1,3 1,1 1,-12 1,3 1,8 1,-2 1,-1 1,-6 1,5 1,1 1,-1 1,-4 1,0 1,3 1,-1 1,3 1,-13 1,5 1,6 1,-9 1,4 1,4 1,-10 1,4 1,5 1,-13 1,-3 1,9 1,-7 1,0 1,-1 1,2 1,-7 1,2 1,-4 1,-5 1,1 1,-6 1,-5 1,7 1,-22 1,-1 1,-4 1,-3 1,-2 1,-6 1,4 1,-13 1,-5 1,3 1,-3 1,1 1,6 1,1 1,6 1,-4 1,10 1,3 1,2 1,2 1,9 1,1 1,10 1,3 1,3 1,11 1,-2 1,-9 1,11 1,1 1,2 1,-1 1,7 1,-11 1,6 1,8 1,0 1,3 1,-3 1,0 1,5 1,-1 1,-6 1,10 1,-7 1,8 1,-2 1,2 1,2 1,-7 1,6 1,-2 1,0 1,1 1,-2 1,3 1,1 1,-3 1,6 1,-3 1,-4 1,5 1,1 1,-7 1,6 1,-2 1,3 1,-2 1,2 1,0 1,-9 1,9 1,1 1,1 1,2 1,-3 1,3 1,-1 1,-5 1,0 1,7 1,-2 1,-9 1,3 1,7 1,-3 1,-6 1,7 1,2 1,-1 1,-2 1,-1 1,-1 1,0 1,3 1,8 1,0 1,-10 1,-4 1,5 1,-1 1,0 1,-5 1,6 1,-2 1,2 1,-5 1,5 1,-4 1,1 1,1 1,0 1,1 1,-1 1,0 1,0 1,0 1,1 1,8 1,-3 1,-6 1,-2 1,8 1,-4 1,2 1,2 1,-10 1,4 1,3 1,4 1,-5 1,1 1,-1 1,0 1,1 1,-3 1,0 1,1 1,3 1,2 1,-4 1,-1 1,5 1,-2 1,0 1,-3 1,-1 1,3 1,-2 1,4 1,-7 1,4 1,-1 1,-3 1,2 1,-3 1,3 1,0 1,10 1,-13 1,6 1,-4 1,2 1,-2 1,-2 1,7 1,-1 1,-10 1,5 1,-1 1,-4 1,5 1,1 1,-2 1,1 1,4 1,-8 1,5 1,3 1,-18 1,9 1,4 1,-4 1,-4 1,6 1,-3 1,-10 1,7 1,-5 1,0 1,-6 1,4 1,-4 1,-6 1,0 1,3 1,-3 1,-13 1,3 1,-5 1,-4 1,0 1,2 1,-5 1,-6 1,3 1,2 1,3 1,-2 1,3 1,3 1,4 1,-6 1,14 1,-1 1,1 1,-1 1,6 1,7 1,-7 1,-2 1,8 1,-1 1,0 1,-4 1,6 1,1 1,-17 1,15 1,1 1,-6 1,-6 1,6 1,6 1,-8 1,4 1,-8 1,-5 1,-4 1,5 1,-11 1,0 1,-1 1,1 1,-1 1,-5 1,2 1,11 1,-3 1,2 1,2 1,5 1,-1 1,9 1,2 1,0 1,5 1,-1 1,1 1,6 1,-2 1,0 1,9 1,-5 1,4 1,4 1,-8 1,4 1,5 1,-4 1,0 1,2 1,0 1,1 1,2 1,0 1,6 1,-5 1,5 1,-5 1,6 1,-6 1,5 1,-3 1,5 1,-8 1,1 1,3 1,-4 1,8 1,-5 1,2 1,2 1,-1 1,-4 1,-2 1,-1 1,2 1,1 1,0 1,4 1,-6 1,0 1,6 1,5 1,-9 1,3 1,0 1,4 1,-1 1,-4 1,5 1,-3 1,2 1,4 1,-13 1,2 1,0 1,1 1,4 1,0 1,6 1,-1 1,-4 1,-1 1,2 1,0 1,-3 1,4 1,-4 1,1 1,0 1,-1 1,-1 1,3 1,-1 1,-3 1,9 1,0 1,0 1,-1 1,-5 1,-2 1,0 1,-3 1,5 1,-5 1,6 1,1 1,-3 1,0 1,2 1,2 1,-3 1,7 1,-9 1,1 1,1 1,0 1,2 1,1 1,-3 1,6 1,-11 1,7 1,-1 1,-4 1,0 1,5 1,3 1,-2 1,-2 1,-1 1,0 1,0 1,3 1,2 1,-2 1,-4 1,4 1,2 1,-9 1,6 1,-2 1,2 1,-5 1,1 1,3 1,-1 1,0 1,-1 1,4 1,2 1,-7 1,4 1,-2 1,2 1,3 1,-3 1,-1 1,-3 1,7 1,2 1,-12 1,8 1,-2 1,-4 1,10 1,-4 1,5 1,-9 1,1 1,-3 1,5 1,-6 1,4 1,5 1,-2 1,1 1,-2 1,2 1,-3 1,-4 1,6 1,-2 1,-2 1,-1 1,7 1,-9 1,3 1,3 1,1 1,-1 1,-6 1,8 1,-3 1,-5 1,8 1,-3 1,-6 1,-3 1,8 1,-1 1,2 1,0 1,-3 1,4 1,-1 1,-4 1,6 1,-2 1,-2 1,2 1,-4 1,0 1,2 1,-3 1,8 1,-4 1,1 1,3 1,-1 1,2 1,-10 1,8 1,-7 1,1 1,1 1,-1 1,-1 1,1 1,3 1,-12 1,2 1,0 1,4 1,-1 1,0 1,4 1,-7 1,-5 1,4 1,3 1,0 1,-8 1,-1 1,-1 1,-1 1,-4 1,-3 1,5 1,-2 1,-6 1,-4 1,-1 1,-3 1,-1 1,3 1,-2 1,4 1,-1 1,0 1,3 1,-5 1,11 1,0 1,6 1,-3 1,2 1,-1 1,11 1,-4 1,4 1,-3 1,4 1,-4 1,2 1,2 1,-1 1,6 1,1 1,1 1,-6 1,2 1,2 1,3 1,-6 1,4 1,4 1,-3 1,0 1,-3 1,3 1,3 1,2 1,-9 1,7 1,-2 1,-2 1,9 1,-3 1,-6 1,1 1,3 1,-5 1,4 1,3 1,-6 1,5 1,1 1,-3 1,3 1,1 1,-1 1,-3 1,5 1,-4 1,2 1,-1 1,0 1,-6 1,10 1,-2 1,-1 1,1 1,-3 1,1 1,2 1,-8 1,4 1,1 1,1 1,-1 1,0 1,3 1,1 1,-1 1,2 1,-1 1,3 1,0 1,-6 1,-1 1,0 1,1 1,3 1,0 1,-1 1,-3 1,1 1,1 1,1 1,-10 1,10 1,1 1,-4 1,7 1,-2 1,0 1,-7 1,7 1,-2 1,0 1,-7 1,2 1,4 1,-3 1,8 1,-8 1,6 1,-1 1,7 1,-8 1,4 1,-6 1,-2 1,5 1,3 1,-6 1,5 1,-1 1,-2 1,1 1,-1 1,-2 1,2 1,1 1,-3 1,-6 1,10 1,-4 1,4 1,-5 1,4 1,-2 1,0 1,1 1,1 1,-6 1,9 1,-1 1,-2 1,-6 1,7 1,-2 1,5 1,-6 1,0 1,4 1,-10 1,6 1,0 1,-6 1,4 1,3 1,1 1,4 1,-2 1,-7 1,6 1,-1 1,-1 1,-4 1,9 1,0 1,-5 1,-3 1,-1 1,0 1,6 1,-8 1,8 1,-4 1,2 1,1 1,5 1,-6 1,-2 1,1 1,-1 1,0 1,-1 1,-3 1,4 1,-6 1,7 1,-5 1,-3 1,5 1,0 1,-2 1,-6 1,0 1,5 1,4 1,-6 1,-1 1,1 1,-5 1,5 1,-5 1,2 1,-2 1,-1 1,2 1,0 1,2 1,6 1,-3 1,-2 1,3 1,-2 1,5 1,0 1,-3 1,1 1,0 1,-3 1,0 1,3 1,-2 1,3 1,2 1,-3 1,2 1,3 1,-6 1,5 1,-7 1,-1 1,3 1,-1 1,-5 1,8 1,-2 1,-6 1,1 1,0 1,-5 1,4 1,-6 1,-2 1,8 1,-7 1,-2 1,1 1,-3 1,8 1,-6 1,1 1,0 1,4 1,-12 1,9 1,-1 1,1 1,4 1,0 1,-6 1,7 1,0 1,5 1,-8 1,9 1,0 1,2 1,0 1,-7 1,9 1,-1 1,-2 1,6 1,-3 1,6 1,-2 1,-6 1,6 1,-2 1,0 1,0 1,4 1,-5 1,4 1,-6 1,6 1,-5 1,0 1,4 1,-3 1,7 1,-6 1,8 1,-3 1,-2 1,2 1,-1 1,6 1,-5 1,-3 1,3 1,-2 1,1 1,-2 1,0 1,4 1,-2 1,2 1,-3 1,1 1,-1 1,5 1,1 1,-5 1,3 1,-7 1,1 1,6 1,-8 1,14 1,-6 1,3 1,-6 1,-3 1,1 1,0 1,5 1,-5 1,0 1,7 1,-8 1,2 1,6 1,3 1,-12 1,-2 1,5 1,2 1,0 1,-2 1,-2 1,6 1,-4 1,0 1,2 1,4 1,-4 1,7 1,-8 1,2 1,-8 1,5 1,1 1,-2 1,0 1,1 1,-2 1,2 1,1 1,1 1,-4 1,2 1,-1 1,5 1,2 1,-5 1,1 1,-2 1,2 1,-2 1,-3 1,7 1,3 1,-5 1,-2 1,1 1,3 1,-6 1,3 1,-2 1,-7 1,5 1,3 1,-1 1,-2 1,-4 1,4 1,0 1,0 1,4 1,-6 1,2 1,-2 1,6 1,-8 1,6 1,-12 1,-1 1,3 1,-3 1,3 1,-2 1,-2 1,-6 1,1 1,1 1,-5 1,0 1,3 1,-4 1,0 1,3 1,-2 1,-5 1,5 1,1 1,2 1,6 1,-2 1,-2 1,-1 1,6 1,-1 1,4 1,-2 1,2 1,-5 1,2 1,1 1,-2 1,3 1,-2 1,0 1,-1 1,1 1,-5 1,7 1,-2 1,1 1,1 1,-2 1,-2 1,6 1,-5 1,3 1,-6 1,5 1,3 1,3 1,0 1,3 1,-4 1,1 1,3 1,-2 1,1 1,2 1,-5 1,2 1,6 1,-3 1,4 1,-3 1,-1 1,5 1,-2 1,2 1,-3 1,0 1,1 1,-1 1,2 1,-2 1,4 1,1 1,0 1,-5 1,7 1,-8 1,5 1,0 1,2 1,-4 1,1 1,4 1,0 1,-6 1,2 1,-1 1,-5 1,11 1,-5 1,2 1,0 1,-4 1,6 1,-4 1,-2 1,5 1,-1 1,-2 1,2 1,5 1,-3 1,-2 1,-1 1,6 1,-6 1,-4 1,9 1,-5 1,-5 1,2 1,1 1,-3 1,4 1,1 1,6 1,-5 1,-1 1,1 1,1 1,2 1,1 1,-9 1,2 1,4 1,5 1,-7 1,5 1,-5 1,0 1,1 1,5 1,-5 1,1 1,1 1,2 1,-3 1,3 1,2 1,-3 1,-3 1,1 1,1 1,-2 1,-2 1,1 1,1 1,-4 1,13 1,-5 1,-4 1,-1 1,6 1,-8 1,2 1,5 1,-3 1,3 1,-2 1,-1 1,-1 1,3 1,-1 1,0 1,-2 1,5 1,-3 1,1 1,-5 1,-1" fill="none" stroke="#0000ff" stroke-width="1.9" vector-effect="non-scaling-stroke"/>
<line x1="457.5" y1="228.4" x2="457.5" y2="251" stroke="#000" stroke-width="1.6" stroke-linecap="round"/>
<line x1="504.8" y1="247.7" x2="504.8" y2="251" stroke="#000" stroke-width="1.6" stroke-linecap="round"/>
<line x1="508.2" y1="245.7" x2="508.2" y2="251" stroke="#000" stroke-width="1.6" stroke-linecap="round"/>
<line x1="511.0" y1="247.9" x2="511.0" y2="251" stroke="#000" stroke-width="1.6" stroke-linecap="round"/>
<line x1="549.1" y1="244.7" x2="549.1" y2="251" stroke="#000" stroke-width="1.6" stroke-linecap="round"/>
<line x1="573.1" y1="246.7" x2="573.1" y2="251" stroke="#000" stroke-width="1.6" stroke-linecap="round"/>
<line x1="577.2" y1="246.7" x2="577.2" y2="251" stroke="#000" stroke-width="1.6" stroke-linecap="round"/>
<line x1="605.3" y1="248.8" x2="605.3" y2="251" stroke="#000" stroke-width="1.6" stroke-linecap="round"/>
<line x1="608.0" y1="247.5" x2="608.0" y2="251" stroke="#000" stroke-width="1.6" stroke-linecap="round"/>
<line x1="632.8" y1="248.3" x2="632.8" y2="251" stroke="#000" stroke-width="1.6" stroke-linecap="round"/>
<line x1="638.3" y1="248.3" x2="638.3" y2="251" stroke="#000" stroke-width="1.6" stroke-linecap="round"/>
<line x1="654.1" y1="248.3" x2="654.1" y2="251" stroke="#000" stroke-width="1.6" stroke-linecap="round"/>
<line x1="657.4" y1="248.1" x2="657.4" y2="251" stroke="#000" stroke-width="1.6" stroke-linecap="round"/>
<line x1="661.3" y1="248.3" x2="661.3" y2="251" stroke="#000" stroke-width="1.6" stroke-linecap="round"/>
<ellipse cx="514" cy="26.4" rx="3.9" ry="13.1" fill="none" stroke="#ebb91e" stroke-width="1.45" stroke-dasharray="0.01 2.65" stroke-linecap="round"/>
<ellipse cx="456.3" cy="103.7" rx="7.3" ry="22.0" fill="none" stroke="#ebb91e" stroke-width="1.8" stroke-dasharray="0.01 2.9" stroke-linecap="round"/>
<ellipse cx="550.1" cy="138.5" rx="7.3" ry="22.0" fill="none" stroke="#ebb91e" stroke-width="1.8" stroke-dasharray="0.01 2.9" stroke-linecap="round"/>
<ellipse cx="576.8" cy="138.5" rx="7.3" ry="22.0" fill="none" stroke="#ebb91e" stroke-width="1.8" stroke-dasharray="0.01 2.9" stroke-linecap="round"/>
<path d="M377.2,2.2 H676.5 V251 H377.2 Z" fill="none" stroke="#000" stroke-width="2.5"/>
<line x1="377.2" y1="31" x2="377.2" y2="60" stroke="#ff00ff" stroke-width="1.6" stroke-opacity="0.45"/>
<line x1="437.05" y1="251" x2="437.05" y2="258.6" stroke="#000" stroke-width="2.5"/>
<text x="437.05" y="277.1" text-anchor="middle" textLength="15.8" lengthAdjust="spacingAndGlyphs" style="font-family:'Liberation Serif',serif;font-weight:bold;font-size:14.8px">20</text>
<line x1="516.85" y1="251" x2="516.85" y2="258.6" stroke="#000" stroke-width="2.5"/>
<text x="516.85" y="277.1" text-anchor="middle" textLength="15.8" lengthAdjust="spacingAndGlyphs" style="font-family:'Liberation Serif',serif;font-weight:bold;font-size:14.8px">40</text>
<line x1="596.65" y1="251" x2="596.65" y2="258.6" stroke="#000" stroke-width="2.5"/>
<text x="596.65" y="277.1" text-anchor="middle" textLength="15.8" lengthAdjust="spacingAndGlyphs" style="font-family:'Liberation Serif',serif;font-weight:bold;font-size:14.8px">60</text>
<line x1="676.45" y1="251" x2="676.45" y2="258.6" stroke="#000" stroke-width="2.5"/>
<text x="676.45" y="277.1" text-anchor="middle" textLength="15.8" lengthAdjust="spacingAndGlyphs" style="font-family:'Liberation Serif',serif;font-weight:bold;font-size:14.8px">80</text>
<text x="534" y="299.1" text-anchor="middle" textLength="72" lengthAdjust="spacingAndGlyphs" style="font-family:'Liberation Serif',serif;font-weight:bold;font-size:15.8px">2 Theta (°)</text>
<text transform="translate(360.6,121.8) rotate(-90)" text-anchor="middle" textLength="94.6" lengthAdjust="spacingAndGlyphs" style="font-family:'Liberation Serif',serif;font-weight:bold;font-size:15.8px">Intensity (cps)</text>
<text x="349.5" y="23.8" style="font-family:'Liberation Serif',serif;font-weight:bold;font-size:24px">b</text>
<text x="524.6" y="31.3" style="font-family:'Liberation Serif',serif;font-size:15.5px" fill="#1a1a1a">TiO<tspan font-size="10" dy="3.6">2</tspan></text>
<text x="561.6" y="31.3" textLength="87.6" lengthAdjust="spacingAndGlyphs" style="font-family:'Liberation Serif',serif;font-size:15.5px" fill="#1a1a1a">PDF#73-1764</text>
<text x="617.1" y="89.9" textLength="39.3" lengthAdjust="spacingAndGlyphs" style="font-family:'Liberation Serif',serif;font-size:15.4px" fill="#1a1a1a">FEVE</text>
<text x="619.8" y="130.5" textLength="37.6" lengthAdjust="spacingAndGlyphs" style="font-family:'Liberation Serif',serif;font-size:15.4px" fill="#1a1a1a">F-S/T</text>
<text x="621.3" y="172.9" style="font-family:'Liberation Serif',serif;font-size:15.6px" fill="#1a1a1a">SiO<tspan font-size="9.7" dy="4.2">2</tspan></text>
<text x="623" y="209.8" style="font-family:'Liberation Serif',serif;font-size:15.6px" fill="#1a1a1a">TiO<tspan font-size="9.7" dy="4.2">2</tspan></text>
<text x="525.2" y="238.9" style="font-family:'Liberation Serif',serif;font-size:16px" fill="#1a1a1a">TiO<tspan font-size="10.3" dy="3.8">2</tspan></text>
<text x="565" y="238.9" textLength="90.2" lengthAdjust="spacingAndGlyphs" style="font-family:'Liberation Serif',serif;font-size:16px" fill="#1a1a1a">PDF#73-1764</text>
</svg></body></html>
